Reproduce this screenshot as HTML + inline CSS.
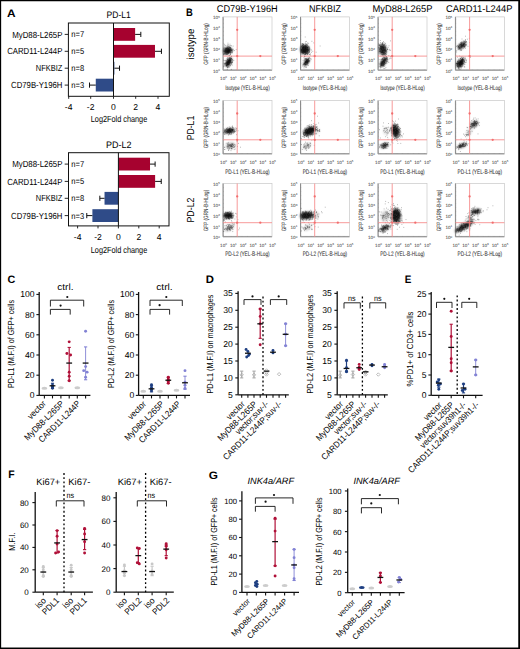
<!DOCTYPE html>
<html><head><meta charset="utf-8"><style>html,body{margin:0;padding:0;background:#fff;width:520px;height:649px;overflow:hidden}svg{display:block}text{font-family:"Liberation Sans", sans-serif;text-rendering:geometricPrecision}</style></head>
<body><svg width="520" height="649" viewBox="0 0 520 649">
<rect width="520" height="649" fill="#fff"/>
<text x="7" y="16.9" font-size="10.8" textLength="8.6" lengthAdjust="spacingAndGlyphs" font-weight="bold" fill="#000">A</text>
<text x="118.65" y="17.7" font-size="9.4" text-anchor="middle" textLength="24.3" lengthAdjust="spacingAndGlyphs">PD-L1</text>
<rect x="113.5" y="28" width="21.63" height="12.8" fill="#a6022f" />
<line x1="135.13" y1="34.4" x2="140.82" y2="34.4" stroke="#111" stroke-width="1" />
<line x1="140.82" y1="31.8" x2="140.82" y2="37" stroke="#111" stroke-width="1" />
<text x="62.4" y="37.5" font-size="8.9" text-anchor="end" textLength="50.2" lengthAdjust="spacingAndGlyphs">MyD88-L265P</text>
<line x1="64.7" y1="34.4" x2="68.4" y2="34.4" stroke="#111" stroke-width="0.9" />
<text x="71.3" y="37.4" font-size="8.5" textLength="12.8" lengthAdjust="spacingAndGlyphs">n=7</text>
<rect x="113.5" y="44.9" width="41.48" height="12.8" fill="#a6022f" />
<line x1="154.98" y1="51.3" x2="161.44" y2="51.3" stroke="#111" stroke-width="1" />
<line x1="161.44" y1="48.7" x2="161.44" y2="53.9" stroke="#111" stroke-width="1" />
<text x="62.4" y="54.4" font-size="8.9" text-anchor="end" textLength="55.2" lengthAdjust="spacingAndGlyphs">CARD11-L244P</text>
<line x1="64.7" y1="51.3" x2="68.4" y2="51.3" stroke="#111" stroke-width="0.9" />
<text x="71.3" y="54.3" font-size="8.5" textLength="12.8" lengthAdjust="spacingAndGlyphs">n=5</text>
<rect x="113.5" y="61.8" width="0.89" height="12.8" fill="#2f4b88" />
<line x1="114.39" y1="68.2" x2="119.52" y2="68.2" stroke="#111" stroke-width="1" />
<line x1="119.52" y1="65.6" x2="119.52" y2="70.8" stroke="#111" stroke-width="1" />
<text x="62.4" y="71.3" font-size="8.9" text-anchor="end" textLength="26.6" lengthAdjust="spacingAndGlyphs">NFKBIZ</text>
<line x1="64.7" y1="68.2" x2="68.4" y2="68.2" stroke="#111" stroke-width="0.9" />
<text x="71.3" y="71.2" font-size="8.5" textLength="12.8" lengthAdjust="spacingAndGlyphs">n=8</text>
<rect x="95.77" y="78.7" width="17.73" height="12.8" fill="#2f4b88" />
<line x1="95.77" y1="85.1" x2="89.53" y2="85.1" stroke="#111" stroke-width="1" />
<line x1="89.53" y1="82.5" x2="89.53" y2="87.7" stroke="#111" stroke-width="1" />
<text x="62.4" y="88.2" font-size="8.9" text-anchor="end" textLength="51.3" lengthAdjust="spacingAndGlyphs">CD79B-Y196H</text>
<line x1="64.7" y1="85.1" x2="68.4" y2="85.1" stroke="#111" stroke-width="0.9" />
<text x="71.3" y="88.1" font-size="8.5" textLength="12.8" lengthAdjust="spacingAndGlyphs">n=3</text>
<rect x="68.4" y="23" width="100.9" height="73.3" fill="none" stroke="#111" stroke-width="1"/>
<line x1="113.5" y1="23" x2="113.5" y2="96.3" stroke="#111" stroke-width="1" />
<line x1="68.7" y1="96.3" x2="68.7" y2="98.8" stroke="#111" stroke-width="0.9" />
<text x="68.7" y="109.9" font-size="8.6" text-anchor="middle">-4</text>
<line x1="90.7" y1="96.3" x2="90.7" y2="98.8" stroke="#111" stroke-width="0.9" />
<text x="90.7" y="109.9" font-size="8.6" text-anchor="middle">-2</text>
<line x1="113.5" y1="96.3" x2="113.5" y2="98.8" stroke="#111" stroke-width="0.9" />
<text x="113.5" y="109.9" font-size="8.6" text-anchor="middle">0</text>
<line x1="135.7" y1="96.3" x2="135.7" y2="98.8" stroke="#111" stroke-width="0.9" />
<text x="135.7" y="109.9" font-size="8.6" text-anchor="middle">2</text>
<line x1="158" y1="96.3" x2="158" y2="98.8" stroke="#111" stroke-width="0.9" />
<text x="158" y="109.9" font-size="8.6" text-anchor="middle">4</text>
<text x="119" y="121.8" font-size="8.9" text-anchor="middle" textLength="56.5" lengthAdjust="spacingAndGlyphs">Log2Fold change</text>
<text x="118.75" y="147.8" font-size="9.4" text-anchor="middle" textLength="25.5" lengthAdjust="spacingAndGlyphs">PD-L2</text>
<rect x="118.4" y="157.7" width="31.62" height="12.8" fill="#a6022f" />
<line x1="150.02" y1="164.1" x2="155.12" y2="164.1" stroke="#111" stroke-width="1" />
<line x1="155.12" y1="161.5" x2="155.12" y2="166.7" stroke="#111" stroke-width="1" />
<text x="62.4" y="167.2" font-size="8.9" text-anchor="end" textLength="50.2" lengthAdjust="spacingAndGlyphs">MyD88-L265P</text>
<line x1="64.7" y1="164.1" x2="68.5" y2="164.1" stroke="#111" stroke-width="0.9" />
<text x="71.3" y="167.1" font-size="8.5" textLength="12.8" lengthAdjust="spacingAndGlyphs">n=7</text>
<rect x="118.4" y="175" width="36.72" height="12.8" fill="#a6022f" />
<line x1="155.12" y1="181.4" x2="161.24" y2="181.4" stroke="#111" stroke-width="1" />
<line x1="161.24" y1="178.8" x2="161.24" y2="184" stroke="#111" stroke-width="1" />
<text x="62.4" y="184.5" font-size="8.9" text-anchor="end" textLength="55.2" lengthAdjust="spacingAndGlyphs">CARD11-L244P</text>
<line x1="64.7" y1="181.4" x2="68.5" y2="181.4" stroke="#111" stroke-width="0.9" />
<text x="71.3" y="184.4" font-size="8.5" textLength="12.8" lengthAdjust="spacingAndGlyphs">n=5</text>
<rect x="104.53" y="191.9" width="13.87" height="12.8" fill="#2f4b88" />
<line x1="104.53" y1="198.3" x2="99.84" y2="198.3" stroke="#111" stroke-width="1" />
<line x1="99.84" y1="195.7" x2="99.84" y2="200.9" stroke="#111" stroke-width="1" />
<text x="62.4" y="201.4" font-size="8.9" text-anchor="end" textLength="26.6" lengthAdjust="spacingAndGlyphs">NFKBIZ</text>
<line x1="64.7" y1="198.3" x2="68.5" y2="198.3" stroke="#111" stroke-width="0.9" />
<text x="71.3" y="201.3" font-size="8.5" textLength="12.8" lengthAdjust="spacingAndGlyphs">n=8</text>
<rect x="92.39" y="209.2" width="26.01" height="12.8" fill="#2f4b88" />
<line x1="92.39" y1="215.6" x2="86.78" y2="215.6" stroke="#111" stroke-width="1" />
<line x1="86.78" y1="213" x2="86.78" y2="218.2" stroke="#111" stroke-width="1" />
<text x="62.4" y="218.7" font-size="8.9" text-anchor="end" textLength="51.3" lengthAdjust="spacingAndGlyphs">CD79B-Y196H</text>
<line x1="64.7" y1="215.6" x2="68.5" y2="215.6" stroke="#111" stroke-width="0.9" />
<text x="71.3" y="218.6" font-size="8.5" textLength="12.8" lengthAdjust="spacingAndGlyphs">n=3</text>
<rect x="68.5" y="152.7" width="100.5" height="73.2" fill="none" stroke="#111" stroke-width="1"/>
<line x1="118.4" y1="152.7" x2="118.4" y2="225.9" stroke="#111" stroke-width="1" />
<line x1="77.6" y1="225.9" x2="77.6" y2="228.4" stroke="#111" stroke-width="0.9" />
<text x="77.6" y="240.2" font-size="8.6" text-anchor="middle">-4</text>
<line x1="98" y1="225.9" x2="98" y2="228.4" stroke="#111" stroke-width="0.9" />
<text x="98" y="240.2" font-size="8.6" text-anchor="middle">-2</text>
<line x1="118.4" y1="225.9" x2="118.4" y2="228.4" stroke="#111" stroke-width="0.9" />
<text x="118.4" y="240.2" font-size="8.6" text-anchor="middle">0</text>
<line x1="138.8" y1="225.9" x2="138.8" y2="228.4" stroke="#111" stroke-width="0.9" />
<text x="138.8" y="240.2" font-size="8.6" text-anchor="middle">2</text>
<line x1="159.2" y1="225.9" x2="159.2" y2="228.4" stroke="#111" stroke-width="0.9" />
<text x="159.2" y="240.2" font-size="8.6" text-anchor="middle">4</text>
<text x="119" y="252.7" font-size="8.9" text-anchor="middle" textLength="56.5" lengthAdjust="spacingAndGlyphs">Log2Fold change</text>
<text x="186" y="16.4" font-size="10.8" textLength="6.8" lengthAdjust="spacingAndGlyphs" font-weight="bold" fill="#000">B</text>
<text x="247.25" y="12.3" font-size="9.8" text-anchor="middle" textLength="60.9" lengthAdjust="spacingAndGlyphs">CD79B-Y196H</text>
<text x="325" y="12.3" font-size="9.8" text-anchor="middle" textLength="32" lengthAdjust="spacingAndGlyphs">NFKBIZ</text>
<text x="402.5" y="12.3" font-size="9.8" text-anchor="middle" textLength="60" lengthAdjust="spacingAndGlyphs">MyD88-L265P</text>
<text x="479.25" y="12.3" font-size="9.8" text-anchor="middle" textLength="66.5" lengthAdjust="spacingAndGlyphs">CARD11-L244P</text>
<text x="193.6" y="44" font-size="10.2" text-anchor="middle" textLength="31" lengthAdjust="spacingAndGlyphs" transform="rotate(-90 193.6 44)">isotype</text>
<text x="193.6" y="128" font-size="10.2" text-anchor="middle" textLength="24.5" lengthAdjust="spacingAndGlyphs" transform="rotate(-90 193.6 128)">PD-L1</text>
<text x="193.6" y="210" font-size="10.2" text-anchor="middle" textLength="25" lengthAdjust="spacingAndGlyphs" transform="rotate(-90 193.6 210)">PD-L2</text>
<defs><filter id="bl" x="-50%" y="-50%" width="200%" height="200%"><feGaussianBlur stdDeviation="0.8"/></filter></defs>
<text x="208.4" y="43.9" font-size="6.2" text-anchor="middle" textLength="41.5" lengthAdjust="spacingAndGlyphs" transform="rotate(-90 208.4 43.9)" fill="#333" stroke="#333" stroke-width="0.06">GFP (GRN-B-HLog)</text>
<text x="219.8" y="72.6" font-size="4.6" text-anchor="end" fill="#333">10<tspan dy="-1.7" font-size="3">0</tspan></text>
<text x="223.5" y="80" font-size="4.6" text-anchor="middle" fill="#333">10<tspan dy="-1.7" font-size="3">0</tspan></text>
<text x="219.8" y="61.94" font-size="4.6" text-anchor="end" fill="#333">10<tspan dy="-1.7" font-size="3">1</tspan></text>
<text x="233.3" y="80" font-size="4.6" text-anchor="middle" fill="#333">10<tspan dy="-1.7" font-size="3">1</tspan></text>
<text x="219.8" y="51.28" font-size="4.6" text-anchor="end" fill="#333">10<tspan dy="-1.7" font-size="3">2</tspan></text>
<text x="243.1" y="80" font-size="4.6" text-anchor="middle" fill="#333">10<tspan dy="-1.7" font-size="3">2</tspan></text>
<text x="219.8" y="40.62" font-size="4.6" text-anchor="end" fill="#333">10<tspan dy="-1.7" font-size="3">3</tspan></text>
<text x="252.9" y="80" font-size="4.6" text-anchor="middle" fill="#333">10<tspan dy="-1.7" font-size="3">3</tspan></text>
<text x="219.8" y="29.96" font-size="4.6" text-anchor="end" fill="#333">10<tspan dy="-1.7" font-size="3">4</tspan></text>
<text x="262.7" y="80" font-size="4.6" text-anchor="middle" fill="#333">10<tspan dy="-1.7" font-size="3">4</tspan></text>
<text x="219.8" y="19.3" font-size="4.6" text-anchor="end" fill="#333">10<tspan dy="-1.7" font-size="3">5</tspan></text>
<text x="272.5" y="80" font-size="4.6" text-anchor="middle" fill="#333">10<tspan dy="-1.7" font-size="3">5</tspan></text>
<text x="247.4" y="89.8" font-size="6.4" text-anchor="middle" textLength="44.5" lengthAdjust="spacingAndGlyphs" fill="#333" stroke="#333" stroke-width="0.06">Isotype (YEL-B-HLog)</text>
<rect x="223" y="16.9" width="49" height="53.3" fill="none" stroke="#c8c8c8" stroke-width="0.7"/>
<line x1="223" y1="16.9" x2="223" y2="70.2" stroke="#777" stroke-width="0.7" />
<line x1="223" y1="70.2" x2="272" y2="70.2" stroke="#777" stroke-width="0.7" />
<path d="M224.22 70.2v-.9M225.45 70.2v-.9M226.68 70.2v-.9M227.9 70.2v-.9M229.12 70.2v-.9M230.35 70.2v-.9M231.57 70.2v-.9M232.8 70.2v-.9M234.03 70.2v-.9M235.25 70.2v-.9M236.47 70.2v-.9M237.7 70.2v-.9M238.93 70.2v-.9M240.15 70.2v-.9M241.38 70.2v-.9M242.6 70.2v-.9M243.82 70.2v-.9M245.05 70.2v-.9M246.28 70.2v-.9M247.5 70.2v-.9M248.72 70.2v-.9M249.95 70.2v-.9M251.18 70.2v-.9M252.4 70.2v-.9M253.62 70.2v-.9M254.85 70.2v-.9M256.07 70.2v-.9M257.3 70.2v-.9M258.52 70.2v-.9M259.75 70.2v-.9M260.98 70.2v-.9M262.2 70.2v-.9M263.43 70.2v-.9M264.65 70.2v-.9M265.88 70.2v-.9M267.1 70.2v-.9M268.32 70.2v-.9M269.55 70.2v-.9M270.77 70.2v-.9M223 18.23h.9M223 19.56h.9M223 20.9h.9M223 22.23h.9M223 23.56h.9M223 24.89h.9M223 26.23h.9M223 27.56h.9M223 28.89h.9M223 30.22h.9M223 31.56h.9M223 32.89h.9M223 34.22h.9M223 35.55h.9M223 36.89h.9M223 38.22h.9M223 39.55h.9M223 40.88h.9M223 42.22h.9M223 43.55h.9M223 44.88h.9M223 46.21h.9M223 47.55h.9M223 48.88h.9M223 50.21h.9M223 51.54h.9M223 52.88h.9M223 54.21h.9M223 55.54h.9M223 56.88h.9M223 58.21h.9M223 59.54h.9M223 60.87h.9M223 62.2h.9M223 63.54h.9M223 64.87h.9M223 66.2h.9M223 67.53h.9M223 68.87h.9" stroke="#666" stroke-width="0.4"/>
<ellipse cx="227.6" cy="50.6" rx="4.2" ry="3.5" transform="rotate(-20 227.6 50.6)" fill="#000" opacity="0.81" filter="url(#bl)"/>
<ellipse cx="228.6" cy="62.2" rx="4.8" ry="2.4" transform="rotate(-58 228.6 62.2)" fill="#000" opacity="0.78" filter="url(#bl)"/>
<path d="M230.0 62.7h.01M225.5 51.2h.01M229.2 60.9h.01M228.3 62.7h.01M225.9 49.1h.01M229.1 45.7h.01M226.6 65.9h.01M230.7 57.4h.01M228.7 61.6h.01M228.9 62.3h.01M230.5 65.1h.01M227.9 52.7h.01M229.3 61.7h.01M228.2 52.6h.01M224.8 51.6h.01M228.7 50.1h.01M227.7 67.5h.01M226.0 60.7h.01M227.8 51.6h.01M227.7 50.9h.01M223.9 49.0h.01M229.2 61.9h.01M227.3 45.1h.01M227.5 64.5h.01M229.5 65.3h.01M229.3 62.1h.01M231.0 49.5h.01M229.0 60.9h.01M228.3 62.5h.01M229.6 67.1h.01M226.2 52.2h.01M229.8 51.8h.01M230.1 62.1h.01M228.3 48.9h.01M228.4 64.2h.01M231.3 56.1h.01M227.2 69.5h.01M230.1 62.5h.01M228.2 52.1h.01M226.8 48.4h.01M223.9 50.5h.01M225.7 48.6h.01M228.6 48.9h.01M227.0 62.1h.01M230.5 53.0h.01M228.6 66.2h.01M228.9 60.7h.01M227.9 62.4h.01M230.6 48.5h.01M226.2 53.1h.01M226.3 63.2h.01M229.2 60.9h.01M224.4 53.6h.01M226.0 62.7h.01M229.2 61.4h.01M226.3 60.8h.01M226.2 51.1h.01M229.5 51.9h.01M225.3 51.0h.01M228.6 62.2h.01M230.2 60.5h.01M223.8 54.3h.01M229.7 51.0h.01M229.7 61.4h.01M228.6 66.0h.01M234.5 50.6h.01M226.6 53.2h.01M228.7 62.5h.01M230.6 52.7h.01M227.9 59.3h.01M229.7 60.1h.01M226.9 62.8h.01M232.2 62.5h.01M231.9 62.4h.01M230.8 61.1h.01M230.4 60.3h.01M227.4 51.8h.01M227.5 61.7h.01M228.5 64.8h.01M225.8 64.0h.01M229.1 47.5h.01M230.6 59.9h.01M229.2 60.9h.01M228.7 59.9h.01M228.6 60.7h.01M224.5 64.6h.01M225.7 45.3h.01M230.0 60.7h.01M229.9 66.1h.01M230.3 49.2h.01M226.9 63.4h.01M227.7 62.5h.01M232.2 51.1h.01M229.4 50.7h.01M230.4 65.6h.01M228.4 64.2h.01M228.1 47.2h.01M231.2 58.8h.01M225.0 50.8h.01M224.1 54.9h.01M229.7 52.4h.01M230.0 61.4h.01M227.0 62.9h.01M231.3 69.4h.01M232.2 59.4h.01M227.7 65.9h.01M231.3 62.1h.01M230.1 47.5h.01M228.3 61.0h.01M224.3 63.6h.01M227.7 64.3h.01M228.6 51.1h.01M228.4 64.4h.01M227.7 63.7h.01M225.0 49.9h.01M225.8 63.9h.01M229.0 59.6h.01M226.1 65.6h.01M225.8 51.8h.01M229.6 57.4h.01M229.7 49.4h.01M232.4 49.5h.01M229.1 48.7h.01M228.6 53.1h.01M231.0 51.0h.01M225.7 63.7h.01M232.1 52.4h.01M229.4 63.3h.01M225.7 54.8h.01M231.6 63.3h.01M231.5 63.2h.01M227.8 51.7h.01M230.3 61.3h.01M227.9 48.9h.01M228.8 52.7h.01M227.0 50.7h.01M229.1 60.6h.01M226.5 65.5h.01M232.2 65.1h.01M230.5 54.2h.01M227.1 51.6h.01M228.0 63.4h.01M224.4 44.3h.01M228.5 50.6h.01M227.7 61.9h.01" stroke="#000" stroke-width="0.8" stroke-linecap="round" opacity="0.42"/>
<path d="M227.8 64.2h.01M228.2 60.4h.01M225.7 53.4h.01M224.4 52.3h.01M226.3 54.5h.01M227.9 62.6h.01M227.4 50.3h.01M228.9 50.1h.01M228.9 62.5h.01M228.3 62.0h.01M228.5 49.9h.01M228.5 53.6h.01M229.3 63.8h.01M236.2 49.6h.01M226.7 65.1h.01M229.3 52.3h.01M228.9 50.9h.01M230.4 61.4h.01M229.8 61.4h.01M228.3 51.6h.01M227.9 49.4h.01M227.5 62.4h.01M227.3 52.1h.01M227.1 49.0h.01M226.9 61.1h.01M230.5 51.3h.01M230.1 60.8h.01M231.8 50.0h.01M225.8 50.4h.01M230.8 45.6h.01M230.2 50.8h.01M225.0 50.4h.01M225.4 53.7h.01M229.5 60.0h.01M226.4 51.5h.01M226.9 63.7h.01M227.1 52.2h.01M230.4 61.2h.01M223.9 53.7h.01M226.7 52.8h.01M230.1 50.2h.01M224.0 60.5h.01M229.6 62.6h.01M231.7 49.2h.01M229.4 60.0h.01M228.3 61.9h.01M228.0 63.6h.01M226.8 64.2h.01M226.9 58.9h.01M226.0 52.7h.01M227.5 51.0h.01M228.7 52.7h.01M227.4 53.5h.01M227.6 65.1h.01M227.5 66.6h.01M229.1 58.7h.01M229.4 51.0h.01M228.2 67.1h.01M228.1 64.7h.01M227.4 52.4h.01M229.2 50.5h.01M231.0 62.7h.01M226.8 61.7h.01M227.1 62.8h.01M224.3 51.5h.01M229.6 62.6h.01M230.8 51.3h.01M229.9 51.4h.01M228.6 51.6h.01M229.1 59.6h.01M229.8 59.1h.01M227.2 48.2h.01M228.9 62.6h.01M228.2 52.2h.01M226.3 66.7h.01M225.2 50.4h.01M228.0 64.1h.01M229.2 50.5h.01M229.6 60.3h.01M227.9 49.5h.01M227.3 54.4h.01M223.6 66.2h.01M231.6 58.5h.01M224.2 48.7h.01M230.3 47.6h.01M230.1 58.8h.01M229.6 58.8h.01M231.5 50.7h.01M231.1 50.7h.01M225.8 51.0h.01M231.2 45.7h.01M227.3 53.4h.01M226.3 48.4h.01M227.9 50.7h.01M224.8 47.4h.01M230.4 54.8h.01M225.2 52.3h.01M227.6 59.8h.01M226.8 64.0h.01M226.2 52.5h.01M228.7 50.7h.01M229.0 62.6h.01M226.0 49.1h.01M229.5 55.5h.01M230.0 60.4h.01M229.2 47.7h.01M228.2 52.4h.01M230.3 63.7h.01M226.8 64.7h.01M229.5 52.1h.01M226.4 65.1h.01M228.3 48.3h.01M230.0 61.6h.01M229.0 63.8h.01M228.6 61.7h.01M227.6 63.8h.01M227.6 63.9h.01M228.6 50.5h.01M232.6 62.7h.01M224.8 66.0h.01M229.3 48.8h.01M228.9 50.5h.01M228.1 67.6h.01M228.7 53.1h.01M230.6 62.4h.01M233.8 60.5h.01M224.6 63.4h.01M228.3 63.8h.01M232.0 51.2h.01M227.0 48.0h.01M226.8 49.1h.01M228.8 51.0h.01M230.6 54.1h.01M228.2 58.0h.01M228.8 51.9h.01M233.1 46.1h.01M227.7 52.9h.01M228.8 49.9h.01M229.0 62.3h.01M231.1 50.1h.01M227.4 51.1h.01M232.1 51.1h.01M228.8 51.6h.01M228.5 62.4h.01M230.4 50.5h.01" stroke="#000" stroke-width="0.8" stroke-linecap="round" opacity="0.42"/>
<path d="M232.2 59.5h.01M227.1 50.7h.01M224.0 51.7h.01M230.6 52.4h.01M230.8 49.0h.01M226.6 50.0h.01M227.9 49.2h.01M225.1 60.6h.01M229.9 58.3h.01M230.3 59.5h.01M227.4 57.8h.01M231.2 58.3h.01M231.2 62.6h.01M229.3 61.1h.01M229.0 60.3h.01M231.0 61.0h.01M229.3 64.2h.01M225.9 62.9h.01M228.3 63.9h.01M226.6 54.3h.01M227.5 67.8h.01M226.1 64.9h.01M230.4 58.3h.01M228.3 50.3h.01M229.2 51.2h.01M230.7 48.9h.01M226.4 48.3h.01M225.2 52.0h.01M228.5 61.2h.01M230.0 49.8h.01M228.1 62.1h.01M223.9 54.2h.01M231.6 56.5h.01M229.6 61.9h.01M227.2 65.3h.01M229.5 62.7h.01M227.4 61.4h.01M227.9 58.8h.01M229.5 49.3h.01M230.8 60.4h.01M227.1 61.7h.01M232.2 52.7h.01M229.4 59.8h.01M231.1 58.3h.01M227.1 53.1h.01M228.0 51.8h.01M229.0 62.5h.01M232.3 50.6h.01M230.2 50.0h.01M228.7 62.2h.01M230.3 59.0h.01M231.2 52.5h.01M226.7 50.7h.01M225.5 63.6h.01M228.8 64.2h.01M229.7 50.1h.01M228.4 51.8h.01M225.7 49.7h.01M230.3 47.4h.01M227.1 63.0h.01M229.5 62.8h.01M225.8 48.3h.01M227.3 54.3h.01M228.4 50.7h.01M230.2 58.6h.01M228.7 63.0h.01M227.2 46.2h.01M229.5 60.3h.01M227.8 60.0h.01M228.6 50.6h.01M232.5 61.6h.01M230.1 60.7h.01M229.1 49.5h.01M230.1 58.3h.01M231.7 50.5h.01M228.9 55.6h.01M228.8 63.7h.01M225.1 49.7h.01M228.2 44.6h.01M228.0 43.2h.01M231.5 64.3h.01M227.6 63.7h.01M231.9 49.1h.01M228.5 51.2h.01M231.1 58.3h.01M229.7 64.5h.01M227.1 50.2h.01M224.8 53.4h.01M229.8 49.2h.01M231.8 48.8h.01M228.8 61.7h.01M229.6 51.8h.01M228.6 64.4h.01M228.1 60.2h.01M226.3 50.9h.01M229.4 60.5h.01M226.0 52.8h.01M229.5 50.2h.01M230.0 44.2h.01M231.3 50.5h.01M231.4 59.8h.01M224.9 54.4h.01M228.3 46.4h.01M227.5 47.4h.01M227.2 60.8h.01M227.6 61.8h.01M232.4 60.7h.01M230.1 62.8h.01M227.5 59.9h.01M230.4 59.7h.01M226.9 50.2h.01M227.2 64.5h.01M227.8 52.1h.01M227.5 59.9h.01M231.9 52.9h.01M227.9 49.0h.01M227.2 62.5h.01M227.4 51.3h.01M225.9 51.7h.01M229.0 63.5h.01M228.1 52.5h.01M227.7 61.8h.01M224.7 45.8h.01M227.8 65.1h.01M227.0 49.5h.01M228.3 61.7h.01M227.5 63.9h.01M229.2 60.3h.01M226.4 65.7h.01M233.2 50.8h.01M226.4 50.2h.01M230.7 59.5h.01M229.6 47.1h.01M229.2 58.1h.01M228.0 48.4h.01M230.6 59.0h.01M228.3 62.4h.01M230.0 49.5h.01M233.4 49.3h.01M229.1 51.1h.01M228.4 60.6h.01M229.3 63.0h.01M226.5 62.6h.01M229.1 46.9h.01" stroke="#000" stroke-width="0.8" stroke-linecap="round" opacity="0.42"/>
<line x1="237.2" y1="16.9" x2="237.2" y2="70.2" stroke="#f58888" stroke-width="0.85" />
<line x1="223" y1="56.1" x2="272" y2="56.1" stroke="#f58888" stroke-width="0.85" />
<circle cx="237.2" cy="29.8" r="1.15" fill="#f26d6d"/>
<circle cx="237.2" cy="56.1" r="1.15" fill="#f26d6d"/>
<circle cx="260.3" cy="56.1" r="1.15" fill="#f26d6d"/>
<text x="285.9" y="43.9" font-size="6.2" text-anchor="middle" textLength="41.5" lengthAdjust="spacingAndGlyphs" transform="rotate(-90 285.9 43.9)" fill="#333" stroke="#333" stroke-width="0.06">GFP (GRN-B-HLog)</text>
<text x="297.3" y="72.6" font-size="4.6" text-anchor="end" fill="#333">10<tspan dy="-1.7" font-size="3">0</tspan></text>
<text x="301" y="80" font-size="4.6" text-anchor="middle" fill="#333">10<tspan dy="-1.7" font-size="3">0</tspan></text>
<text x="297.3" y="61.94" font-size="4.6" text-anchor="end" fill="#333">10<tspan dy="-1.7" font-size="3">1</tspan></text>
<text x="310.8" y="80" font-size="4.6" text-anchor="middle" fill="#333">10<tspan dy="-1.7" font-size="3">1</tspan></text>
<text x="297.3" y="51.28" font-size="4.6" text-anchor="end" fill="#333">10<tspan dy="-1.7" font-size="3">2</tspan></text>
<text x="320.6" y="80" font-size="4.6" text-anchor="middle" fill="#333">10<tspan dy="-1.7" font-size="3">2</tspan></text>
<text x="297.3" y="40.62" font-size="4.6" text-anchor="end" fill="#333">10<tspan dy="-1.7" font-size="3">3</tspan></text>
<text x="330.4" y="80" font-size="4.6" text-anchor="middle" fill="#333">10<tspan dy="-1.7" font-size="3">3</tspan></text>
<text x="297.3" y="29.96" font-size="4.6" text-anchor="end" fill="#333">10<tspan dy="-1.7" font-size="3">4</tspan></text>
<text x="340.2" y="80" font-size="4.6" text-anchor="middle" fill="#333">10<tspan dy="-1.7" font-size="3">4</tspan></text>
<text x="297.3" y="19.3" font-size="4.6" text-anchor="end" fill="#333">10<tspan dy="-1.7" font-size="3">5</tspan></text>
<text x="350" y="80" font-size="4.6" text-anchor="middle" fill="#333">10<tspan dy="-1.7" font-size="3">5</tspan></text>
<text x="324.9" y="89.8" font-size="6.4" text-anchor="middle" textLength="44.5" lengthAdjust="spacingAndGlyphs" fill="#333" stroke="#333" stroke-width="0.06">Isotype (YEL-B-HLog)</text>
<rect x="300.5" y="16.9" width="49" height="53.3" fill="none" stroke="#c8c8c8" stroke-width="0.7"/>
<line x1="300.5" y1="16.9" x2="300.5" y2="70.2" stroke="#777" stroke-width="0.7" />
<line x1="300.5" y1="70.2" x2="349.5" y2="70.2" stroke="#777" stroke-width="0.7" />
<path d="M301.73 70.2v-.9M302.95 70.2v-.9M304.18 70.2v-.9M305.4 70.2v-.9M306.62 70.2v-.9M307.85 70.2v-.9M309.07 70.2v-.9M310.3 70.2v-.9M311.52 70.2v-.9M312.75 70.2v-.9M313.98 70.2v-.9M315.2 70.2v-.9M316.43 70.2v-.9M317.65 70.2v-.9M318.88 70.2v-.9M320.1 70.2v-.9M321.32 70.2v-.9M322.55 70.2v-.9M323.77 70.2v-.9M325 70.2v-.9M326.23 70.2v-.9M327.45 70.2v-.9M328.68 70.2v-.9M329.9 70.2v-.9M331.12 70.2v-.9M332.35 70.2v-.9M333.57 70.2v-.9M334.8 70.2v-.9M336.02 70.2v-.9M337.25 70.2v-.9M338.48 70.2v-.9M339.7 70.2v-.9M340.93 70.2v-.9M342.15 70.2v-.9M343.38 70.2v-.9M344.6 70.2v-.9M345.82 70.2v-.9M347.05 70.2v-.9M348.27 70.2v-.9M300.5 18.23h.9M300.5 19.56h.9M300.5 20.9h.9M300.5 22.23h.9M300.5 23.56h.9M300.5 24.89h.9M300.5 26.23h.9M300.5 27.56h.9M300.5 28.89h.9M300.5 30.22h.9M300.5 31.56h.9M300.5 32.89h.9M300.5 34.22h.9M300.5 35.55h.9M300.5 36.89h.9M300.5 38.22h.9M300.5 39.55h.9M300.5 40.88h.9M300.5 42.22h.9M300.5 43.55h.9M300.5 44.88h.9M300.5 46.21h.9M300.5 47.55h.9M300.5 48.88h.9M300.5 50.21h.9M300.5 51.54h.9M300.5 52.88h.9M300.5 54.21h.9M300.5 55.54h.9M300.5 56.88h.9M300.5 58.21h.9M300.5 59.54h.9M300.5 60.87h.9M300.5 62.2h.9M300.5 63.54h.9M300.5 64.87h.9M300.5 66.2h.9M300.5 67.53h.9M300.5 68.87h.9" stroke="#666" stroke-width="0.4"/>
<ellipse cx="304.8" cy="49.5" rx="4.6" ry="4.8" transform="rotate(0 304.8 49.5)" fill="#000" opacity="0.81" filter="url(#bl)"/>
<ellipse cx="306.5" cy="62" rx="4.2" ry="2.1" transform="rotate(-55 306.5 62)" fill="#000" opacity="0.77" filter="url(#bl)"/>
<path d="M303.0 48.1h.01M307.3 60.5h.01M302.0 54.2h.01M308.0 47.7h.01M307.4 63.0h.01M304.3 59.8h.01M306.6 60.7h.01M302.3 52.5h.01M302.0 44.4h.01M304.9 62.8h.01M303.3 46.8h.01M302.3 46.5h.01M306.0 67.6h.01M307.9 61.0h.01M306.7 60.5h.01M304.7 54.1h.01M305.4 51.6h.01M305.3 45.9h.01M306.1 60.8h.01M307.9 60.2h.01M303.5 51.3h.01M301.7 45.8h.01M307.0 60.6h.01M301.4 50.2h.01M307.2 47.3h.01M302.5 52.2h.01M304.0 51.1h.01M302.8 47.5h.01M306.1 49.8h.01M309.1 48.8h.01M306.4 58.7h.01M304.7 64.4h.01M307.1 52.4h.01M312.8 51.3h.01M306.1 53.2h.01M305.3 46.6h.01M302.2 45.4h.01M307.5 50.5h.01M302.8 48.6h.01M304.6 54.4h.01M305.5 52.4h.01M308.6 61.2h.01M302.6 50.0h.01M309.3 61.7h.01M307.9 47.4h.01M304.3 49.4h.01M307.2 46.1h.01M305.5 54.0h.01M307.6 62.7h.01M306.8 60.0h.01M304.6 63.2h.01M305.7 50.8h.01M306.7 61.6h.01M304.8 50.3h.01M316.1 52.2h.01M306.0 44.3h.01M304.4 52.3h.01M302.4 43.8h.01M302.0 50.5h.01M320.1 46.0h.01M306.9 59.0h.01M306.9 44.8h.01M306.9 50.2h.01M302.6 52.2h.01M303.3 50.3h.01M304.9 45.5h.01M304.1 64.2h.01M303.4 50.7h.01M309.1 47.9h.01M308.7 46.8h.01M305.7 48.7h.01M305.7 43.4h.01M303.3 49.8h.01M307.2 61.2h.01M309.2 60.5h.01M303.4 48.0h.01M303.9 52.3h.01M303.8 46.4h.01M305.2 62.7h.01M307.4 61.5h.01M309.9 58.8h.01M309.7 57.4h.01M302.4 44.9h.01M302.5 45.6h.01M301.9 53.8h.01M308.7 49.9h.01M305.1 64.7h.01M307.8 59.0h.01M307.2 61.9h.01M303.3 44.9h.01M306.2 60.3h.01M305.3 46.8h.01M307.6 49.7h.01M302.7 49.4h.01M308.0 53.6h.01M305.8 61.1h.01M305.6 48.6h.01M303.0 49.0h.01M305.1 52.6h.01M303.4 53.1h.01M304.4 51.5h.01M304.1 46.1h.01M302.0 46.9h.01M304.9 64.4h.01M304.0 47.8h.01M308.3 53.9h.01M307.7 53.4h.01M303.5 49.1h.01M309.2 51.0h.01M307.8 51.9h.01M308.9 52.1h.01M305.6 61.9h.01M302.9 48.5h.01M306.2 53.9h.01M304.9 61.7h.01M302.9 48.6h.01M304.5 58.7h.01M305.5 50.0h.01M305.5 64.5h.01M308.0 61.5h.01M303.6 52.2h.01M304.7 52.2h.01M307.7 53.9h.01M301.3 50.0h.01M308.4 50.2h.01M308.8 49.6h.01M303.8 63.7h.01M305.3 50.2h.01M307.2 65.2h.01M302.8 48.0h.01M304.6 63.9h.01M306.9 62.5h.01M305.5 61.7h.01M303.3 64.1h.01M308.7 60.3h.01" stroke="#000" stroke-width="0.8" stroke-linecap="round" opacity="0.42"/>
<path d="M307.3 60.3h.01M307.7 45.4h.01M306.6 49.5h.01M306.9 45.1h.01M305.8 47.4h.01M304.4 63.8h.01M307.0 62.0h.01M305.9 62.0h.01M301.3 52.7h.01M301.9 46.3h.01M302.4 53.1h.01M301.7 51.2h.01M308.7 62.1h.01M304.6 47.7h.01M305.8 49.2h.01M308.5 59.4h.01M309.8 54.5h.01M304.4 51.4h.01M307.3 61.1h.01M305.4 62.3h.01M302.2 44.9h.01M306.9 62.1h.01M307.7 52.0h.01M301.7 49.3h.01M303.7 51.6h.01M305.1 47.5h.01M306.1 61.9h.01M307.0 62.7h.01M305.6 62.5h.01M306.9 51.7h.01M304.9 51.0h.01M307.4 62.9h.01M307.3 48.0h.01M308.5 58.4h.01M307.5 54.3h.01M303.7 48.0h.01M307.5 62.5h.01M305.3 49.1h.01M302.5 52.7h.01M306.4 60.0h.01M305.5 59.1h.01M307.4 49.5h.01M303.6 44.2h.01M306.5 49.6h.01M306.9 47.1h.01M304.5 56.3h.01M304.1 45.7h.01M303.0 47.1h.01M307.1 51.2h.01M305.3 62.2h.01M302.8 48.8h.01M303.7 53.0h.01M303.4 51.5h.01M309.5 49.0h.01M304.2 50.2h.01M302.0 43.8h.01M301.4 50.2h.01M304.5 60.2h.01M307.6 54.6h.01M306.4 59.7h.01M305.9 65.2h.01M306.3 48.1h.01M307.7 43.0h.01M308.3 63.3h.01M308.3 52.4h.01M305.3 66.8h.01M305.2 48.5h.01M305.3 54.3h.01M305.6 59.1h.01M304.4 47.5h.01M301.1 56.4h.01M308.7 46.7h.01M304.2 50.5h.01M303.7 46.4h.01M304.5 46.5h.01M308.0 50.3h.01M307.3 61.0h.01M303.0 52.8h.01M305.0 65.4h.01M309.1 61.6h.01M303.9 49.5h.01M302.6 51.1h.01M308.5 60.0h.01M308.1 50.7h.01M304.3 50.0h.01M302.8 51.6h.01M307.9 49.6h.01M302.6 47.9h.01M302.8 66.0h.01M306.0 64.6h.01M306.4 63.1h.01M303.1 64.6h.01M314.3 56.4h.01M308.8 60.7h.01M303.1 47.6h.01M309.7 50.9h.01M306.7 61.3h.01M305.8 59.2h.01M305.6 62.8h.01M307.8 59.5h.01M301.7 46.9h.01M303.9 50.8h.01M304.0 67.9h.01M307.0 61.6h.01M305.7 45.2h.01M304.9 64.0h.01M306.1 46.1h.01M301.2 52.1h.01M305.3 61.5h.01M305.9 58.4h.01M303.4 47.3h.01M306.6 62.0h.01M305.0 52.4h.01M303.8 43.9h.01M303.2 49.3h.01M304.6 56.7h.01M307.4 47.6h.01M305.6 47.4h.01M305.2 62.6h.01M307.7 59.5h.01M307.1 61.8h.01M308.1 61.8h.01M308.9 51.9h.01M306.0 50.4h.01M305.3 64.5h.01M302.8 47.2h.01M311.5 52.3h.01M301.2 51.6h.01M303.8 52.5h.01M303.4 44.5h.01M305.5 48.0h.01M309.8 48.8h.01M309.8 60.6h.01M303.6 46.0h.01" stroke="#000" stroke-width="0.8" stroke-linecap="round" opacity="0.42"/>
<path d="M304.3 66.4h.01M302.3 43.6h.01M305.4 49.1h.01M304.9 48.2h.01M306.0 60.1h.01M304.4 48.7h.01M307.2 59.9h.01M301.8 51.2h.01M305.9 62.7h.01M306.2 52.1h.01M306.2 64.5h.01M306.1 47.0h.01M308.0 62.4h.01M306.2 50.7h.01M305.9 61.6h.01M304.4 56.2h.01M306.3 46.5h.01M306.8 44.3h.01M306.3 60.1h.01M301.4 51.2h.01M302.1 45.4h.01M310.3 53.8h.01M305.8 56.6h.01M306.2 45.8h.01M307.7 61.2h.01M307.0 44.2h.01M305.6 48.1h.01M306.8 63.0h.01M304.7 48.3h.01M305.6 46.5h.01M302.2 51.4h.01M303.0 49.9h.01M305.8 58.6h.01M305.6 63.0h.01M309.4 52.5h.01M301.9 52.5h.01M302.9 47.4h.01M305.1 49.9h.01M306.4 67.0h.01M308.3 58.5h.01M301.2 46.4h.01M307.8 48.3h.01M307.2 63.9h.01M305.2 47.9h.01M307.6 51.7h.01M302.2 50.9h.01M306.1 64.1h.01M306.1 60.7h.01M303.3 51.0h.01M309.7 54.3h.01M307.3 47.2h.01M301.3 52.5h.01M304.8 52.0h.01M306.6 61.5h.01M302.9 45.5h.01M306.1 47.2h.01M307.2 47.9h.01M308.9 50.6h.01M306.5 61.7h.01M303.7 47.7h.01M307.1 62.5h.01M309.1 49.6h.01M305.5 63.7h.01M309.5 47.1h.01M307.2 59.7h.01M305.6 49.0h.01M311.4 50.0h.01M305.3 51.2h.01M305.1 49.9h.01M308.3 61.6h.01M307.3 53.6h.01M307.8 48.2h.01M304.5 63.3h.01M307.0 62.9h.01M313.8 42.9h.01M306.4 53.2h.01M306.1 53.5h.01M305.1 51.0h.01M305.8 59.1h.01M309.5 51.3h.01M303.1 50.5h.01M303.9 57.8h.01M305.5 51.2h.01M305.8 53.6h.01M310.3 55.1h.01M310.0 58.5h.01M303.3 44.4h.01M305.2 37.0h.01M305.4 45.2h.01M308.2 59.6h.01M308.5 65.3h.01M304.5 49.1h.01M306.4 60.5h.01M307.0 64.3h.01M306.0 52.5h.01M307.5 64.1h.01M302.9 48.7h.01M306.6 48.7h.01M303.2 64.9h.01M305.6 51.7h.01M303.1 60.3h.01M311.9 41.3h.01M308.0 53.0h.01M305.6 62.0h.01M306.0 47.7h.01M306.9 51.1h.01M303.9 49.6h.01M307.8 61.6h.01M306.2 62.4h.01M306.6 41.4h.01M305.7 54.4h.01M306.2 63.1h.01M309.2 47.8h.01M301.7 49.7h.01M307.1 63.2h.01M309.0 57.1h.01M303.2 53.7h.01M306.5 53.4h.01M308.7 43.3h.01M311.2 59.1h.01M308.2 60.4h.01M302.8 51.9h.01M305.4 41.8h.01M303.7 50.2h.01M307.8 49.1h.01M309.9 49.7h.01M307.2 61.4h.01M303.4 47.3h.01M305.1 50.2h.01M301.7 49.9h.01M307.4 49.7h.01M306.3 62.4h.01M306.9 49.5h.01M304.7 49.1h.01" stroke="#000" stroke-width="0.8" stroke-linecap="round" opacity="0.42"/>
<line x1="314.7" y1="16.9" x2="314.7" y2="70.2" stroke="#f58888" stroke-width="0.85" />
<line x1="300.5" y1="56.1" x2="349.5" y2="56.1" stroke="#f58888" stroke-width="0.85" />
<circle cx="314.7" cy="29.8" r="1.15" fill="#f26d6d"/>
<circle cx="314.7" cy="56.1" r="1.15" fill="#f26d6d"/>
<circle cx="337.8" cy="56.1" r="1.15" fill="#f26d6d"/>
<text x="363.4" y="43.9" font-size="6.2" text-anchor="middle" textLength="41.5" lengthAdjust="spacingAndGlyphs" transform="rotate(-90 363.4 43.9)" fill="#333" stroke="#333" stroke-width="0.06">GFP (GRN-B-HLog)</text>
<text x="374.8" y="72.6" font-size="4.6" text-anchor="end" fill="#333">10<tspan dy="-1.7" font-size="3">0</tspan></text>
<text x="378.5" y="80" font-size="4.6" text-anchor="middle" fill="#333">10<tspan dy="-1.7" font-size="3">0</tspan></text>
<text x="374.8" y="61.94" font-size="4.6" text-anchor="end" fill="#333">10<tspan dy="-1.7" font-size="3">1</tspan></text>
<text x="388.3" y="80" font-size="4.6" text-anchor="middle" fill="#333">10<tspan dy="-1.7" font-size="3">1</tspan></text>
<text x="374.8" y="51.28" font-size="4.6" text-anchor="end" fill="#333">10<tspan dy="-1.7" font-size="3">2</tspan></text>
<text x="398.1" y="80" font-size="4.6" text-anchor="middle" fill="#333">10<tspan dy="-1.7" font-size="3">2</tspan></text>
<text x="374.8" y="40.62" font-size="4.6" text-anchor="end" fill="#333">10<tspan dy="-1.7" font-size="3">3</tspan></text>
<text x="407.9" y="80" font-size="4.6" text-anchor="middle" fill="#333">10<tspan dy="-1.7" font-size="3">3</tspan></text>
<text x="374.8" y="29.96" font-size="4.6" text-anchor="end" fill="#333">10<tspan dy="-1.7" font-size="3">4</tspan></text>
<text x="417.7" y="80" font-size="4.6" text-anchor="middle" fill="#333">10<tspan dy="-1.7" font-size="3">4</tspan></text>
<text x="374.8" y="19.3" font-size="4.6" text-anchor="end" fill="#333">10<tspan dy="-1.7" font-size="3">5</tspan></text>
<text x="427.5" y="80" font-size="4.6" text-anchor="middle" fill="#333">10<tspan dy="-1.7" font-size="3">5</tspan></text>
<text x="402.4" y="89.8" font-size="6.4" text-anchor="middle" textLength="44.5" lengthAdjust="spacingAndGlyphs" fill="#333" stroke="#333" stroke-width="0.06">Isotype (YEL-B-HLog)</text>
<rect x="378" y="16.9" width="49" height="53.3" fill="none" stroke="#c8c8c8" stroke-width="0.7"/>
<line x1="378" y1="16.9" x2="378" y2="70.2" stroke="#777" stroke-width="0.7" />
<line x1="378" y1="70.2" x2="427" y2="70.2" stroke="#777" stroke-width="0.7" />
<path d="M379.23 70.2v-.9M380.45 70.2v-.9M381.68 70.2v-.9M382.9 70.2v-.9M384.12 70.2v-.9M385.35 70.2v-.9M386.57 70.2v-.9M387.8 70.2v-.9M389.02 70.2v-.9M390.25 70.2v-.9M391.48 70.2v-.9M392.7 70.2v-.9M393.93 70.2v-.9M395.15 70.2v-.9M396.38 70.2v-.9M397.6 70.2v-.9M398.82 70.2v-.9M400.05 70.2v-.9M401.27 70.2v-.9M402.5 70.2v-.9M403.73 70.2v-.9M404.95 70.2v-.9M406.18 70.2v-.9M407.4 70.2v-.9M408.62 70.2v-.9M409.85 70.2v-.9M411.07 70.2v-.9M412.3 70.2v-.9M413.52 70.2v-.9M414.75 70.2v-.9M415.98 70.2v-.9M417.2 70.2v-.9M418.43 70.2v-.9M419.65 70.2v-.9M420.88 70.2v-.9M422.1 70.2v-.9M423.32 70.2v-.9M424.55 70.2v-.9M425.77 70.2v-.9M378 18.23h.9M378 19.56h.9M378 20.9h.9M378 22.23h.9M378 23.56h.9M378 24.89h.9M378 26.23h.9M378 27.56h.9M378 28.89h.9M378 30.22h.9M378 31.56h.9M378 32.89h.9M378 34.22h.9M378 35.55h.9M378 36.89h.9M378 38.22h.9M378 39.55h.9M378 40.88h.9M378 42.22h.9M378 43.55h.9M378 44.88h.9M378 46.21h.9M378 47.55h.9M378 48.88h.9M378 50.21h.9M378 51.54h.9M378 52.88h.9M378 54.21h.9M378 55.54h.9M378 56.88h.9M378 58.21h.9M378 59.54h.9M378 60.87h.9M378 62.2h.9M378 63.54h.9M378 64.87h.9M378 66.2h.9M378 67.53h.9M378 68.87h.9" stroke="#666" stroke-width="0.4"/>
<ellipse cx="382.8" cy="49.5" rx="3.8" ry="5.8" transform="rotate(-8 382.8 49.5)" fill="#000" opacity="0.68" filter="url(#bl)"/>
<ellipse cx="383.5" cy="62" rx="5.2" ry="2.4" transform="rotate(-60 383.5 62)" fill="#000" opacity="0.68" filter="url(#bl)"/>
<path d="M383.2 64.9h.01M384.2 49.9h.01M383.7 61.6h.01M385.0 62.4h.01M379.2 53.2h.01M384.1 60.0h.01M383.0 47.0h.01M381.7 54.5h.01M385.6 53.1h.01M383.1 51.7h.01M380.0 59.5h.01M384.0 51.0h.01M380.5 50.1h.01M380.9 53.7h.01M381.3 64.6h.01M381.6 65.5h.01M383.2 50.6h.01M386.3 60.5h.01M386.0 56.9h.01M384.3 62.3h.01M382.0 62.5h.01M387.9 61.2h.01M390.2 58.1h.01M388.8 62.5h.01M381.6 63.4h.01M381.1 47.3h.01M380.5 52.7h.01M386.7 51.9h.01M381.1 47.6h.01M384.6 59.9h.01M382.3 50.1h.01M384.6 57.8h.01M380.4 65.8h.01M384.7 54.0h.01M383.3 62.3h.01M380.2 67.9h.01M383.1 48.9h.01M385.0 47.8h.01M382.1 44.7h.01M385.3 53.2h.01M382.2 63.7h.01M386.9 63.0h.01M385.0 50.9h.01M384.5 44.5h.01M389.8 58.8h.01M381.6 52.6h.01M383.6 41.6h.01M383.1 65.7h.01M382.9 60.8h.01M383.1 52.0h.01M391.2 58.2h.01M383.8 52.2h.01M383.7 50.2h.01M383.1 47.9h.01M382.5 50.5h.01M383.0 50.7h.01M383.5 54.4h.01M385.8 58.0h.01M381.4 65.4h.01M383.7 52.7h.01M379.2 52.1h.01M382.4 42.7h.01M385.3 60.6h.01M387.4 60.9h.01M381.1 60.8h.01M382.7 52.6h.01M385.2 59.7h.01M382.3 44.0h.01M386.4 62.1h.01M384.1 49.6h.01M384.2 62.0h.01M384.6 61.2h.01M384.2 59.1h.01M383.0 57.2h.01M383.9 64.2h.01M383.3 66.1h.01M383.4 52.5h.01M385.2 61.1h.01M387.1 58.4h.01M382.2 59.0h.01M379.4 45.0h.01M386.6 52.3h.01M380.6 64.3h.01M383.5 47.7h.01M384.8 49.0h.01M380.4 51.4h.01M380.1 63.8h.01M383.2 64.5h.01M382.4 61.7h.01M387.7 59.7h.01M386.2 58.5h.01M384.1 62.1h.01M382.9 62.7h.01M384.6 66.2h.01M386.1 50.9h.01M382.0 63.9h.01M381.6 53.1h.01M382.9 62.7h.01M382.2 61.5h.01M385.4 59.5h.01M385.4 47.2h.01M383.3 64.6h.01M382.3 46.5h.01M387.0 49.0h.01M380.2 65.9h.01M385.2 59.9h.01M383.2 61.8h.01M385.4 51.6h.01M386.9 61.1h.01M380.6 46.6h.01M386.2 61.0h.01M381.3 51.2h.01M380.7 51.8h.01M385.5 48.1h.01M383.1 48.0h.01M387.1 57.5h.01M382.0 51.5h.01M386.1 56.4h.01M382.6 52.5h.01M381.5 49.7h.01M381.1 47.9h.01M383.4 64.7h.01M385.2 55.0h.01M384.3 53.7h.01M382.5 58.6h.01M382.9 52.1h.01M384.1 42.8h.01M382.3 43.7h.01M385.6 59.2h.01M382.6 47.5h.01M383.0 65.0h.01M380.7 65.5h.01M390.5 40.9h.01M387.7 49.2h.01M381.2 48.9h.01M383.0 49.8h.01M379.5 44.8h.01M383.6 47.4h.01M384.3 63.0h.01M384.6 53.3h.01M384.1 64.5h.01M385.7 50.0h.01M383.8 63.4h.01M383.6 57.5h.01" stroke="#000" stroke-width="0.8" stroke-linecap="round" opacity="0.42"/>
<path d="M382.1 62.6h.01M384.0 63.8h.01M384.5 60.2h.01M380.1 47.6h.01M380.0 64.1h.01M382.0 51.9h.01M385.1 50.8h.01M385.2 60.3h.01M382.6 51.5h.01M383.3 65.6h.01M384.7 59.8h.01M384.6 59.2h.01M383.9 49.6h.01M383.9 68.6h.01M380.4 46.1h.01M382.1 52.2h.01M380.8 62.7h.01M382.6 43.1h.01M384.1 51.8h.01M382.6 63.9h.01M386.0 45.4h.01M381.6 59.3h.01M384.7 48.0h.01M382.8 51.7h.01M384.9 44.8h.01M382.3 47.2h.01M381.7 64.7h.01M379.0 47.8h.01M381.9 62.6h.01M381.8 65.2h.01M385.3 49.6h.01M382.3 65.1h.01M379.4 48.7h.01M383.7 60.4h.01M383.3 61.2h.01M387.8 59.5h.01M382.9 47.9h.01M382.2 65.8h.01M385.9 67.4h.01M384.6 60.3h.01M381.2 63.2h.01M381.7 59.7h.01M381.6 52.4h.01M384.5 51.2h.01M383.0 61.5h.01M382.7 51.6h.01M382.0 50.1h.01M382.7 63.4h.01M383.7 56.3h.01M381.7 61.7h.01M384.7 47.4h.01M382.5 53.8h.01M379.9 54.2h.01M384.8 60.2h.01M382.2 54.7h.01M385.6 43.4h.01M383.3 53.4h.01M382.4 51.6h.01M382.0 61.4h.01M382.6 50.0h.01M383.4 50.6h.01M386.3 56.6h.01M384.4 57.0h.01M385.8 53.6h.01M384.2 47.6h.01M385.9 53.5h.01M379.9 50.1h.01M383.9 61.7h.01M383.4 46.4h.01M387.2 59.1h.01M382.0 61.9h.01M381.1 49.7h.01M381.4 64.0h.01M383.7 52.3h.01M383.7 60.5h.01M389.7 49.3h.01M385.9 54.6h.01M382.9 59.3h.01M387.8 49.5h.01M388.8 55.5h.01M380.1 48.1h.01M380.4 66.5h.01M383.9 51.0h.01M381.8 64.1h.01M385.8 63.5h.01M383.0 63.7h.01M382.7 46.0h.01M386.7 58.9h.01M381.7 49.0h.01M380.3 67.7h.01M383.7 45.2h.01M382.4 44.4h.01M382.1 63.9h.01M382.1 50.6h.01M384.6 60.1h.01M380.6 46.0h.01M386.3 50.4h.01M382.0 63.2h.01M385.3 51.5h.01M385.7 50.2h.01M383.6 64.1h.01M383.0 47.4h.01M385.8 59.2h.01M384.3 63.4h.01M384.8 59.7h.01M383.5 48.2h.01M381.7 49.2h.01M382.4 54.6h.01M380.9 50.4h.01M383.9 59.4h.01M383.6 63.5h.01M384.4 50.2h.01M380.9 48.3h.01M384.8 52.5h.01M386.7 58.5h.01M381.0 48.8h.01M384.8 54.3h.01M387.7 58.1h.01M385.2 50.1h.01M384.5 59.1h.01M382.6 44.8h.01M382.1 49.9h.01M381.8 62.3h.01M380.6 48.1h.01M378.8 44.1h.01M386.3 58.5h.01M381.2 67.2h.01M383.3 47.2h.01M379.4 51.4h.01M386.3 59.4h.01M381.3 46.9h.01M384.3 62.5h.01M384.8 59.3h.01M389.0 45.8h.01M384.7 54.5h.01M381.6 46.6h.01M383.2 48.5h.01M381.6 46.1h.01M379.8 50.5h.01M380.8 44.6h.01M381.9 64.0h.01M384.1 64.6h.01M380.7 61.9h.01M384.7 50.8h.01" stroke="#000" stroke-width="0.8" stroke-linecap="round" opacity="0.42"/>
<path d="M384.4 58.1h.01M388.1 47.4h.01M383.8 59.7h.01M382.1 46.6h.01M384.7 46.4h.01M381.7 47.0h.01M385.4 60.1h.01M380.8 65.9h.01M381.3 65.9h.01M381.9 62.9h.01M380.5 42.7h.01M381.4 48.4h.01M385.3 48.9h.01M381.6 46.3h.01M383.1 58.9h.01M380.3 46.6h.01M380.3 64.1h.01M383.5 65.9h.01M381.9 64.6h.01M384.8 49.5h.01M381.4 64.0h.01M383.6 60.8h.01M385.6 58.5h.01M387.1 61.7h.01M385.9 47.3h.01M383.1 54.7h.01M382.5 62.2h.01M382.7 49.8h.01M383.0 60.0h.01M384.1 61.7h.01M381.4 51.0h.01M382.7 65.3h.01M383.2 53.2h.01M379.9 49.1h.01M384.0 50.4h.01M385.9 63.1h.01M381.8 52.4h.01M381.4 65.0h.01M382.9 55.4h.01M383.9 47.2h.01M382.2 51.4h.01M386.3 61.2h.01M390.1 50.2h.01M382.9 58.5h.01M383.5 44.7h.01M382.3 59.6h.01M386.3 54.5h.01M384.4 62.8h.01M381.7 48.9h.01M379.4 51.4h.01M384.2 46.1h.01M382.6 48.1h.01M384.9 61.6h.01M382.9 61.8h.01M379.3 45.7h.01M386.9 58.9h.01M381.0 63.5h.01M385.9 58.1h.01M384.4 45.6h.01M384.1 62.3h.01M385.9 53.2h.01M383.6 61.2h.01M378.9 45.3h.01M382.9 62.7h.01M383.7 49.1h.01M381.2 44.1h.01M383.2 60.6h.01M390.1 50.5h.01M381.7 47.5h.01M383.5 49.3h.01M380.7 48.2h.01M383.6 61.9h.01M387.6 49.2h.01M380.9 46.3h.01M380.3 51.7h.01M379.7 49.7h.01M385.2 63.6h.01M382.1 66.7h.01M382.3 50.2h.01M386.7 57.5h.01M381.0 56.2h.01M385.1 48.6h.01M383.5 53.5h.01M379.2 66.5h.01M380.1 51.8h.01M384.3 60.8h.01M382.3 52.5h.01M382.6 62.1h.01M386.0 59.2h.01M380.8 45.8h.01M384.4 53.2h.01M386.2 59.4h.01M384.9 68.5h.01M382.3 59.9h.01M382.3 46.6h.01M383.4 54.8h.01M379.9 49.5h.01M381.9 48.9h.01M383.5 47.9h.01M384.7 50.4h.01M380.3 40.5h.01M385.4 46.8h.01M383.9 48.4h.01M382.9 52.2h.01M384.1 64.1h.01M381.2 52.1h.01M382.8 43.2h.01M384.4 62.4h.01M382.7 64.9h.01M383.7 63.9h.01M383.3 62.9h.01M382.0 61.8h.01M386.5 56.6h.01M384.3 55.3h.01M381.6 63.5h.01M382.4 63.2h.01M384.1 61.4h.01M383.9 60.5h.01M381.8 48.8h.01M384.2 49.8h.01M381.2 62.6h.01M384.1 46.6h.01M385.6 55.6h.01M383.5 60.5h.01M383.2 50.1h.01M382.2 55.0h.01M384.8 62.5h.01M391.8 56.0h.01M383.4 45.5h.01M385.8 50.7h.01M384.5 52.4h.01M380.7 48.8h.01M383.0 62.9h.01M386.1 51.5h.01M384.8 65.1h.01M382.1 65.6h.01M380.3 51.3h.01M390.4 56.6h.01M382.4 48.0h.01M379.4 45.4h.01M380.8 48.6h.01M385.8 50.3h.01M382.0 48.7h.01" stroke="#000" stroke-width="0.8" stroke-linecap="round" opacity="0.42"/>
<line x1="392.2" y1="16.9" x2="392.2" y2="70.2" stroke="#f58888" stroke-width="0.85" />
<line x1="378" y1="56.1" x2="427" y2="56.1" stroke="#f58888" stroke-width="0.85" />
<circle cx="392.2" cy="29.8" r="1.15" fill="#f26d6d"/>
<circle cx="392.2" cy="56.1" r="1.15" fill="#f26d6d"/>
<circle cx="415.3" cy="56.1" r="1.15" fill="#f26d6d"/>
<text x="440.8" y="43.9" font-size="6.2" text-anchor="middle" textLength="41.5" lengthAdjust="spacingAndGlyphs" transform="rotate(-90 440.8 43.9)" fill="#333" stroke="#333" stroke-width="0.06">GFP (GRN-B-HLog)</text>
<text x="452.2" y="72.6" font-size="4.6" text-anchor="end" fill="#333">10<tspan dy="-1.7" font-size="3">0</tspan></text>
<text x="455.9" y="80" font-size="4.6" text-anchor="middle" fill="#333">10<tspan dy="-1.7" font-size="3">0</tspan></text>
<text x="452.2" y="61.94" font-size="4.6" text-anchor="end" fill="#333">10<tspan dy="-1.7" font-size="3">1</tspan></text>
<text x="465.7" y="80" font-size="4.6" text-anchor="middle" fill="#333">10<tspan dy="-1.7" font-size="3">1</tspan></text>
<text x="452.2" y="51.28" font-size="4.6" text-anchor="end" fill="#333">10<tspan dy="-1.7" font-size="3">2</tspan></text>
<text x="475.5" y="80" font-size="4.6" text-anchor="middle" fill="#333">10<tspan dy="-1.7" font-size="3">2</tspan></text>
<text x="452.2" y="40.62" font-size="4.6" text-anchor="end" fill="#333">10<tspan dy="-1.7" font-size="3">3</tspan></text>
<text x="485.3" y="80" font-size="4.6" text-anchor="middle" fill="#333">10<tspan dy="-1.7" font-size="3">3</tspan></text>
<text x="452.2" y="29.96" font-size="4.6" text-anchor="end" fill="#333">10<tspan dy="-1.7" font-size="3">4</tspan></text>
<text x="495.1" y="80" font-size="4.6" text-anchor="middle" fill="#333">10<tspan dy="-1.7" font-size="3">4</tspan></text>
<text x="452.2" y="19.3" font-size="4.6" text-anchor="end" fill="#333">10<tspan dy="-1.7" font-size="3">5</tspan></text>
<text x="504.9" y="80" font-size="4.6" text-anchor="middle" fill="#333">10<tspan dy="-1.7" font-size="3">5</tspan></text>
<text x="479.8" y="89.8" font-size="6.4" text-anchor="middle" textLength="44.5" lengthAdjust="spacingAndGlyphs" fill="#333" stroke="#333" stroke-width="0.06">Isotype (YEL-B-HLog)</text>
<rect x="455.4" y="16.9" width="49" height="53.3" fill="none" stroke="#c8c8c8" stroke-width="0.7"/>
<line x1="455.4" y1="16.9" x2="455.4" y2="70.2" stroke="#777" stroke-width="0.7" />
<line x1="455.4" y1="70.2" x2="504.4" y2="70.2" stroke="#777" stroke-width="0.7" />
<path d="M456.62 70.2v-.9M457.85 70.2v-.9M459.07 70.2v-.9M460.3 70.2v-.9M461.52 70.2v-.9M462.75 70.2v-.9M463.97 70.2v-.9M465.2 70.2v-.9M466.42 70.2v-.9M467.65 70.2v-.9M468.88 70.2v-.9M470.1 70.2v-.9M471.32 70.2v-.9M472.55 70.2v-.9M473.77 70.2v-.9M475 70.2v-.9M476.22 70.2v-.9M477.45 70.2v-.9M478.67 70.2v-.9M479.9 70.2v-.9M481.12 70.2v-.9M482.35 70.2v-.9M483.57 70.2v-.9M484.8 70.2v-.9M486.02 70.2v-.9M487.25 70.2v-.9M488.47 70.2v-.9M489.7 70.2v-.9M490.92 70.2v-.9M492.15 70.2v-.9M493.38 70.2v-.9M494.6 70.2v-.9M495.82 70.2v-.9M497.05 70.2v-.9M498.27 70.2v-.9M499.5 70.2v-.9M500.72 70.2v-.9M501.95 70.2v-.9M503.17 70.2v-.9M455.4 18.23h.9M455.4 19.56h.9M455.4 20.9h.9M455.4 22.23h.9M455.4 23.56h.9M455.4 24.89h.9M455.4 26.23h.9M455.4 27.56h.9M455.4 28.89h.9M455.4 30.22h.9M455.4 31.56h.9M455.4 32.89h.9M455.4 34.22h.9M455.4 35.55h.9M455.4 36.89h.9M455.4 38.22h.9M455.4 39.55h.9M455.4 40.88h.9M455.4 42.22h.9M455.4 43.55h.9M455.4 44.88h.9M455.4 46.21h.9M455.4 47.55h.9M455.4 48.88h.9M455.4 50.21h.9M455.4 51.54h.9M455.4 52.88h.9M455.4 54.21h.9M455.4 55.54h.9M455.4 56.88h.9M455.4 58.21h.9M455.4 59.54h.9M455.4 60.87h.9M455.4 62.2h.9M455.4 63.54h.9M455.4 64.87h.9M455.4 66.2h.9M455.4 67.53h.9M455.4 68.87h.9" stroke="#666" stroke-width="0.4"/>
<ellipse cx="462" cy="45.5" rx="4.8" ry="2.6" transform="rotate(-45 462 45.5)" fill="#000" opacity="0.64" filter="url(#bl)"/>
<ellipse cx="460.5" cy="63" rx="5.4" ry="3" transform="rotate(-55 460.5 63)" fill="#000" opacity="0.81" filter="url(#bl)"/>
<path d="M460.9 42.7h.01M461.0 63.1h.01M462.5 65.3h.01M463.5 48.1h.01M462.2 62.3h.01M462.3 45.4h.01M460.5 64.2h.01M465.3 44.6h.01M459.8 64.4h.01M457.8 46.1h.01M463.8 63.0h.01M465.3 58.3h.01M457.9 66.2h.01M460.0 69.4h.01M462.0 59.6h.01M463.8 63.2h.01M463.4 44.7h.01M458.3 67.3h.01M458.3 63.0h.01M463.6 44.9h.01M462.6 46.4h.01M456.6 46.5h.01M460.8 61.9h.01M461.9 46.8h.01M462.8 46.7h.01M462.1 46.5h.01M460.3 58.3h.01M464.6 46.1h.01M457.0 66.1h.01M462.9 58.2h.01M464.3 58.2h.01M456.8 63.8h.01M462.3 46.0h.01M462.3 63.7h.01M460.9 61.1h.01M467.3 39.2h.01M458.8 63.3h.01M459.0 63.5h.01M463.0 44.8h.01M462.1 43.8h.01M466.3 60.4h.01M460.4 62.8h.01M461.7 62.6h.01M459.9 48.4h.01M466.6 62.1h.01M462.3 58.3h.01M466.3 60.0h.01M462.9 56.3h.01M464.7 47.0h.01M457.6 61.9h.01M456.8 50.6h.01M457.6 61.7h.01M459.3 47.2h.01M462.2 61.4h.01M464.0 41.5h.01M465.7 42.5h.01M461.2 50.3h.01M460.9 44.2h.01M464.5 43.4h.01M461.5 46.1h.01M460.6 62.1h.01M463.5 57.5h.01M462.0 64.2h.01M460.5 64.3h.01M459.3 48.0h.01M461.2 68.0h.01M462.1 61.9h.01M466.1 42.4h.01M461.5 45.3h.01M462.8 58.9h.01M461.6 43.4h.01M459.4 60.9h.01M459.4 47.6h.01M459.8 64.7h.01M456.7 52.0h.01M464.0 44.3h.01M458.3 44.2h.01M461.5 60.0h.01M462.5 59.6h.01M462.5 46.4h.01M462.0 64.0h.01M464.8 64.5h.01M462.1 62.2h.01M460.5 43.8h.01M458.1 60.1h.01M457.2 65.4h.01M460.8 66.3h.01M460.0 64.3h.01M465.0 45.1h.01M461.0 46.6h.01M461.5 64.5h.01M458.8 59.2h.01M458.9 69.0h.01M457.8 63.0h.01M463.5 60.6h.01M460.4 65.7h.01M459.9 43.7h.01M462.2 63.8h.01M464.8 60.4h.01M458.6 46.4h.01M461.5 66.9h.01M461.6 43.7h.01M460.8 63.0h.01M462.0 39.0h.01M457.6 63.7h.01M457.3 64.2h.01M460.4 65.1h.01M463.4 45.1h.01M462.7 44.7h.01M464.0 46.3h.01M465.3 59.1h.01M463.0 42.8h.01M463.0 43.3h.01M463.9 44.8h.01M460.9 61.3h.01M462.3 61.6h.01M459.6 62.1h.01M457.5 46.8h.01M460.2 46.9h.01M463.0 59.5h.01M464.8 42.8h.01M456.4 63.9h.01M463.2 45.9h.01M460.8 44.2h.01" stroke="#000" stroke-width="0.8" stroke-linecap="round" opacity="0.42"/>
<path d="M458.4 66.2h.01M464.7 45.4h.01M459.5 67.0h.01M461.1 62.0h.01M465.4 40.5h.01M470.6 57.3h.01M461.6 63.8h.01M461.1 44.5h.01M460.3 61.6h.01M463.2 45.9h.01M462.8 59.1h.01M464.9 46.5h.01M461.8 47.5h.01M462.9 60.0h.01M462.6 59.1h.01M461.7 61.4h.01M462.1 60.1h.01M460.9 62.6h.01M458.0 48.2h.01M464.8 67.0h.01M460.9 50.2h.01M461.1 63.2h.01M461.2 44.6h.01M459.6 48.8h.01M458.2 60.6h.01M460.5 60.7h.01M461.0 56.6h.01M463.3 45.8h.01M462.2 62.1h.01M457.9 47.2h.01M457.0 65.3h.01M460.9 63.2h.01M460.6 61.3h.01M460.3 58.8h.01M462.6 66.4h.01M460.1 62.9h.01M463.7 46.9h.01M457.9 64.3h.01M461.9 59.5h.01M464.2 60.0h.01M459.6 56.0h.01M465.5 48.2h.01M458.6 61.8h.01M460.5 66.7h.01M461.2 66.6h.01M462.0 61.1h.01M457.9 63.8h.01M459.4 66.4h.01M464.9 42.0h.01M462.1 61.7h.01M461.9 45.8h.01M461.4 61.2h.01M462.0 63.7h.01M463.0 45.2h.01M459.1 64.2h.01M460.0 44.5h.01M460.5 64.0h.01M461.2 49.9h.01M458.4 46.3h.01M456.5 63.3h.01M463.4 44.5h.01M466.1 41.8h.01M461.4 63.5h.01M465.5 41.9h.01M459.9 62.7h.01M461.7 60.2h.01M458.1 62.4h.01M460.5 61.8h.01M462.7 62.7h.01M459.0 64.1h.01M461.3 64.3h.01M457.5 66.4h.01M459.3 63.2h.01M459.7 46.7h.01M463.6 43.8h.01M463.2 61.5h.01M464.5 61.6h.01M461.9 63.3h.01M463.8 42.2h.01M457.3 63.4h.01M458.1 49.3h.01M458.7 67.3h.01M464.7 46.0h.01M461.4 61.4h.01M457.9 45.5h.01M459.8 47.5h.01M463.0 61.3h.01M458.8 46.3h.01M463.5 43.6h.01M469.4 42.5h.01M460.1 46.0h.01M460.3 66.9h.01M460.4 62.5h.01M461.8 64.0h.01M458.5 46.4h.01M462.1 60.4h.01M462.0 48.0h.01M462.5 58.5h.01M458.6 62.0h.01M459.5 66.7h.01M460.1 65.5h.01M462.9 60.7h.01M462.0 57.8h.01M461.4 45.3h.01M459.5 45.6h.01M461.6 62.1h.01M460.6 65.0h.01M460.9 42.6h.01M464.7 47.7h.01M458.7 49.4h.01M463.1 64.7h.01M461.8 46.0h.01M464.8 43.8h.01M460.7 48.4h.01M462.4 63.9h.01M462.7 45.0h.01M459.1 63.5h.01M458.0 64.9h.01M460.3 44.9h.01M459.9 64.4h.01M457.5 66.6h.01M459.5 64.2h.01M458.5 47.7h.01M463.7 45.1h.01" stroke="#000" stroke-width="0.8" stroke-linecap="round" opacity="0.42"/>
<path d="M462.0 42.2h.01M458.3 65.7h.01M462.4 60.7h.01M457.2 65.1h.01M461.1 64.3h.01M465.5 45.1h.01M466.5 44.6h.01M462.6 45.8h.01M461.5 42.2h.01M457.6 63.9h.01M465.5 36.2h.01M461.7 43.9h.01M465.0 44.3h.01M464.1 46.5h.01M461.5 45.1h.01M469.3 38.3h.01M465.4 62.5h.01M465.6 45.9h.01M457.9 63.8h.01M461.9 63.2h.01M463.3 46.3h.01M458.0 62.1h.01M458.9 63.8h.01M460.9 61.4h.01M461.6 61.8h.01M461.3 64.8h.01M460.2 61.5h.01M459.8 65.8h.01M460.9 62.7h.01M461.5 46.3h.01M459.8 62.7h.01M462.7 45.4h.01M459.8 60.3h.01M464.2 66.7h.01M456.7 63.6h.01M461.6 60.8h.01M459.0 68.6h.01M456.8 62.9h.01M459.1 63.3h.01M465.1 57.0h.01M468.0 46.3h.01M461.9 61.3h.01M461.9 63.0h.01M463.3 63.4h.01M461.7 63.9h.01M462.3 63.8h.01M459.3 48.4h.01M462.5 60.2h.01M461.4 65.7h.01M457.6 63.7h.01M458.7 47.7h.01M461.2 47.3h.01M463.1 45.1h.01M460.9 62.7h.01M463.5 44.5h.01M462.0 43.1h.01M459.9 64.5h.01M458.6 48.0h.01M460.0 49.6h.01M457.6 57.2h.01M464.5 61.4h.01M460.4 61.9h.01M460.2 47.7h.01M460.4 45.9h.01M465.2 41.7h.01M464.4 43.9h.01M460.3 66.1h.01M464.0 43.3h.01M461.0 65.1h.01M458.2 66.9h.01M459.0 62.3h.01M462.7 60.3h.01M466.4 45.2h.01M462.6 60.2h.01M461.5 57.2h.01M457.4 63.1h.01M461.5 63.4h.01M461.5 60.5h.01M461.4 62.9h.01M461.2 44.1h.01M465.6 39.5h.01M458.0 61.4h.01M461.8 45.1h.01M461.4 62.5h.01M459.4 62.2h.01M457.0 45.3h.01M464.5 62.1h.01M460.6 62.2h.01M464.4 41.8h.01M461.6 43.9h.01M464.3 44.1h.01M462.8 63.8h.01M459.5 64.7h.01M462.0 59.4h.01M464.0 40.8h.01M463.6 59.4h.01M459.8 44.9h.01M461.6 62.2h.01M459.4 65.4h.01M460.7 44.7h.01M461.2 45.9h.01M459.1 45.5h.01M463.9 45.0h.01M459.0 63.0h.01M457.3 61.7h.01M460.8 63.7h.01M458.0 64.0h.01M459.8 44.4h.01M459.8 62.3h.01M463.0 59.5h.01M461.4 61.1h.01M462.4 60.0h.01M458.7 46.3h.01M458.4 68.6h.01M460.5 58.7h.01M460.1 45.2h.01M464.6 46.7h.01M466.6 41.5h.01M461.5 62.6h.01M460.2 63.5h.01M461.5 46.3h.01M462.3 62.6h.01M456.2 64.0h.01" stroke="#000" stroke-width="0.8" stroke-linecap="round" opacity="0.42"/>
<line x1="469.6" y1="16.9" x2="469.6" y2="70.2" stroke="#f58888" stroke-width="0.85" />
<line x1="455.4" y1="56.1" x2="504.4" y2="56.1" stroke="#f58888" stroke-width="0.85" />
<circle cx="469.6" cy="29.8" r="1.15" fill="#f26d6d"/>
<circle cx="469.6" cy="56.1" r="1.15" fill="#f26d6d"/>
<circle cx="492.7" cy="56.1" r="1.15" fill="#f26d6d"/>
<text x="208.4" y="127.6" font-size="6.2" text-anchor="middle" textLength="41.5" lengthAdjust="spacingAndGlyphs" transform="rotate(-90 208.4 127.6)" fill="#333" stroke="#333" stroke-width="0.06">GFP (GRN-B-HLog)</text>
<text x="219.8" y="156.3" font-size="4.6" text-anchor="end" fill="#333">10<tspan dy="-1.7" font-size="3">0</tspan></text>
<text x="223.5" y="163.7" font-size="4.6" text-anchor="middle" fill="#333">10<tspan dy="-1.7" font-size="3">0</tspan></text>
<text x="219.8" y="145.64" font-size="4.6" text-anchor="end" fill="#333">10<tspan dy="-1.7" font-size="3">1</tspan></text>
<text x="233.3" y="163.7" font-size="4.6" text-anchor="middle" fill="#333">10<tspan dy="-1.7" font-size="3">1</tspan></text>
<text x="219.8" y="134.98" font-size="4.6" text-anchor="end" fill="#333">10<tspan dy="-1.7" font-size="3">2</tspan></text>
<text x="243.1" y="163.7" font-size="4.6" text-anchor="middle" fill="#333">10<tspan dy="-1.7" font-size="3">2</tspan></text>
<text x="219.8" y="124.32" font-size="4.6" text-anchor="end" fill="#333">10<tspan dy="-1.7" font-size="3">3</tspan></text>
<text x="252.9" y="163.7" font-size="4.6" text-anchor="middle" fill="#333">10<tspan dy="-1.7" font-size="3">3</tspan></text>
<text x="219.8" y="113.66" font-size="4.6" text-anchor="end" fill="#333">10<tspan dy="-1.7" font-size="3">4</tspan></text>
<text x="262.7" y="163.7" font-size="4.6" text-anchor="middle" fill="#333">10<tspan dy="-1.7" font-size="3">4</tspan></text>
<text x="219.8" y="103" font-size="4.6" text-anchor="end" fill="#333">10<tspan dy="-1.7" font-size="3">5</tspan></text>
<text x="272.5" y="163.7" font-size="4.6" text-anchor="middle" fill="#333">10<tspan dy="-1.7" font-size="3">5</tspan></text>
<text x="247.4" y="173.5" font-size="6.4" text-anchor="middle" textLength="44.5" lengthAdjust="spacingAndGlyphs" fill="#333" stroke="#333" stroke-width="0.06">PD-L1 (YEL-B-HLog)</text>
<rect x="223" y="100.6" width="49" height="53.3" fill="none" stroke="#c8c8c8" stroke-width="0.7"/>
<line x1="223" y1="100.6" x2="223" y2="153.9" stroke="#777" stroke-width="0.7" />
<line x1="223" y1="153.9" x2="272" y2="153.9" stroke="#777" stroke-width="0.7" />
<path d="M224.22 153.9v-.9M225.45 153.9v-.9M226.68 153.9v-.9M227.9 153.9v-.9M229.12 153.9v-.9M230.35 153.9v-.9M231.57 153.9v-.9M232.8 153.9v-.9M234.03 153.9v-.9M235.25 153.9v-.9M236.47 153.9v-.9M237.7 153.9v-.9M238.93 153.9v-.9M240.15 153.9v-.9M241.38 153.9v-.9M242.6 153.9v-.9M243.82 153.9v-.9M245.05 153.9v-.9M246.28 153.9v-.9M247.5 153.9v-.9M248.72 153.9v-.9M249.95 153.9v-.9M251.18 153.9v-.9M252.4 153.9v-.9M253.62 153.9v-.9M254.85 153.9v-.9M256.07 153.9v-.9M257.3 153.9v-.9M258.52 153.9v-.9M259.75 153.9v-.9M260.98 153.9v-.9M262.2 153.9v-.9M263.43 153.9v-.9M264.65 153.9v-.9M265.88 153.9v-.9M267.1 153.9v-.9M268.32 153.9v-.9M269.55 153.9v-.9M270.77 153.9v-.9M223 101.93h.9M223 103.27h.9M223 104.6h.9M223 105.93h.9M223 107.26h.9M223 108.59h.9M223 109.93h.9M223 111.26h.9M223 112.59h.9M223 113.92h.9M223 115.26h.9M223 116.59h.9M223 117.92h.9M223 119.25h.9M223 120.59h.9M223 121.92h.9M223 123.25h.9M223 124.58h.9M223 125.92h.9M223 127.25h.9M223 128.58h.9M223 129.91h.9M223 131.25h.9M223 132.58h.9M223 133.91h.9M223 135.25h.9M223 136.58h.9M223 137.91h.9M223 139.24h.9M223 140.57h.9M223 141.91h.9M223 143.24h.9M223 144.57h.9M223 145.9h.9M223 147.24h.9M223 148.57h.9M223 149.9h.9M223 151.23h.9M223 152.57h.9" stroke="#666" stroke-width="0.4"/>
<ellipse cx="229.4" cy="130.8" rx="5.2" ry="2.6" transform="rotate(-10 229.4 130.8)" fill="#000" opacity="0.72" filter="url(#bl)"/>
<ellipse cx="230.5" cy="145.8" rx="4.6" ry="3" transform="rotate(-15 230.5 145.8)" fill="#000" opacity="0.3" filter="url(#bl)"/>
<path d="M228.2 131.1h.01M231.4 130.3h.01M227.9 131.9h.01M229.3 129.9h.01M236.4 130.8h.01M228.3 131.2h.01M230.0 145.8h.01M232.2 126.8h.01M232.3 146.7h.01M227.8 131.8h.01M233.8 128.6h.01M236.6 129.8h.01M229.3 130.7h.01M228.9 148.9h.01M227.4 130.4h.01M227.4 144.8h.01M231.0 150.7h.01M230.3 128.0h.01M228.0 131.6h.01M229.6 133.2h.01M225.1 129.9h.01M231.0 131.9h.01M232.5 129.7h.01M229.4 129.7h.01M224.4 129.2h.01M224.4 149.5h.01M234.2 149.6h.01M227.1 146.7h.01M230.1 132.4h.01M224.9 149.4h.01M230.7 132.7h.01M228.5 130.4h.01M230.9 130.8h.01M229.3 127.0h.01M229.6 132.6h.01M229.2 132.4h.01M225.4 130.0h.01M227.1 130.4h.01M230.6 128.0h.01M227.5 131.1h.01M224.3 130.5h.01M230.1 128.7h.01M227.6 129.3h.01M231.4 129.6h.01M229.8 129.9h.01M231.1 130.1h.01M224.6 131.0h.01M234.0 144.9h.01M231.8 146.5h.01M229.1 128.8h.01M229.3 144.3h.01M227.2 133.2h.01M229.1 132.3h.01M229.4 145.3h.01M231.8 133.7h.01M234.0 129.9h.01M229.3 129.1h.01M232.5 132.1h.01M228.0 130.5h.01M225.7 130.0h.01M230.1 131.5h.01M232.2 144.8h.01M229.0 131.5h.01M233.0 143.8h.01M229.6 131.3h.01M228.0 131.6h.01M231.6 148.5h.01M232.3 130.0h.01M231.5 143.8h.01M230.5 130.3h.01M223.7 132.8h.01M229.2 130.3h.01M230.9 131.2h.01M229.2 132.2h.01M232.7 129.9h.01M229.9 148.0h.01M229.0 128.5h.01M228.0 129.8h.01M236.8 128.2h.01M228.2 129.8h.01M228.2 131.6h.01M232.1 144.8h.01M235.2 149.0h.01M231.3 129.1h.01M224.7 131.7h.01" stroke="#000" stroke-width="0.8" stroke-linecap="round" opacity="0.42"/>
<path d="M230.5 132.0h.01M234.3 146.6h.01M237.5 146.6h.01M229.8 131.2h.01M230.2 130.6h.01M232.8 129.5h.01M227.4 132.1h.01M224.8 132.1h.01M225.4 132.1h.01M234.7 147.1h.01M235.6 131.5h.01M232.8 129.6h.01M232.1 146.7h.01M229.8 131.4h.01M232.4 130.1h.01M229.6 130.4h.01M228.8 149.8h.01M227.2 129.4h.01M230.9 129.9h.01M226.3 131.6h.01M234.3 132.0h.01M228.6 132.8h.01M227.0 133.1h.01M230.4 131.5h.01M229.0 145.5h.01M227.0 128.9h.01M232.2 148.8h.01M233.0 147.1h.01M232.9 129.3h.01M228.0 146.7h.01M229.1 130.8h.01M231.0 134.6h.01M226.9 128.7h.01M224.3 132.1h.01M228.8 129.5h.01M231.2 131.6h.01M229.6 128.6h.01M229.3 128.8h.01M233.2 145.2h.01M232.5 130.0h.01M238.0 130.8h.01M229.5 132.3h.01M232.6 130.6h.01M231.8 148.1h.01M231.5 132.3h.01M227.7 143.2h.01M230.9 130.1h.01M230.9 145.0h.01M231.0 132.5h.01M231.3 145.6h.01M227.6 148.1h.01M228.2 131.3h.01M232.1 129.6h.01M226.4 128.9h.01M224.1 134.0h.01M228.3 142.4h.01M228.3 130.4h.01M224.8 147.3h.01M234.9 144.5h.01M233.4 133.1h.01M224.9 131.2h.01M230.1 146.6h.01M230.1 144.5h.01M232.5 129.7h.01M229.8 145.6h.01M232.4 129.3h.01M232.5 131.8h.01M230.2 129.1h.01M229.3 129.6h.01M234.7 147.0h.01M231.0 146.1h.01M227.6 127.8h.01M228.2 132.3h.01M232.1 130.0h.01M232.1 130.3h.01M228.0 144.1h.01M237.1 141.5h.01M233.5 129.7h.01M236.4 134.7h.01M225.1 132.4h.01M233.7 131.1h.01M231.7 146.3h.01M234.4 131.1h.01M231.9 144.6h.01" stroke="#000" stroke-width="0.8" stroke-linecap="round" opacity="0.42"/>
<path d="M233.3 131.8h.01M230.1 128.7h.01M232.5 129.1h.01M230.5 131.4h.01M231.7 145.4h.01M230.9 130.3h.01M229.8 148.2h.01M228.1 145.9h.01M231.7 128.9h.01M226.1 132.5h.01M231.2 129.3h.01M229.2 134.1h.01M231.5 132.8h.01M233.2 145.8h.01M235.2 129.9h.01M224.6 147.3h.01M231.2 146.7h.01M224.5 134.1h.01M228.6 129.8h.01M226.0 131.2h.01M235.3 128.0h.01M230.6 131.3h.01M238.6 143.4h.01M231.0 129.3h.01M229.6 130.4h.01M226.6 131.3h.01M230.0 134.1h.01M230.5 131.9h.01M230.0 129.9h.01M228.6 150.5h.01M231.1 133.8h.01M229.4 133.3h.01M229.7 130.8h.01M227.9 145.8h.01M227.7 132.4h.01M234.0 131.4h.01M227.1 131.3h.01M227.0 129.9h.01M236.4 128.6h.01M230.7 144.7h.01M231.6 148.9h.01M230.6 145.5h.01M228.9 134.3h.01M225.0 134.3h.01M230.1 129.2h.01M233.1 127.5h.01M229.1 130.6h.01M232.4 143.8h.01M232.3 144.6h.01M228.2 147.8h.01M228.5 132.3h.01M228.4 135.0h.01M235.3 145.9h.01M232.5 130.2h.01M228.2 146.4h.01M228.2 132.6h.01M234.5 132.1h.01M231.8 131.7h.01M232.7 127.6h.01M234.1 130.3h.01M225.1 130.3h.01M230.8 146.5h.01M227.8 130.8h.01M228.5 144.8h.01M228.8 129.5h.01M232.6 126.0h.01M229.0 131.7h.01M225.9 133.6h.01M227.0 132.2h.01M228.7 129.4h.01M226.5 129.2h.01M228.1 143.9h.01M232.5 127.3h.01M231.5 145.8h.01M233.3 147.5h.01M226.2 143.2h.01M233.3 132.2h.01M229.2 129.7h.01M240.4 147.2h.01M228.5 130.2h.01M231.4 131.2h.01M226.7 131.3h.01M234.7 131.6h.01M232.7 130.6h.01" stroke="#000" stroke-width="0.8" stroke-linecap="round" opacity="0.42"/>
<line x1="237.2" y1="100.6" x2="237.2" y2="153.9" stroke="#f58888" stroke-width="0.85" />
<line x1="223" y1="139.8" x2="272" y2="139.8" stroke="#f58888" stroke-width="0.85" />
<circle cx="237.2" cy="113.5" r="1.15" fill="#f26d6d"/>
<circle cx="237.2" cy="139.8" r="1.15" fill="#f26d6d"/>
<circle cx="260.3" cy="139.8" r="1.15" fill="#f26d6d"/>
<text x="285.9" y="127.6" font-size="6.2" text-anchor="middle" textLength="41.5" lengthAdjust="spacingAndGlyphs" transform="rotate(-90 285.9 127.6)" fill="#333" stroke="#333" stroke-width="0.06">GFP (GRN-B-HLog)</text>
<text x="297.3" y="156.3" font-size="4.6" text-anchor="end" fill="#333">10<tspan dy="-1.7" font-size="3">0</tspan></text>
<text x="301" y="163.7" font-size="4.6" text-anchor="middle" fill="#333">10<tspan dy="-1.7" font-size="3">0</tspan></text>
<text x="297.3" y="145.64" font-size="4.6" text-anchor="end" fill="#333">10<tspan dy="-1.7" font-size="3">1</tspan></text>
<text x="310.8" y="163.7" font-size="4.6" text-anchor="middle" fill="#333">10<tspan dy="-1.7" font-size="3">1</tspan></text>
<text x="297.3" y="134.98" font-size="4.6" text-anchor="end" fill="#333">10<tspan dy="-1.7" font-size="3">2</tspan></text>
<text x="320.6" y="163.7" font-size="4.6" text-anchor="middle" fill="#333">10<tspan dy="-1.7" font-size="3">2</tspan></text>
<text x="297.3" y="124.32" font-size="4.6" text-anchor="end" fill="#333">10<tspan dy="-1.7" font-size="3">3</tspan></text>
<text x="330.4" y="163.7" font-size="4.6" text-anchor="middle" fill="#333">10<tspan dy="-1.7" font-size="3">3</tspan></text>
<text x="297.3" y="113.66" font-size="4.6" text-anchor="end" fill="#333">10<tspan dy="-1.7" font-size="3">4</tspan></text>
<text x="340.2" y="163.7" font-size="4.6" text-anchor="middle" fill="#333">10<tspan dy="-1.7" font-size="3">4</tspan></text>
<text x="297.3" y="103" font-size="4.6" text-anchor="end" fill="#333">10<tspan dy="-1.7" font-size="3">5</tspan></text>
<text x="350" y="163.7" font-size="4.6" text-anchor="middle" fill="#333">10<tspan dy="-1.7" font-size="3">5</tspan></text>
<text x="324.9" y="173.5" font-size="6.4" text-anchor="middle" textLength="44.5" lengthAdjust="spacingAndGlyphs" fill="#333" stroke="#333" stroke-width="0.06">PD-L1 (YEL-B-HLog)</text>
<rect x="300.5" y="100.6" width="49" height="53.3" fill="none" stroke="#c8c8c8" stroke-width="0.7"/>
<line x1="300.5" y1="100.6" x2="300.5" y2="153.9" stroke="#777" stroke-width="0.7" />
<line x1="300.5" y1="153.9" x2="349.5" y2="153.9" stroke="#777" stroke-width="0.7" />
<path d="M301.73 153.9v-.9M302.95 153.9v-.9M304.18 153.9v-.9M305.4 153.9v-.9M306.62 153.9v-.9M307.85 153.9v-.9M309.07 153.9v-.9M310.3 153.9v-.9M311.52 153.9v-.9M312.75 153.9v-.9M313.98 153.9v-.9M315.2 153.9v-.9M316.43 153.9v-.9M317.65 153.9v-.9M318.88 153.9v-.9M320.1 153.9v-.9M321.32 153.9v-.9M322.55 153.9v-.9M323.77 153.9v-.9M325 153.9v-.9M326.23 153.9v-.9M327.45 153.9v-.9M328.68 153.9v-.9M329.9 153.9v-.9M331.12 153.9v-.9M332.35 153.9v-.9M333.57 153.9v-.9M334.8 153.9v-.9M336.02 153.9v-.9M337.25 153.9v-.9M338.48 153.9v-.9M339.7 153.9v-.9M340.93 153.9v-.9M342.15 153.9v-.9M343.38 153.9v-.9M344.6 153.9v-.9M345.82 153.9v-.9M347.05 153.9v-.9M348.27 153.9v-.9M300.5 101.93h.9M300.5 103.27h.9M300.5 104.6h.9M300.5 105.93h.9M300.5 107.26h.9M300.5 108.59h.9M300.5 109.93h.9M300.5 111.26h.9M300.5 112.59h.9M300.5 113.92h.9M300.5 115.26h.9M300.5 116.59h.9M300.5 117.92h.9M300.5 119.25h.9M300.5 120.59h.9M300.5 121.92h.9M300.5 123.25h.9M300.5 124.58h.9M300.5 125.92h.9M300.5 127.25h.9M300.5 128.58h.9M300.5 129.91h.9M300.5 131.25h.9M300.5 132.58h.9M300.5 133.91h.9M300.5 135.25h.9M300.5 136.58h.9M300.5 137.91h.9M300.5 139.24h.9M300.5 140.57h.9M300.5 141.91h.9M300.5 143.24h.9M300.5 144.57h.9M300.5 145.9h.9M300.5 147.24h.9M300.5 148.57h.9M300.5 149.9h.9M300.5 151.23h.9M300.5 152.57h.9" stroke="#666" stroke-width="0.4"/>
<ellipse cx="309.5" cy="131" rx="6.4" ry="3.8" transform="rotate(-30 309.5 131)" fill="#000" opacity="0.81" filter="url(#bl)"/>
<ellipse cx="307" cy="146" rx="4.4" ry="2.2" transform="rotate(-35 307 146)" fill="#000" opacity="0.21" filter="url(#bl)"/>
<ellipse cx="316" cy="131" rx="4" ry="3" transform="rotate(-30 316 131)" fill="#000" opacity="0.1" filter="url(#bl)"/>
<path d="M317.7 130.9h.01M307.4 130.4h.01M304.6 132.2h.01M308.7 132.8h.01M305.0 134.6h.01M310.3 134.1h.01M305.5 131.2h.01M302.7 136.5h.01M307.5 134.5h.01M307.1 132.5h.01M309.3 133.4h.01M311.7 133.8h.01M306.5 132.3h.01M319.4 129.9h.01M315.7 130.3h.01M308.4 135.9h.01M308.3 125.4h.01M317.1 127.2h.01M310.7 128.9h.01M309.3 126.7h.01M303.4 134.8h.01M317.6 130.8h.01M305.2 136.0h.01M308.2 129.8h.01M316.5 133.7h.01M313.9 123.5h.01M309.5 131.1h.01M307.1 131.6h.01M313.2 130.4h.01M309.9 128.4h.01M307.1 143.9h.01M305.5 148.3h.01M314.7 128.5h.01M307.7 131.9h.01M306.7 136.5h.01M314.6 130.8h.01M306.7 130.0h.01M307.0 127.2h.01M307.4 143.1h.01M310.3 134.7h.01M306.8 133.4h.01M313.6 128.6h.01M309.7 127.9h.01M308.8 130.5h.01M306.6 132.7h.01M305.3 130.4h.01M307.7 131.6h.01M313.3 133.8h.01M307.6 135.8h.01M306.7 130.5h.01M313.9 126.8h.01M311.3 124.5h.01M309.3 133.6h.01M308.3 144.7h.01M308.5 128.3h.01M303.9 144.6h.01M309.8 132.3h.01M312.3 132.9h.01M309.6 133.7h.01M309.0 146.3h.01M306.8 130.4h.01M308.9 131.7h.01M310.6 132.1h.01M304.1 131.2h.01M312.4 128.8h.01M309.1 129.1h.01M306.4 135.4h.01M308.6 132.7h.01M301.4 144.6h.01M315.0 133.6h.01M309.7 131.2h.01M312.0 131.1h.01M312.5 129.6h.01M309.4 129.1h.01M309.2 132.2h.01M309.7 130.2h.01M312.9 131.7h.01M309.7 131.4h.01M304.2 130.3h.01M308.9 130.2h.01M312.5 132.3h.01M308.2 130.8h.01M306.6 148.1h.01M309.0 129.8h.01M307.0 145.7h.01M305.4 130.9h.01M311.3 129.5h.01M307.9 131.0h.01M311.3 128.3h.01M315.8 133.9h.01M312.2 128.8h.01M315.4 131.1h.01M313.7 126.4h.01M309.1 129.2h.01M307.3 134.1h.01M309.7 131.9h.01M306.5 133.7h.01M303.1 130.1h.01M310.6 129.8h.01M311.0 130.1h.01M303.3 134.4h.01M304.6 128.9h.01M308.7 144.9h.01M311.5 129.4h.01M312.8 130.6h.01M310.5 129.2h.01M318.7 123.0h.01M306.1 130.8h.01M305.7 134.7h.01M312.8 132.9h.01M308.5 126.8h.01M315.0 125.8h.01M307.0 135.7h.01M312.8 129.9h.01M307.9 134.0h.01M309.7 133.5h.01M304.1 137.4h.01M314.1 128.3h.01M316.5 127.5h.01M311.0 133.4h.01M312.9 131.1h.01M305.0 127.9h.01M311.2 133.3h.01M314.7 129.1h.01M304.3 133.9h.01M308.0 137.1h.01M308.5 132.5h.01M308.2 130.4h.01M315.5 129.9h.01M308.7 133.7h.01M307.8 130.1h.01M306.1 130.2h.01" stroke="#000" stroke-width="0.8" stroke-linecap="round" opacity="0.42"/>
<path d="M312.0 131.2h.01M311.0 134.4h.01M311.4 134.7h.01M311.4 130.1h.01M311.4 131.7h.01M308.0 133.8h.01M309.1 128.3h.01M307.1 129.5h.01M310.4 143.4h.01M305.5 131.8h.01M308.5 131.2h.01M311.3 128.6h.01M314.3 130.3h.01M305.2 135.2h.01M309.7 147.7h.01M306.7 131.5h.01M309.1 128.4h.01M310.6 145.4h.01M316.2 124.4h.01M317.7 129.0h.01M304.3 143.8h.01M304.9 132.6h.01M306.0 129.1h.01M304.6 146.2h.01M306.7 129.7h.01M315.4 129.6h.01M306.1 132.2h.01M306.7 136.3h.01M316.0 126.6h.01M301.3 138.6h.01M310.9 130.8h.01M305.8 146.8h.01M307.9 133.3h.01M312.9 132.7h.01M312.1 130.6h.01M313.8 127.6h.01M311.8 128.6h.01M309.1 128.5h.01M306.6 150.4h.01M318.0 131.0h.01M304.9 147.3h.01M309.6 129.1h.01M310.0 130.1h.01M308.7 130.2h.01M314.1 130.8h.01M313.1 132.2h.01M307.5 128.1h.01M309.1 131.7h.01M319.6 131.4h.01M303.3 133.4h.01M315.3 129.1h.01M310.6 136.0h.01M314.4 126.4h.01M312.0 132.2h.01M304.8 135.2h.01M309.5 132.9h.01M311.0 128.9h.01M307.3 131.0h.01M306.0 132.8h.01M311.7 130.6h.01M308.4 132.3h.01M313.3 129.1h.01M310.5 128.1h.01M312.9 128.9h.01M315.2 128.7h.01M313.2 130.2h.01M311.1 131.0h.01M311.5 120.7h.01M312.4 130.7h.01M312.1 128.1h.01M308.5 133.4h.01M319.2 135.8h.01M303.3 133.2h.01M306.7 132.5h.01M305.2 130.3h.01M313.1 129.3h.01M307.0 133.4h.01M310.5 132.5h.01M307.6 132.0h.01M308.4 137.6h.01M314.6 130.4h.01M312.6 134.1h.01M313.2 129.6h.01M305.1 135.1h.01M307.2 129.6h.01M305.7 133.0h.01M307.2 132.4h.01M308.3 132.6h.01M313.9 126.4h.01M315.3 127.7h.01M311.4 129.7h.01M312.2 128.5h.01M308.7 129.2h.01M311.9 130.0h.01M312.2 128.8h.01M311.4 132.6h.01M307.2 131.6h.01M309.3 126.4h.01M308.4 129.8h.01M310.3 133.1h.01M310.0 129.1h.01M306.7 132.3h.01M311.3 129.7h.01M308.7 145.8h.01M304.6 135.5h.01M308.7 148.5h.01M306.0 132.7h.01M305.3 142.1h.01M311.7 127.0h.01M306.8 146.9h.01M319.2 130.8h.01M311.0 131.5h.01M309.5 129.9h.01M309.2 132.2h.01M307.4 129.8h.01M307.1 134.9h.01M310.3 146.3h.01M305.6 130.2h.01M316.0 127.6h.01M308.5 129.8h.01M307.5 132.4h.01M310.1 129.4h.01M314.9 128.5h.01M312.1 134.5h.01M309.2 131.4h.01M305.2 145.3h.01M306.5 129.8h.01M310.8 127.1h.01M307.4 131.1h.01M316.2 129.6h.01M309.4 124.9h.01M310.1 129.1h.01" stroke="#000" stroke-width="0.8" stroke-linecap="round" opacity="0.42"/>
<path d="M305.8 134.0h.01M309.3 129.0h.01M314.8 124.7h.01M310.1 143.0h.01M319.7 130.4h.01M306.6 128.7h.01M308.6 147.3h.01M309.3 131.8h.01M311.1 133.4h.01M311.7 129.7h.01M312.8 134.1h.01M312.3 128.7h.01M312.2 128.8h.01M309.1 132.4h.01M303.7 146.1h.01M307.7 130.9h.01M305.4 132.1h.01M307.7 132.8h.01M308.3 129.7h.01M304.2 135.3h.01M305.1 129.3h.01M317.5 130.7h.01M305.9 128.9h.01M307.3 144.6h.01M313.2 130.7h.01M308.1 133.9h.01M304.7 146.4h.01M311.7 130.2h.01M306.5 131.8h.01M315.4 124.9h.01M307.1 131.9h.01M309.5 134.8h.01M303.3 133.2h.01M312.3 128.9h.01M303.5 134.7h.01M304.0 132.9h.01M306.8 136.7h.01M313.5 134.7h.01M317.4 128.9h.01M303.6 147.4h.01M311.6 130.7h.01M310.2 129.5h.01M310.2 127.9h.01M309.9 131.8h.01M311.7 131.5h.01M312.1 134.0h.01M313.6 125.7h.01M305.9 149.1h.01M305.2 133.8h.01M307.4 133.0h.01M316.0 129.9h.01M304.6 135.6h.01M316.5 129.9h.01M311.7 133.3h.01M311.9 131.9h.01M311.7 126.3h.01M316.7 129.6h.01M303.8 134.1h.01M310.7 134.7h.01M316.0 126.9h.01M305.6 133.0h.01M308.0 133.7h.01M307.6 145.4h.01M303.8 132.5h.01M317.4 116.2h.01M313.0 128.8h.01M303.6 132.4h.01M318.7 130.7h.01M311.9 140.3h.01M314.7 134.0h.01M317.0 126.3h.01M310.0 131.8h.01M315.1 128.5h.01M309.6 131.1h.01M307.9 146.9h.01M312.1 129.1h.01M310.3 132.4h.01M319.7 129.5h.01M308.8 139.0h.01M308.0 130.8h.01M310.3 129.2h.01M308.0 135.3h.01M310.0 130.7h.01M313.2 130.8h.01M310.1 131.3h.01M315.0 140.4h.01M302.2 149.5h.01M309.7 132.1h.01M319.8 131.5h.01M304.0 147.7h.01M307.1 135.3h.01M311.3 134.7h.01M305.9 132.5h.01M310.2 128.1h.01M304.8 132.6h.01M314.2 145.3h.01M306.8 132.5h.01M305.2 130.9h.01M308.9 134.4h.01M308.4 136.0h.01M307.4 132.2h.01M307.3 145.4h.01M315.0 126.9h.01M305.6 130.0h.01M312.7 129.4h.01M307.4 131.1h.01M306.6 129.5h.01M310.0 129.9h.01M307.6 131.1h.01M306.0 143.1h.01M307.9 131.0h.01M309.7 127.2h.01M310.7 130.9h.01M307.2 125.7h.01M310.8 130.6h.01M314.5 127.1h.01M307.2 133.4h.01M304.5 137.0h.01M303.0 131.8h.01M308.9 144.8h.01M312.4 135.7h.01M313.8 129.4h.01M309.5 134.2h.01M307.6 131.9h.01M317.0 129.8h.01M313.8 131.8h.01M310.2 131.6h.01M314.4 129.6h.01M313.9 130.7h.01M308.7 131.0h.01M303.6 136.3h.01M307.0 135.2h.01" stroke="#000" stroke-width="0.8" stroke-linecap="round" opacity="0.42"/>
<line x1="314.7" y1="100.6" x2="314.7" y2="153.9" stroke="#f58888" stroke-width="0.85" />
<line x1="300.5" y1="139.8" x2="349.5" y2="139.8" stroke="#f58888" stroke-width="0.85" />
<circle cx="314.7" cy="113.5" r="1.15" fill="#f26d6d"/>
<circle cx="314.7" cy="139.8" r="1.15" fill="#f26d6d"/>
<circle cx="337.8" cy="139.8" r="1.15" fill="#f26d6d"/>
<text x="363.4" y="127.6" font-size="6.2" text-anchor="middle" textLength="41.5" lengthAdjust="spacingAndGlyphs" transform="rotate(-90 363.4 127.6)" fill="#333" stroke="#333" stroke-width="0.06">GFP (GRN-B-HLog)</text>
<text x="374.8" y="156.3" font-size="4.6" text-anchor="end" fill="#333">10<tspan dy="-1.7" font-size="3">0</tspan></text>
<text x="378.5" y="163.7" font-size="4.6" text-anchor="middle" fill="#333">10<tspan dy="-1.7" font-size="3">0</tspan></text>
<text x="374.8" y="145.64" font-size="4.6" text-anchor="end" fill="#333">10<tspan dy="-1.7" font-size="3">1</tspan></text>
<text x="388.3" y="163.7" font-size="4.6" text-anchor="middle" fill="#333">10<tspan dy="-1.7" font-size="3">1</tspan></text>
<text x="374.8" y="134.98" font-size="4.6" text-anchor="end" fill="#333">10<tspan dy="-1.7" font-size="3">2</tspan></text>
<text x="398.1" y="163.7" font-size="4.6" text-anchor="middle" fill="#333">10<tspan dy="-1.7" font-size="3">2</tspan></text>
<text x="374.8" y="124.32" font-size="4.6" text-anchor="end" fill="#333">10<tspan dy="-1.7" font-size="3">3</tspan></text>
<text x="407.9" y="163.7" font-size="4.6" text-anchor="middle" fill="#333">10<tspan dy="-1.7" font-size="3">3</tspan></text>
<text x="374.8" y="113.66" font-size="4.6" text-anchor="end" fill="#333">10<tspan dy="-1.7" font-size="3">4</tspan></text>
<text x="417.7" y="163.7" font-size="4.6" text-anchor="middle" fill="#333">10<tspan dy="-1.7" font-size="3">4</tspan></text>
<text x="374.8" y="103" font-size="4.6" text-anchor="end" fill="#333">10<tspan dy="-1.7" font-size="3">5</tspan></text>
<text x="427.5" y="163.7" font-size="4.6" text-anchor="middle" fill="#333">10<tspan dy="-1.7" font-size="3">5</tspan></text>
<text x="402.4" y="173.5" font-size="6.4" text-anchor="middle" textLength="44.5" lengthAdjust="spacingAndGlyphs" fill="#333" stroke="#333" stroke-width="0.06">PD-L1 (YEL-B-HLog)</text>
<rect x="378" y="100.6" width="49" height="53.3" fill="none" stroke="#c8c8c8" stroke-width="0.7"/>
<line x1="378" y1="100.6" x2="378" y2="153.9" stroke="#777" stroke-width="0.7" />
<line x1="378" y1="153.9" x2="427" y2="153.9" stroke="#777" stroke-width="0.7" />
<path d="M379.23 153.9v-.9M380.45 153.9v-.9M381.68 153.9v-.9M382.9 153.9v-.9M384.12 153.9v-.9M385.35 153.9v-.9M386.57 153.9v-.9M387.8 153.9v-.9M389.02 153.9v-.9M390.25 153.9v-.9M391.48 153.9v-.9M392.7 153.9v-.9M393.93 153.9v-.9M395.15 153.9v-.9M396.38 153.9v-.9M397.6 153.9v-.9M398.82 153.9v-.9M400.05 153.9v-.9M401.27 153.9v-.9M402.5 153.9v-.9M403.73 153.9v-.9M404.95 153.9v-.9M406.18 153.9v-.9M407.4 153.9v-.9M408.62 153.9v-.9M409.85 153.9v-.9M411.07 153.9v-.9M412.3 153.9v-.9M413.52 153.9v-.9M414.75 153.9v-.9M415.98 153.9v-.9M417.2 153.9v-.9M418.43 153.9v-.9M419.65 153.9v-.9M420.88 153.9v-.9M422.1 153.9v-.9M423.32 153.9v-.9M424.55 153.9v-.9M425.77 153.9v-.9M378 101.93h.9M378 103.27h.9M378 104.6h.9M378 105.93h.9M378 107.26h.9M378 108.59h.9M378 109.93h.9M378 111.26h.9M378 112.59h.9M378 113.92h.9M378 115.26h.9M378 116.59h.9M378 117.92h.9M378 119.25h.9M378 120.59h.9M378 121.92h.9M378 123.25h.9M378 124.58h.9M378 125.92h.9M378 127.25h.9M378 128.58h.9M378 129.91h.9M378 131.25h.9M378 132.58h.9M378 133.91h.9M378 135.25h.9M378 136.58h.9M378 137.91h.9M378 139.24h.9M378 140.57h.9M378 141.91h.9M378 143.24h.9M378 144.57h.9M378 145.9h.9M378 147.24h.9M378 148.57h.9M378 149.9h.9M378 151.23h.9M378 152.57h.9" stroke="#666" stroke-width="0.4"/>
<ellipse cx="395.5" cy="131" rx="3.8" ry="6.4" transform="rotate(-12 395.5 131)" fill="#000" opacity="0.77" filter="url(#bl)"/>
<ellipse cx="384.5" cy="145.5" rx="4.2" ry="2.3" transform="rotate(-20 384.5 145.5)" fill="#000" opacity="0.59" filter="url(#bl)"/>
<ellipse cx="386" cy="131" rx="3" ry="4" transform="rotate(0 386 131)" fill="#000" opacity="0.1" filter="url(#bl)"/>
<path d="M400.2 130.4h.01M393.3 130.2h.01M384.3 146.3h.01M394.1 127.4h.01M394.2 133.8h.01M387.1 127.7h.01M398.9 129.5h.01M394.6 139.2h.01M383.3 146.6h.01M384.5 144.1h.01M393.0 131.2h.01M381.1 144.4h.01M393.8 127.8h.01M395.0 129.2h.01M396.1 132.6h.01M397.4 124.2h.01M400.0 128.4h.01M400.8 131.3h.01M394.8 136.1h.01M399.8 138.9h.01M396.4 135.8h.01M394.7 132.4h.01M385.5 145.2h.01M382.6 148.0h.01M392.7 125.4h.01M386.2 147.1h.01M397.1 130.8h.01M399.1 130.9h.01M396.8 137.8h.01M395.0 125.2h.01M394.3 130.3h.01M394.5 130.2h.01M379.6 146.4h.01M385.5 146.4h.01M394.5 138.3h.01M397.0 130.5h.01M400.0 133.6h.01M393.1 126.7h.01M384.1 147.2h.01M396.9 125.8h.01M395.5 125.5h.01M396.3 129.2h.01M395.3 132.0h.01M395.3 131.0h.01M403.5 133.9h.01M384.0 146.6h.01M401.3 135.8h.01M396.7 131.2h.01M399.6 134.9h.01M396.3 130.1h.01M384.0 145.7h.01M388.6 132.8h.01M397.5 130.7h.01M396.0 130.6h.01M391.6 130.6h.01M383.0 126.2h.01M387.3 131.0h.01M400.4 128.5h.01M384.0 145.6h.01M393.4 129.5h.01M395.1 131.6h.01M398.4 133.7h.01M396.2 132.9h.01M396.5 130.5h.01M398.2 126.5h.01M387.0 144.9h.01M393.4 133.5h.01M396.3 130.4h.01M383.7 146.9h.01M398.3 124.9h.01M387.5 142.9h.01M385.3 145.1h.01M397.6 141.0h.01M398.6 137.2h.01M393.0 127.3h.01M384.5 145.6h.01M383.9 146.9h.01M391.3 128.1h.01M396.0 129.6h.01M396.9 129.7h.01M393.9 139.8h.01M393.7 128.7h.01M392.1 133.4h.01M393.7 125.2h.01M382.2 143.5h.01M389.2 131.1h.01M393.8 133.1h.01M395.8 134.4h.01M392.8 133.0h.01M386.0 146.4h.01M397.7 127.9h.01M397.3 130.7h.01M384.6 144.8h.01M393.9 132.0h.01M394.1 127.1h.01M398.4 132.2h.01M385.4 145.2h.01M397.0 132.2h.01M385.2 145.6h.01M392.0 142.2h.01M397.8 124.1h.01M399.7 136.0h.01M392.6 120.8h.01M384.1 128.7h.01M395.5 127.9h.01M394.6 123.1h.01M394.0 132.9h.01M399.0 129.7h.01M395.3 129.1h.01M397.8 126.0h.01M388.0 139.3h.01M385.5 131.6h.01M402.3 136.9h.01M385.1 147.9h.01M393.6 130.8h.01M395.9 129.2h.01M396.5 128.0h.01M385.9 128.3h.01M390.2 128.0h.01M383.8 143.8h.01M393.1 125.0h.01M385.5 146.9h.01M382.0 145.2h.01M394.1 127.0h.01M395.8 126.4h.01M393.8 137.3h.01M385.2 142.9h.01M386.6 128.3h.01M394.8 136.3h.01M394.4 131.8h.01M383.5 143.9h.01M381.4 144.9h.01M384.7 144.8h.01M385.6 143.3h.01M395.5 136.8h.01M385.4 145.0h.01M389.3 131.4h.01M384.0 130.4h.01M397.1 133.7h.01M394.2 128.1h.01M397.1 126.6h.01M400.8 132.2h.01M400.9 135.6h.01M387.4 144.8h.01M382.9 145.2h.01M395.9 133.7h.01M393.5 129.9h.01" stroke="#000" stroke-width="0.8" stroke-linecap="round" opacity="0.42"/>
<path d="M396.1 130.2h.01M387.8 145.8h.01M388.2 144.8h.01M386.9 135.1h.01M392.4 134.2h.01M386.6 144.2h.01M386.3 145.8h.01M395.1 133.1h.01M393.1 129.7h.01M391.9 133.0h.01M396.9 128.1h.01M396.7 132.4h.01M395.6 136.8h.01M391.7 128.1h.01M394.1 123.2h.01M384.9 147.3h.01M394.0 127.7h.01M384.6 145.6h.01M384.4 145.6h.01M392.6 127.1h.01M379.6 129.7h.01M383.9 145.7h.01M382.3 145.3h.01M384.9 132.4h.01M393.0 130.0h.01M395.3 133.7h.01M395.4 132.8h.01M387.1 132.4h.01M398.4 132.6h.01M386.8 144.7h.01M394.3 135.0h.01M398.9 136.5h.01M396.3 132.0h.01M387.6 129.5h.01M394.8 126.5h.01M395.7 132.2h.01M394.8 129.5h.01M396.3 125.6h.01M396.5 133.5h.01M391.8 134.9h.01M395.3 128.9h.01M388.5 127.2h.01M396.0 124.8h.01M391.9 132.0h.01M393.8 127.6h.01M395.7 131.8h.01M399.7 133.0h.01M397.8 130.6h.01M396.7 129.3h.01M395.8 133.9h.01M398.5 128.7h.01M389.8 130.1h.01M393.2 129.4h.01M395.1 130.7h.01M386.2 144.9h.01M394.6 125.4h.01M396.9 133.2h.01M396.7 131.3h.01M394.8 124.9h.01M396.4 138.6h.01M398.1 136.0h.01M391.9 135.6h.01M383.7 144.0h.01M393.5 130.4h.01M392.0 136.5h.01M387.7 133.7h.01M394.4 130.1h.01M383.7 148.4h.01M398.6 119.0h.01M384.3 142.4h.01M388.5 142.5h.01M393.2 133.7h.01M402.0 135.3h.01M393.0 131.7h.01M392.9 131.2h.01M397.8 138.1h.01M383.5 143.7h.01M392.0 141.7h.01M391.8 132.4h.01M397.7 133.4h.01M395.2 123.5h.01M397.4 127.2h.01M380.3 138.0h.01M392.9 143.1h.01M397.3 131.9h.01M384.9 128.2h.01M386.9 148.5h.01M395.2 138.6h.01M396.8 130.0h.01M394.4 130.8h.01M384.1 147.5h.01M397.7 126.9h.01M396.2 137.4h.01M397.3 139.3h.01M384.3 144.3h.01M385.6 143.9h.01M394.6 135.3h.01M382.1 146.2h.01M385.0 145.6h.01M394.2 127.5h.01M393.3 125.6h.01M395.2 132.1h.01M383.8 131.0h.01M392.6 121.0h.01M393.9 128.5h.01M399.0 136.1h.01M385.2 147.4h.01M397.1 124.7h.01M385.7 136.7h.01M396.5 128.7h.01M380.6 145.6h.01M395.4 135.8h.01M397.0 132.0h.01M397.1 130.3h.01M395.2 126.3h.01M393.5 127.7h.01M394.0 125.5h.01M391.6 135.3h.01M384.1 147.3h.01M384.3 128.7h.01M394.2 131.4h.01M385.0 148.5h.01M387.2 144.5h.01M392.5 127.6h.01M386.9 144.7h.01M398.1 131.5h.01M385.3 145.2h.01M391.4 129.2h.01M400.5 134.5h.01M396.6 132.9h.01M396.0 133.2h.01M382.8 146.0h.01M388.0 146.5h.01M396.8 129.7h.01M386.7 130.3h.01M391.8 131.3h.01M395.0 125.5h.01M392.0 133.4h.01M390.7 128.6h.01M396.6 124.6h.01M383.3 148.6h.01M393.3 130.1h.01M395.1 134.4h.01M387.3 143.6h.01M397.1 132.6h.01M395.6 126.7h.01M396.3 133.1h.01" stroke="#000" stroke-width="0.8" stroke-linecap="round" opacity="0.42"/>
<path d="M394.6 129.7h.01M391.8 129.8h.01M397.4 133.0h.01M394.7 138.9h.01M393.6 129.6h.01M385.0 147.8h.01M393.8 125.0h.01M395.2 134.5h.01M395.8 138.1h.01M396.3 135.5h.01M392.4 125.6h.01M394.5 130.0h.01M394.1 134.5h.01M396.9 132.6h.01M386.0 128.0h.01M396.4 130.4h.01M394.1 129.7h.01M383.6 122.9h.01M382.3 147.3h.01M396.5 140.3h.01M395.5 129.1h.01M393.5 134.2h.01M397.0 136.6h.01M395.2 136.3h.01M394.1 131.1h.01M396.5 134.2h.01M395.7 131.8h.01M385.4 143.4h.01M393.5 136.0h.01M399.3 130.1h.01M395.4 126.6h.01M395.8 127.7h.01M398.6 131.7h.01M388.6 123.5h.01M397.9 137.4h.01M385.0 144.7h.01M386.8 132.9h.01M393.7 128.5h.01M393.3 127.1h.01M397.1 129.6h.01M393.0 125.1h.01M396.0 130.4h.01M395.8 129.4h.01M381.3 145.7h.01M399.2 132.5h.01M389.8 130.5h.01M394.8 131.6h.01M399.8 131.9h.01M386.5 144.4h.01M394.3 135.8h.01M394.2 128.0h.01M393.1 134.9h.01M392.5 124.2h.01M383.7 145.8h.01M395.6 129.6h.01M394.7 129.8h.01M391.4 127.9h.01M383.3 148.4h.01M396.3 137.0h.01M397.3 128.5h.01M395.1 124.6h.01M397.3 137.4h.01M393.2 125.4h.01M394.3 130.4h.01M395.1 133.9h.01M387.7 137.4h.01M392.2 126.4h.01M397.1 125.0h.01M393.5 132.1h.01M392.6 130.0h.01M383.2 145.3h.01M391.0 127.8h.01M395.2 133.9h.01M387.4 144.4h.01M397.5 131.0h.01M395.6 135.5h.01M395.8 135.1h.01M395.7 131.6h.01M379.6 147.6h.01M395.4 133.0h.01M400.8 137.0h.01M390.1 129.6h.01M393.2 132.6h.01M386.8 144.5h.01M395.5 121.1h.01M399.0 130.1h.01M396.2 133.8h.01M386.1 142.7h.01M393.5 132.0h.01M397.2 135.3h.01M396.2 134.0h.01M385.7 146.1h.01M392.6 131.1h.01M394.3 132.5h.01M394.7 133.2h.01M394.1 130.4h.01M396.5 128.4h.01M394.1 133.9h.01M399.0 131.8h.01M399.2 127.7h.01M394.8 132.3h.01M397.2 128.8h.01M397.9 143.5h.01M394.7 134.1h.01M396.7 132.0h.01M397.1 128.0h.01M399.6 135.1h.01M384.2 144.6h.01M400.0 134.5h.01M394.6 133.7h.01M381.2 147.1h.01M396.4 130.5h.01M393.2 130.3h.01M390.8 144.8h.01M398.6 130.1h.01M383.5 146.2h.01M383.1 144.4h.01M396.7 133.2h.01M381.7 147.7h.01M396.5 130.6h.01M396.7 131.3h.01M396.8 125.2h.01M396.9 131.3h.01M384.2 143.1h.01M397.8 134.4h.01M397.8 134.1h.01M394.8 127.3h.01M392.1 130.8h.01M400.8 143.4h.01M395.5 135.9h.01M395.6 131.9h.01M397.8 131.0h.01M398.8 129.7h.01M393.7 130.8h.01M393.7 134.0h.01M395.5 129.5h.01M395.8 131.6h.01M380.1 144.7h.01M385.5 145.4h.01M398.6 126.7h.01M398.1 131.1h.01M393.7 121.7h.01M397.5 130.9h.01M398.1 134.5h.01M399.4 129.5h.01M395.4 132.2h.01" stroke="#000" stroke-width="0.8" stroke-linecap="round" opacity="0.42"/>
<line x1="392.2" y1="100.6" x2="392.2" y2="153.9" stroke="#f58888" stroke-width="0.85" />
<line x1="378" y1="139.8" x2="427" y2="139.8" stroke="#f58888" stroke-width="0.85" />
<circle cx="392.2" cy="113.5" r="1.15" fill="#f26d6d"/>
<circle cx="392.2" cy="139.8" r="1.15" fill="#f26d6d"/>
<circle cx="415.3" cy="139.8" r="1.15" fill="#f26d6d"/>
<text x="440.8" y="127.6" font-size="6.2" text-anchor="middle" textLength="41.5" lengthAdjust="spacingAndGlyphs" transform="rotate(-90 440.8 127.6)" fill="#333" stroke="#333" stroke-width="0.06">GFP (GRN-B-HLog)</text>
<text x="452.2" y="156.3" font-size="4.6" text-anchor="end" fill="#333">10<tspan dy="-1.7" font-size="3">0</tspan></text>
<text x="455.9" y="163.7" font-size="4.6" text-anchor="middle" fill="#333">10<tspan dy="-1.7" font-size="3">0</tspan></text>
<text x="452.2" y="145.64" font-size="4.6" text-anchor="end" fill="#333">10<tspan dy="-1.7" font-size="3">1</tspan></text>
<text x="465.7" y="163.7" font-size="4.6" text-anchor="middle" fill="#333">10<tspan dy="-1.7" font-size="3">1</tspan></text>
<text x="452.2" y="134.98" font-size="4.6" text-anchor="end" fill="#333">10<tspan dy="-1.7" font-size="3">2</tspan></text>
<text x="475.5" y="163.7" font-size="4.6" text-anchor="middle" fill="#333">10<tspan dy="-1.7" font-size="3">2</tspan></text>
<text x="452.2" y="124.32" font-size="4.6" text-anchor="end" fill="#333">10<tspan dy="-1.7" font-size="3">3</tspan></text>
<text x="485.3" y="163.7" font-size="4.6" text-anchor="middle" fill="#333">10<tspan dy="-1.7" font-size="3">3</tspan></text>
<text x="452.2" y="113.66" font-size="4.6" text-anchor="end" fill="#333">10<tspan dy="-1.7" font-size="3">4</tspan></text>
<text x="495.1" y="163.7" font-size="4.6" text-anchor="middle" fill="#333">10<tspan dy="-1.7" font-size="3">4</tspan></text>
<text x="452.2" y="103" font-size="4.6" text-anchor="end" fill="#333">10<tspan dy="-1.7" font-size="3">5</tspan></text>
<text x="504.9" y="163.7" font-size="4.6" text-anchor="middle" fill="#333">10<tspan dy="-1.7" font-size="3">5</tspan></text>
<text x="479.8" y="173.5" font-size="6.4" text-anchor="middle" textLength="44.5" lengthAdjust="spacingAndGlyphs" fill="#333" stroke="#333" stroke-width="0.06">PD-L1 (YEL-B-HLog)</text>
<rect x="455.4" y="100.6" width="49" height="53.3" fill="none" stroke="#c8c8c8" stroke-width="0.7"/>
<line x1="455.4" y1="100.6" x2="455.4" y2="153.9" stroke="#777" stroke-width="0.7" />
<line x1="455.4" y1="153.9" x2="504.4" y2="153.9" stroke="#777" stroke-width="0.7" />
<path d="M456.62 153.9v-.9M457.85 153.9v-.9M459.07 153.9v-.9M460.3 153.9v-.9M461.52 153.9v-.9M462.75 153.9v-.9M463.97 153.9v-.9M465.2 153.9v-.9M466.42 153.9v-.9M467.65 153.9v-.9M468.88 153.9v-.9M470.1 153.9v-.9M471.32 153.9v-.9M472.55 153.9v-.9M473.77 153.9v-.9M475 153.9v-.9M476.22 153.9v-.9M477.45 153.9v-.9M478.67 153.9v-.9M479.9 153.9v-.9M481.12 153.9v-.9M482.35 153.9v-.9M483.57 153.9v-.9M484.8 153.9v-.9M486.02 153.9v-.9M487.25 153.9v-.9M488.47 153.9v-.9M489.7 153.9v-.9M490.92 153.9v-.9M492.15 153.9v-.9M493.38 153.9v-.9M494.6 153.9v-.9M495.82 153.9v-.9M497.05 153.9v-.9M498.27 153.9v-.9M499.5 153.9v-.9M500.72 153.9v-.9M501.95 153.9v-.9M503.17 153.9v-.9M455.4 101.93h.9M455.4 103.27h.9M455.4 104.6h.9M455.4 105.93h.9M455.4 107.26h.9M455.4 108.59h.9M455.4 109.93h.9M455.4 111.26h.9M455.4 112.59h.9M455.4 113.92h.9M455.4 115.26h.9M455.4 116.59h.9M455.4 117.92h.9M455.4 119.25h.9M455.4 120.59h.9M455.4 121.92h.9M455.4 123.25h.9M455.4 124.58h.9M455.4 125.92h.9M455.4 127.25h.9M455.4 128.58h.9M455.4 129.91h.9M455.4 131.25h.9M455.4 132.58h.9M455.4 133.91h.9M455.4 135.25h.9M455.4 136.58h.9M455.4 137.91h.9M455.4 139.24h.9M455.4 140.57h.9M455.4 141.91h.9M455.4 143.24h.9M455.4 144.57h.9M455.4 145.9h.9M455.4 147.24h.9M455.4 148.57h.9M455.4 149.9h.9M455.4 151.23h.9M455.4 152.57h.9" stroke="#666" stroke-width="0.4"/>
<ellipse cx="474.3" cy="124.2" rx="3.8" ry="2.9" transform="rotate(-40 474.3 124.2)" fill="#000" opacity="0.51" filter="url(#bl)"/>
<ellipse cx="469" cy="132" rx="2.5" ry="5" transform="rotate(30 469 132)" fill="#000" opacity="0.13" filter="url(#bl)"/>
<ellipse cx="462" cy="145.6" rx="4.4" ry="2.2" transform="rotate(-20 462 145.6)" fill="#000" opacity="0.55" filter="url(#bl)"/>
<path d="M472.8 127.1h.01M470.9 127.9h.01M459.3 146.2h.01M463.0 143.4h.01M471.9 127.5h.01M472.1 131.3h.01M475.1 117.9h.01M462.3 144.6h.01M473.2 124.1h.01M463.0 145.6h.01M463.2 146.2h.01M459.7 146.1h.01M465.4 136.7h.01M474.3 127.3h.01M462.0 146.3h.01M459.7 145.0h.01M469.9 131.8h.01M472.8 125.5h.01M460.4 144.9h.01M473.6 122.9h.01M471.4 124.8h.01M478.1 118.9h.01M476.6 121.3h.01M465.0 146.0h.01M476.2 123.5h.01M475.6 122.1h.01M468.1 143.7h.01M467.0 127.3h.01M461.7 146.2h.01M469.3 127.2h.01M471.5 123.6h.01M471.1 125.9h.01M464.1 146.3h.01M466.7 134.5h.01M467.1 135.7h.01M475.6 121.8h.01M467.4 145.3h.01M474.3 125.2h.01M467.4 134.6h.01M469.6 131.7h.01M460.4 145.7h.01M471.7 120.6h.01M473.5 126.0h.01M472.9 126.7h.01M466.7 141.9h.01M477.9 121.0h.01M478.0 133.9h.01M460.8 146.0h.01M474.9 123.7h.01M463.1 144.6h.01M470.6 126.6h.01M459.9 145.8h.01M462.5 144.6h.01M461.1 146.1h.01M459.1 146.8h.01M465.2 145.8h.01M466.9 130.5h.01M467.2 132.6h.01M459.2 145.6h.01M474.7 121.8h.01M461.0 146.1h.01M478.5 124.0h.01M474.1 123.5h.01M457.0 146.7h.01M460.1 145.8h.01M474.7 123.6h.01M470.1 132.0h.01M461.5 145.5h.01M471.8 127.2h.01M473.7 118.2h.01M474.7 121.5h.01M465.3 143.4h.01M458.9 145.5h.01M470.6 129.3h.01M476.6 121.1h.01M473.2 125.6h.01M460.1 147.6h.01M474.4 125.6h.01M466.7 143.5h.01M474.9 120.9h.01M460.4 146.3h.01" stroke="#000" stroke-width="0.8" stroke-linecap="round" opacity="0.42"/>
<path d="M466.7 139.2h.01M460.4 147.4h.01M473.1 124.8h.01M471.5 126.3h.01M476.9 123.8h.01M474.0 123.6h.01M474.5 121.8h.01M462.7 146.2h.01M477.3 121.9h.01M459.1 145.4h.01M464.3 146.4h.01M476.7 123.4h.01M463.3 145.2h.01M471.0 128.1h.01M473.7 124.3h.01M462.4 144.6h.01M475.9 123.6h.01M459.2 146.5h.01M474.9 122.5h.01M461.1 139.1h.01M467.0 144.5h.01M476.4 124.4h.01M464.0 140.7h.01M471.8 128.0h.01M469.9 127.0h.01M459.8 147.2h.01M472.2 123.7h.01M463.2 144.4h.01M462.4 143.6h.01M465.9 134.5h.01M462.3 146.4h.01M478.4 122.9h.01M460.0 147.4h.01M458.1 146.8h.01M479.3 125.6h.01M468.7 135.0h.01M474.4 122.7h.01M475.8 124.7h.01M475.1 123.9h.01M463.9 144.5h.01M466.6 144.6h.01M465.2 146.1h.01M463.2 143.1h.01M456.6 148.1h.01M474.2 124.3h.01M470.2 126.5h.01M471.0 124.7h.01M474.3 128.6h.01M476.6 125.2h.01M472.4 124.0h.01M476.9 125.1h.01M479.2 122.4h.01M475.1 124.8h.01M473.6 121.7h.01M463.2 146.6h.01M464.6 135.2h.01M471.6 123.9h.01M466.5 135.5h.01M470.3 128.5h.01M461.3 145.1h.01M472.1 123.7h.01M461.9 146.5h.01M476.0 124.2h.01M459.2 147.7h.01M462.5 145.4h.01M472.8 125.2h.01M475.5 122.9h.01M460.4 145.9h.01M468.1 131.2h.01M457.1 146.7h.01M473.0 125.3h.01M474.2 125.5h.01M463.5 134.1h.01M476.3 125.7h.01M465.5 143.8h.01M462.4 145.5h.01M474.8 121.2h.01M465.7 144.8h.01M460.3 145.6h.01M459.9 146.9h.01M471.0 125.6h.01" stroke="#000" stroke-width="0.8" stroke-linecap="round" opacity="0.42"/>
<path d="M474.4 120.5h.01M469.4 126.4h.01M464.5 144.2h.01M472.0 124.4h.01M467.1 134.3h.01M470.3 126.8h.01M458.3 147.2h.01M466.5 143.3h.01M475.6 123.6h.01M462.8 144.7h.01M468.8 133.4h.01M462.4 145.0h.01M476.6 123.6h.01M476.3 121.6h.01M474.3 122.8h.01M458.6 149.7h.01M473.8 124.6h.01M469.2 130.6h.01M465.9 145.4h.01M470.3 134.0h.01M476.3 119.2h.01M463.2 144.2h.01M466.0 144.6h.01M470.3 124.6h.01M466.0 143.3h.01M461.6 147.7h.01M468.4 132.1h.01M467.5 127.6h.01M463.6 142.9h.01M465.6 145.3h.01M463.7 143.7h.01M459.9 145.6h.01M461.3 146.2h.01M472.3 123.4h.01M460.0 147.7h.01M464.5 142.2h.01M470.2 123.8h.01M476.0 126.9h.01M475.2 126.0h.01M459.8 146.8h.01M473.2 119.7h.01M468.1 134.7h.01M465.9 143.1h.01M470.3 126.3h.01M476.2 123.9h.01M460.3 151.5h.01M475.0 122.4h.01M459.0 149.2h.01M473.6 123.5h.01M472.0 124.3h.01M474.3 124.7h.01M473.9 124.4h.01M469.3 133.8h.01M457.4 147.6h.01M460.2 144.5h.01M477.1 122.8h.01M457.3 147.5h.01M460.7 146.6h.01M472.7 125.7h.01M475.4 122.1h.01M458.5 148.6h.01M473.9 123.6h.01M477.4 123.3h.01M476.8 123.1h.01M460.0 144.9h.01M472.0 126.5h.01M463.2 146.3h.01M460.5 144.9h.01M472.4 123.5h.01M464.3 146.1h.01M461.2 143.4h.01M460.2 146.6h.01M459.6 143.3h.01M477.2 122.4h.01M470.9 122.2h.01M459.1 147.3h.01M477.3 122.7h.01M468.5 134.9h.01M461.3 145.9h.01M463.3 144.1h.01M474.1 125.7h.01" stroke="#000" stroke-width="0.8" stroke-linecap="round" opacity="0.42"/>
<line x1="469.6" y1="100.6" x2="469.6" y2="153.9" stroke="#f58888" stroke-width="0.85" />
<line x1="455.4" y1="139.8" x2="504.4" y2="139.8" stroke="#f58888" stroke-width="0.85" />
<circle cx="469.6" cy="113.5" r="1.15" fill="#f26d6d"/>
<circle cx="469.6" cy="139.8" r="1.15" fill="#f26d6d"/>
<circle cx="492.7" cy="139.8" r="1.15" fill="#f26d6d"/>
<text x="208.4" y="210.5" font-size="6.2" text-anchor="middle" textLength="41.5" lengthAdjust="spacingAndGlyphs" transform="rotate(-90 208.4 210.5)" fill="#333" stroke="#333" stroke-width="0.06">GFP (GRN-B-HLog)</text>
<text x="219.8" y="239.2" font-size="4.6" text-anchor="end" fill="#333">10<tspan dy="-1.7" font-size="3">0</tspan></text>
<text x="223.5" y="246.6" font-size="4.6" text-anchor="middle" fill="#333">10<tspan dy="-1.7" font-size="3">0</tspan></text>
<text x="219.8" y="228.54" font-size="4.6" text-anchor="end" fill="#333">10<tspan dy="-1.7" font-size="3">1</tspan></text>
<text x="233.3" y="246.6" font-size="4.6" text-anchor="middle" fill="#333">10<tspan dy="-1.7" font-size="3">1</tspan></text>
<text x="219.8" y="217.88" font-size="4.6" text-anchor="end" fill="#333">10<tspan dy="-1.7" font-size="3">2</tspan></text>
<text x="243.1" y="246.6" font-size="4.6" text-anchor="middle" fill="#333">10<tspan dy="-1.7" font-size="3">2</tspan></text>
<text x="219.8" y="207.22" font-size="4.6" text-anchor="end" fill="#333">10<tspan dy="-1.7" font-size="3">3</tspan></text>
<text x="252.9" y="246.6" font-size="4.6" text-anchor="middle" fill="#333">10<tspan dy="-1.7" font-size="3">3</tspan></text>
<text x="219.8" y="196.56" font-size="4.6" text-anchor="end" fill="#333">10<tspan dy="-1.7" font-size="3">4</tspan></text>
<text x="262.7" y="246.6" font-size="4.6" text-anchor="middle" fill="#333">10<tspan dy="-1.7" font-size="3">4</tspan></text>
<text x="219.8" y="185.9" font-size="4.6" text-anchor="end" fill="#333">10<tspan dy="-1.7" font-size="3">5</tspan></text>
<text x="272.5" y="246.6" font-size="4.6" text-anchor="middle" fill="#333">10<tspan dy="-1.7" font-size="3">5</tspan></text>
<text x="247.4" y="256.4" font-size="6.4" text-anchor="middle" textLength="44.5" lengthAdjust="spacingAndGlyphs" fill="#333" stroke="#333" stroke-width="0.06">PD-L2 (YEL-B-HLog)</text>
<rect x="223" y="183.5" width="49" height="53.3" fill="none" stroke="#c8c8c8" stroke-width="0.7"/>
<line x1="223" y1="183.5" x2="223" y2="236.8" stroke="#777" stroke-width="0.7" />
<line x1="223" y1="236.8" x2="272" y2="236.8" stroke="#777" stroke-width="0.7" />
<path d="M224.22 236.8v-.9M225.45 236.8v-.9M226.68 236.8v-.9M227.9 236.8v-.9M229.12 236.8v-.9M230.35 236.8v-.9M231.57 236.8v-.9M232.8 236.8v-.9M234.03 236.8v-.9M235.25 236.8v-.9M236.47 236.8v-.9M237.7 236.8v-.9M238.93 236.8v-.9M240.15 236.8v-.9M241.38 236.8v-.9M242.6 236.8v-.9M243.82 236.8v-.9M245.05 236.8v-.9M246.28 236.8v-.9M247.5 236.8v-.9M248.72 236.8v-.9M249.95 236.8v-.9M251.18 236.8v-.9M252.4 236.8v-.9M253.62 236.8v-.9M254.85 236.8v-.9M256.07 236.8v-.9M257.3 236.8v-.9M258.52 236.8v-.9M259.75 236.8v-.9M260.98 236.8v-.9M262.2 236.8v-.9M263.43 236.8v-.9M264.65 236.8v-.9M265.88 236.8v-.9M267.1 236.8v-.9M268.32 236.8v-.9M269.55 236.8v-.9M270.77 236.8v-.9M223 184.83h.9M223 186.16h.9M223 187.5h.9M223 188.83h.9M223 190.16h.9M223 191.5h.9M223 192.83h.9M223 194.16h.9M223 195.49h.9M223 196.82h.9M223 198.16h.9M223 199.49h.9M223 200.82h.9M223 202.16h.9M223 203.49h.9M223 204.82h.9M223 206.15h.9M223 207.49h.9M223 208.82h.9M223 210.15h.9M223 211.48h.9M223 212.81h.9M223 214.15h.9M223 215.48h.9M223 216.81h.9M223 218.14h.9M223 219.48h.9M223 220.81h.9M223 222.14h.9M223 223.47h.9M223 224.81h.9M223 226.14h.9M223 227.47h.9M223 228.81h.9M223 230.14h.9M223 231.47h.9M223 232.8h.9M223 234.13h.9M223 235.47h.9" stroke="#666" stroke-width="0.4"/>
<ellipse cx="228.2" cy="215.6" rx="4.6" ry="3" transform="rotate(0 228.2 215.6)" fill="#000" opacity="0.81" filter="url(#bl)"/>
<ellipse cx="229.2" cy="227.8" rx="5.2" ry="2.6" transform="rotate(-30 229.2 227.8)" fill="#000" opacity="0.27" filter="url(#bl)"/>
<path d="M229.4 224.9h.01M228.2 213.3h.01M226.3 218.3h.01M228.6 215.4h.01M227.6 215.5h.01M231.2 228.0h.01M226.8 229.0h.01M225.3 213.4h.01M224.9 228.6h.01M227.2 213.4h.01M225.4 213.2h.01M232.4 213.5h.01M230.1 213.7h.01M230.1 217.3h.01M229.8 215.5h.01M229.6 229.2h.01M226.9 215.2h.01M224.2 213.5h.01M230.7 215.3h.01M227.9 213.2h.01M236.6 213.9h.01M234.7 224.8h.01M229.4 218.9h.01M233.4 215.9h.01M229.0 212.7h.01M228.6 216.7h.01M227.5 216.4h.01M226.0 218.1h.01M227.8 216.8h.01M224.6 214.1h.01M239.4 228.1h.01M228.9 224.7h.01M228.9 214.8h.01M227.7 224.4h.01M226.9 215.5h.01M228.2 228.2h.01M229.4 228.7h.01M224.0 215.9h.01M226.2 215.2h.01M228.8 218.5h.01M232.5 217.8h.01M230.0 216.7h.01M232.2 218.0h.01M230.4 225.2h.01M227.0 213.0h.01M231.5 228.0h.01M228.9 219.0h.01M225.8 219.1h.01M224.9 215.9h.01M228.8 216.7h.01M224.3 219.1h.01M229.1 218.2h.01M226.0 219.3h.01M228.5 215.6h.01M233.5 224.2h.01M228.1 217.6h.01M228.2 214.0h.01M227.1 229.5h.01M230.3 217.4h.01M233.6 217.0h.01M231.6 213.7h.01M237.9 219.7h.01M225.4 217.9h.01M228.4 213.8h.01M229.0 229.7h.01M228.1 215.7h.01M228.0 215.8h.01M227.5 217.6h.01M231.7 214.8h.01M230.1 216.9h.01M229.2 213.8h.01M232.5 217.4h.01M230.1 230.7h.01M226.2 225.3h.01M232.9 217.8h.01M227.8 214.8h.01M228.2 216.0h.01M226.2 215.7h.01M232.3 223.7h.01M229.3 227.4h.01M227.3 213.6h.01M227.2 215.1h.01M228.3 216.3h.01M225.3 217.6h.01M228.4 228.4h.01M226.4 212.7h.01M230.7 213.0h.01M227.1 213.7h.01M227.6 230.7h.01M228.6 217.1h.01M231.6 216.1h.01M224.6 229.5h.01M229.8 214.8h.01M231.6 216.2h.01M229.9 215.8h.01M232.1 217.6h.01" stroke="#000" stroke-width="0.8" stroke-linecap="round" opacity="0.42"/>
<path d="M228.3 214.7h.01M229.0 224.5h.01M229.1 215.2h.01M225.1 215.0h.01M226.2 216.1h.01M231.9 228.0h.01M225.8 216.9h.01M224.3 220.0h.01M229.2 214.9h.01M227.3 213.1h.01M231.3 228.7h.01M228.6 212.4h.01M229.0 226.4h.01M232.6 215.2h.01M228.0 229.0h.01M228.4 218.3h.01M225.1 215.2h.01M226.3 215.0h.01M232.8 231.6h.01M227.2 217.7h.01M228.8 214.6h.01M231.8 216.7h.01M226.7 215.4h.01M232.8 218.3h.01M230.6 212.2h.01M229.5 229.2h.01M225.9 216.2h.01M229.8 216.2h.01M227.7 227.1h.01M228.7 216.3h.01M229.9 213.3h.01M226.5 218.8h.01M226.9 218.8h.01M230.3 229.9h.01M228.8 214.7h.01M228.9 214.6h.01M231.2 213.2h.01M228.3 226.1h.01M225.3 212.8h.01M229.7 228.0h.01M228.2 216.3h.01M230.9 216.1h.01M230.0 217.4h.01M230.5 215.6h.01M230.8 226.2h.01M231.3 214.1h.01M230.6 227.5h.01M225.9 215.3h.01M224.9 229.6h.01M234.9 219.0h.01M232.7 227.4h.01M225.5 215.3h.01M223.9 220.4h.01M228.7 215.4h.01M232.5 228.7h.01M228.0 227.7h.01M229.4 211.7h.01M238.8 229.8h.01M228.2 214.1h.01M230.7 213.3h.01M231.6 217.9h.01M225.5 222.0h.01M227.9 218.4h.01M226.7 216.4h.01M228.8 216.1h.01M224.1 216.1h.01M228.4 215.2h.01M236.2 216.9h.01M229.9 215.3h.01M224.0 217.0h.01M227.6 215.5h.01M231.3 227.1h.01M228.8 218.6h.01M231.4 218.4h.01M230.7 215.4h.01M229.7 213.2h.01M224.6 216.0h.01M230.1 215.0h.01M227.3 212.7h.01M230.6 213.4h.01M231.0 215.1h.01M227.9 215.8h.01M226.8 214.3h.01M223.8 231.5h.01M226.9 228.2h.01M231.4 220.6h.01M230.5 215.2h.01M226.6 213.9h.01M226.4 215.6h.01M234.3 223.2h.01M227.8 212.6h.01M231.0 226.0h.01M231.0 212.2h.01M225.5 215.3h.01M229.5 214.5h.01M229.2 214.6h.01" stroke="#000" stroke-width="0.8" stroke-linecap="round" opacity="0.42"/>
<path d="M230.3 227.1h.01M233.4 213.1h.01M229.2 218.7h.01M229.3 217.1h.01M231.8 215.4h.01M228.9 226.7h.01M227.6 227.3h.01M232.9 229.5h.01M225.6 216.1h.01M225.8 211.9h.01M224.1 220.8h.01M236.6 223.0h.01M231.3 216.3h.01M233.4 226.4h.01M231.7 226.9h.01M230.7 213.8h.01M230.5 227.1h.01M229.2 215.5h.01M228.3 217.1h.01M228.5 217.8h.01M228.5 225.6h.01M231.4 225.8h.01M230.1 228.3h.01M230.3 215.7h.01M231.9 226.9h.01M226.3 217.1h.01M228.1 213.8h.01M231.1 213.1h.01M231.9 221.9h.01M232.7 227.3h.01M232.2 216.6h.01M230.8 215.2h.01M227.2 226.5h.01M230.0 215.4h.01M231.3 216.7h.01M226.2 225.3h.01M231.5 216.1h.01M227.1 212.6h.01M235.5 213.4h.01M229.2 213.3h.01M231.3 217.6h.01M225.1 214.4h.01M224.6 214.0h.01M233.9 215.7h.01M230.3 214.1h.01M224.6 218.5h.01M224.8 225.8h.01M228.4 217.7h.01M224.6 215.4h.01M225.2 214.3h.01M225.8 216.7h.01M231.4 217.7h.01M230.9 215.7h.01M226.9 229.7h.01M225.7 228.3h.01M227.0 215.3h.01M227.9 216.2h.01M228.4 227.1h.01M229.5 216.1h.01M230.9 217.6h.01M225.1 214.3h.01M229.0 215.9h.01M228.7 217.7h.01M230.4 215.6h.01M230.2 228.8h.01M225.7 212.8h.01M231.5 211.1h.01M229.5 214.4h.01M229.3 229.6h.01M229.9 215.8h.01M229.6 227.9h.01M227.2 214.4h.01M231.4 216.9h.01M230.0 214.8h.01M228.3 216.9h.01M229.4 215.5h.01M229.7 218.9h.01M227.2 228.8h.01M223.9 219.5h.01M232.1 213.0h.01M225.5 215.8h.01M227.8 228.6h.01M231.1 215.1h.01M229.1 214.6h.01M226.1 214.9h.01M232.1 215.4h.01M233.7 215.0h.01M226.3 217.7h.01M229.1 226.1h.01M224.3 217.2h.01M228.0 214.9h.01M232.8 225.4h.01M227.9 212.2h.01M230.7 216.2h.01M230.3 229.8h.01M230.7 218.3h.01" stroke="#000" stroke-width="0.8" stroke-linecap="round" opacity="0.42"/>
<line x1="237.2" y1="183.5" x2="237.2" y2="236.8" stroke="#f58888" stroke-width="0.85" />
<line x1="223" y1="222.7" x2="272" y2="222.7" stroke="#f58888" stroke-width="0.85" />
<circle cx="237.2" cy="196.4" r="1.15" fill="#f26d6d"/>
<circle cx="237.2" cy="222.7" r="1.15" fill="#f26d6d"/>
<circle cx="260.3" cy="222.7" r="1.15" fill="#f26d6d"/>
<text x="285.9" y="210.5" font-size="6.2" text-anchor="middle" textLength="41.5" lengthAdjust="spacingAndGlyphs" transform="rotate(-90 285.9 210.5)" fill="#333" stroke="#333" stroke-width="0.06">GFP (GRN-B-HLog)</text>
<text x="297.3" y="239.2" font-size="4.6" text-anchor="end" fill="#333">10<tspan dy="-1.7" font-size="3">0</tspan></text>
<text x="301" y="246.6" font-size="4.6" text-anchor="middle" fill="#333">10<tspan dy="-1.7" font-size="3">0</tspan></text>
<text x="297.3" y="228.54" font-size="4.6" text-anchor="end" fill="#333">10<tspan dy="-1.7" font-size="3">1</tspan></text>
<text x="310.8" y="246.6" font-size="4.6" text-anchor="middle" fill="#333">10<tspan dy="-1.7" font-size="3">1</tspan></text>
<text x="297.3" y="217.88" font-size="4.6" text-anchor="end" fill="#333">10<tspan dy="-1.7" font-size="3">2</tspan></text>
<text x="320.6" y="246.6" font-size="4.6" text-anchor="middle" fill="#333">10<tspan dy="-1.7" font-size="3">2</tspan></text>
<text x="297.3" y="207.22" font-size="4.6" text-anchor="end" fill="#333">10<tspan dy="-1.7" font-size="3">3</tspan></text>
<text x="330.4" y="246.6" font-size="4.6" text-anchor="middle" fill="#333">10<tspan dy="-1.7" font-size="3">3</tspan></text>
<text x="297.3" y="196.56" font-size="4.6" text-anchor="end" fill="#333">10<tspan dy="-1.7" font-size="3">4</tspan></text>
<text x="340.2" y="246.6" font-size="4.6" text-anchor="middle" fill="#333">10<tspan dy="-1.7" font-size="3">4</tspan></text>
<text x="297.3" y="185.9" font-size="4.6" text-anchor="end" fill="#333">10<tspan dy="-1.7" font-size="3">5</tspan></text>
<text x="350" y="246.6" font-size="4.6" text-anchor="middle" fill="#333">10<tspan dy="-1.7" font-size="3">5</tspan></text>
<text x="324.9" y="256.4" font-size="6.4" text-anchor="middle" textLength="44.5" lengthAdjust="spacingAndGlyphs" fill="#333" stroke="#333" stroke-width="0.06">PD-L2 (YEL-B-HLog)</text>
<rect x="300.5" y="183.5" width="49" height="53.3" fill="none" stroke="#c8c8c8" stroke-width="0.7"/>
<line x1="300.5" y1="183.5" x2="300.5" y2="236.8" stroke="#777" stroke-width="0.7" />
<line x1="300.5" y1="236.8" x2="349.5" y2="236.8" stroke="#777" stroke-width="0.7" />
<path d="M301.73 236.8v-.9M302.95 236.8v-.9M304.18 236.8v-.9M305.4 236.8v-.9M306.62 236.8v-.9M307.85 236.8v-.9M309.07 236.8v-.9M310.3 236.8v-.9M311.52 236.8v-.9M312.75 236.8v-.9M313.98 236.8v-.9M315.2 236.8v-.9M316.43 236.8v-.9M317.65 236.8v-.9M318.88 236.8v-.9M320.1 236.8v-.9M321.32 236.8v-.9M322.55 236.8v-.9M323.77 236.8v-.9M325 236.8v-.9M326.23 236.8v-.9M327.45 236.8v-.9M328.68 236.8v-.9M329.9 236.8v-.9M331.12 236.8v-.9M332.35 236.8v-.9M333.57 236.8v-.9M334.8 236.8v-.9M336.02 236.8v-.9M337.25 236.8v-.9M338.48 236.8v-.9M339.7 236.8v-.9M340.93 236.8v-.9M342.15 236.8v-.9M343.38 236.8v-.9M344.6 236.8v-.9M345.82 236.8v-.9M347.05 236.8v-.9M348.27 236.8v-.9M300.5 184.83h.9M300.5 186.16h.9M300.5 187.5h.9M300.5 188.83h.9M300.5 190.16h.9M300.5 191.5h.9M300.5 192.83h.9M300.5 194.16h.9M300.5 195.49h.9M300.5 196.82h.9M300.5 198.16h.9M300.5 199.49h.9M300.5 200.82h.9M300.5 202.16h.9M300.5 203.49h.9M300.5 204.82h.9M300.5 206.15h.9M300.5 207.49h.9M300.5 208.82h.9M300.5 210.15h.9M300.5 211.48h.9M300.5 212.81h.9M300.5 214.15h.9M300.5 215.48h.9M300.5 216.81h.9M300.5 218.14h.9M300.5 219.48h.9M300.5 220.81h.9M300.5 222.14h.9M300.5 223.47h.9M300.5 224.81h.9M300.5 226.14h.9M300.5 227.47h.9M300.5 228.81h.9M300.5 230.14h.9M300.5 231.47h.9M300.5 232.8h.9M300.5 234.13h.9M300.5 235.47h.9" stroke="#666" stroke-width="0.4"/>
<ellipse cx="306.5" cy="215.5" rx="6.6" ry="3.8" transform="rotate(-5 306.5 215.5)" fill="#000" opacity="0.75" filter="url(#bl)"/>
<ellipse cx="307.5" cy="227.5" rx="4.2" ry="2.6" transform="rotate(-30 307.5 227.5)" fill="#000" opacity="0.19" filter="url(#bl)"/>
<ellipse cx="315" cy="215" rx="4" ry="4" transform="rotate(0 315 215)" fill="#000" opacity="0.13" filter="url(#bl)"/>
<path d="M310.0 211.1h.01M309.4 217.2h.01M306.2 213.1h.01M302.5 211.9h.01M313.1 212.3h.01M306.6 219.0h.01M304.2 214.2h.01M307.4 214.4h.01M307.0 214.1h.01M309.0 213.7h.01M302.0 216.1h.01M311.7 225.3h.01M312.0 224.9h.01M310.4 213.3h.01M304.9 216.1h.01M303.8 211.8h.01M308.4 215.7h.01M306.8 219.8h.01M303.4 216.0h.01M310.9 219.8h.01M305.6 217.9h.01M308.1 213.5h.01M308.8 217.2h.01M309.1 220.0h.01M313.3 214.5h.01M307.9 214.5h.01M305.9 215.4h.01M303.8 217.5h.01M303.2 215.3h.01M304.8 214.5h.01M302.7 215.9h.01M306.3 213.4h.01M301.6 217.9h.01M315.7 220.8h.01M311.4 211.5h.01M308.0 216.4h.01M322.1 212.8h.01M311.4 215.8h.01M308.3 212.5h.01M308.0 215.2h.01M307.6 215.0h.01M310.4 218.0h.01M302.4 216.0h.01M304.5 217.5h.01M311.0 213.7h.01M311.0 212.3h.01M306.7 212.1h.01M303.7 215.7h.01M314.2 212.7h.01M303.5 217.0h.01M304.7 216.4h.01M314.4 211.5h.01M309.5 216.2h.01M306.2 213.8h.01M312.1 229.6h.01M304.5 217.6h.01M307.3 213.2h.01M303.8 213.1h.01M304.5 222.5h.01M308.9 217.7h.01M302.4 217.4h.01M307.5 226.2h.01M309.3 212.0h.01M311.8 215.2h.01M308.9 218.2h.01M305.1 228.9h.01M306.2 216.0h.01M310.0 219.3h.01M304.6 216.6h.01M308.1 215.1h.01M303.3 217.3h.01M305.8 214.9h.01M309.5 216.1h.01M316.3 212.6h.01M304.4 213.1h.01M302.7 219.9h.01M305.2 215.6h.01M308.0 213.8h.01M301.9 217.8h.01M307.6 213.9h.01M312.1 215.0h.01M305.3 224.8h.01M304.7 216.3h.01M308.6 222.7h.01M310.5 215.3h.01M302.1 212.7h.01M309.9 216.9h.01M305.5 212.4h.01M303.8 214.9h.01M301.4 230.9h.01M305.0 229.4h.01M307.7 217.2h.01M305.9 216.3h.01M305.2 215.5h.01M303.8 215.9h.01M303.3 218.4h.01M303.5 218.6h.01M303.1 215.0h.01M301.5 217.7h.01M304.7 218.1h.01M311.6 225.4h.01M321.4 211.7h.01M316.5 212.2h.01M306.3 219.1h.01M309.8 216.3h.01M311.1 219.3h.01M306.0 216.9h.01M301.7 215.8h.01M309.3 219.1h.01M306.0 216.3h.01M309.0 220.3h.01M307.7 218.0h.01M301.3 218.4h.01M304.4 216.3h.01M306.0 217.6h.01M304.9 214.6h.01M305.0 214.4h.01M301.9 217.2h.01M303.3 214.6h.01" stroke="#000" stroke-width="0.8" stroke-linecap="round" opacity="0.42"/>
<path d="M302.9 219.7h.01M308.6 215.5h.01M307.3 214.4h.01M302.7 215.2h.01M302.1 219.5h.01M311.2 215.3h.01M318.6 216.9h.01M314.2 214.3h.01M306.5 216.5h.01M302.0 218.2h.01M312.9 214.7h.01M315.8 218.5h.01M304.5 217.0h.01M305.5 216.7h.01M309.9 213.8h.01M309.6 224.2h.01M306.5 216.1h.01M307.5 227.2h.01M306.6 214.0h.01M315.0 226.7h.01M308.1 212.0h.01M312.3 215.5h.01M315.6 210.0h.01M317.9 215.9h.01M307.5 215.0h.01M315.7 217.6h.01M309.9 215.2h.01M307.7 215.9h.01M309.4 211.4h.01M309.0 216.4h.01M310.9 212.6h.01M306.3 212.1h.01M318.2 227.1h.01M313.9 224.3h.01M308.4 214.7h.01M303.7 229.0h.01M309.5 226.8h.01M305.2 213.9h.01M304.8 217.5h.01M303.7 214.6h.01M306.9 215.3h.01M325.2 207.2h.01M311.1 212.9h.01M313.2 214.7h.01M306.2 213.1h.01M313.3 216.7h.01M312.2 214.5h.01M302.7 218.6h.01M309.5 214.5h.01M310.2 214.7h.01M313.0 216.5h.01M303.6 213.1h.01M314.5 213.9h.01M304.6 230.6h.01M305.4 228.4h.01M305.5 227.6h.01M307.3 215.9h.01M306.5 228.8h.01M303.0 216.7h.01M309.8 213.4h.01M310.7 216.9h.01M307.1 217.3h.01M307.8 218.5h.01M304.8 227.3h.01M308.3 217.2h.01M308.6 213.4h.01M308.1 215.7h.01M303.4 216.8h.01M309.3 227.3h.01M302.8 214.6h.01M311.8 213.7h.01M309.9 214.7h.01M317.9 219.0h.01M308.5 227.1h.01M309.1 215.6h.01M304.5 213.0h.01M312.4 217.5h.01M303.3 212.9h.01M305.4 215.4h.01M311.9 228.8h.01M308.5 216.1h.01M307.2 214.8h.01M303.2 220.9h.01M307.8 216.1h.01M303.5 217.4h.01M312.3 215.5h.01M307.1 217.6h.01M309.8 214.0h.01M305.7 211.7h.01M314.3 216.7h.01M304.3 216.6h.01M307.8 227.7h.01M310.9 217.1h.01M311.8 229.6h.01M304.6 213.2h.01M303.8 215.7h.01M314.0 211.7h.01M301.3 214.8h.01M305.6 214.3h.01M302.5 212.8h.01M303.0 227.8h.01M308.3 215.4h.01M315.2 216.3h.01M318.2 216.8h.01M305.2 214.2h.01M306.7 218.5h.01M306.1 217.5h.01M302.5 218.2h.01M303.2 228.2h.01M312.5 217.8h.01M311.4 215.0h.01M302.9 218.1h.01M309.8 212.6h.01M302.3 213.6h.01M309.6 215.4h.01M305.4 215.2h.01M307.3 214.6h.01M309.3 219.6h.01" stroke="#000" stroke-width="0.8" stroke-linecap="round" opacity="0.42"/>
<path d="M306.8 228.4h.01M305.3 215.7h.01M306.0 225.2h.01M308.7 212.2h.01M308.0 215.7h.01M301.6 214.6h.01M311.6 214.5h.01M311.6 213.5h.01M303.0 222.5h.01M303.0 213.6h.01M310.1 215.2h.01M309.2 215.6h.01M314.6 213.0h.01M311.7 217.1h.01M305.4 229.1h.01M303.8 218.1h.01M305.9 212.5h.01M313.9 217.1h.01M312.6 216.7h.01M304.6 214.5h.01M308.1 217.0h.01M304.3 215.7h.01M313.5 214.1h.01M310.7 217.3h.01M301.1 213.8h.01M311.7 213.1h.01M305.4 211.1h.01M308.6 215.8h.01M307.8 217.0h.01M308.2 213.8h.01M313.6 215.6h.01M306.8 214.4h.01M304.3 215.1h.01M309.3 227.3h.01M305.2 212.2h.01M308.4 213.3h.01M306.1 220.3h.01M309.1 229.0h.01M305.5 213.1h.01M308.5 215.6h.01M301.7 215.0h.01M305.5 217.7h.01M311.3 214.8h.01M305.5 214.6h.01M314.4 211.3h.01M307.6 217.4h.01M305.6 216.3h.01M306.3 216.2h.01M308.8 217.4h.01M315.6 215.3h.01M310.4 215.2h.01M311.5 211.1h.01M304.5 216.8h.01M312.4 218.9h.01M309.5 214.9h.01M308.7 215.5h.01M303.8 214.7h.01M317.4 214.2h.01M316.4 211.9h.01M305.1 227.8h.01M310.9 218.8h.01M302.5 215.7h.01M315.7 215.9h.01M305.3 213.6h.01M307.0 226.1h.01M307.5 227.1h.01M311.0 212.6h.01M307.2 216.0h.01M303.6 212.0h.01M304.6 214.7h.01M310.2 214.4h.01M312.6 216.0h.01M306.4 212.0h.01M301.9 226.9h.01M302.5 216.5h.01M308.0 217.7h.01M305.4 217.5h.01M302.0 216.5h.01M302.5 211.9h.01M304.0 217.0h.01M308.2 213.8h.01M304.8 219.2h.01M304.3 214.2h.01M304.6 213.4h.01M310.7 216.0h.01M312.7 214.9h.01M305.1 214.7h.01M302.6 217.4h.01M303.7 213.9h.01M314.4 216.2h.01M302.0 219.5h.01M307.6 214.4h.01M307.6 214.7h.01M313.8 215.7h.01M318.9 214.0h.01M308.7 213.4h.01M310.6 216.7h.01M304.3 214.6h.01M312.6 219.2h.01M311.3 212.5h.01M309.2 214.7h.01M313.3 217.6h.01M308.6 213.3h.01M308.7 216.3h.01M305.9 217.6h.01M306.5 217.7h.01M311.4 212.4h.01M309.3 214.6h.01M303.1 219.9h.01M304.3 216.0h.01M310.8 210.1h.01M304.7 215.4h.01M311.7 214.0h.01M301.2 208.6h.01M314.8 215.8h.01M307.9 213.1h.01M303.0 213.8h.01M304.9 215.0h.01" stroke="#000" stroke-width="0.8" stroke-linecap="round" opacity="0.42"/>
<line x1="314.7" y1="183.5" x2="314.7" y2="236.8" stroke="#f58888" stroke-width="0.85" />
<line x1="300.5" y1="222.7" x2="349.5" y2="222.7" stroke="#f58888" stroke-width="0.85" />
<circle cx="314.7" cy="196.4" r="1.15" fill="#f26d6d"/>
<circle cx="314.7" cy="222.7" r="1.15" fill="#f26d6d"/>
<circle cx="337.8" cy="222.7" r="1.15" fill="#f26d6d"/>
<text x="363.4" y="210.5" font-size="6.2" text-anchor="middle" textLength="41.5" lengthAdjust="spacingAndGlyphs" transform="rotate(-90 363.4 210.5)" fill="#333" stroke="#333" stroke-width="0.06">GFP (GRN-B-HLog)</text>
<text x="374.8" y="239.2" font-size="4.6" text-anchor="end" fill="#333">10<tspan dy="-1.7" font-size="3">0</tspan></text>
<text x="378.5" y="246.6" font-size="4.6" text-anchor="middle" fill="#333">10<tspan dy="-1.7" font-size="3">0</tspan></text>
<text x="374.8" y="228.54" font-size="4.6" text-anchor="end" fill="#333">10<tspan dy="-1.7" font-size="3">1</tspan></text>
<text x="388.3" y="246.6" font-size="4.6" text-anchor="middle" fill="#333">10<tspan dy="-1.7" font-size="3">1</tspan></text>
<text x="374.8" y="217.88" font-size="4.6" text-anchor="end" fill="#333">10<tspan dy="-1.7" font-size="3">2</tspan></text>
<text x="398.1" y="246.6" font-size="4.6" text-anchor="middle" fill="#333">10<tspan dy="-1.7" font-size="3">2</tspan></text>
<text x="374.8" y="207.22" font-size="4.6" text-anchor="end" fill="#333">10<tspan dy="-1.7" font-size="3">3</tspan></text>
<text x="407.9" y="246.6" font-size="4.6" text-anchor="middle" fill="#333">10<tspan dy="-1.7" font-size="3">3</tspan></text>
<text x="374.8" y="196.56" font-size="4.6" text-anchor="end" fill="#333">10<tspan dy="-1.7" font-size="3">4</tspan></text>
<text x="417.7" y="246.6" font-size="4.6" text-anchor="middle" fill="#333">10<tspan dy="-1.7" font-size="3">4</tspan></text>
<text x="374.8" y="185.9" font-size="4.6" text-anchor="end" fill="#333">10<tspan dy="-1.7" font-size="3">5</tspan></text>
<text x="427.5" y="246.6" font-size="4.6" text-anchor="middle" fill="#333">10<tspan dy="-1.7" font-size="3">5</tspan></text>
<text x="402.4" y="256.4" font-size="6.4" text-anchor="middle" textLength="44.5" lengthAdjust="spacingAndGlyphs" fill="#333" stroke="#333" stroke-width="0.06">PD-L2 (YEL-B-HLog)</text>
<rect x="378" y="183.5" width="49" height="53.3" fill="none" stroke="#c8c8c8" stroke-width="0.7"/>
<line x1="378" y1="183.5" x2="378" y2="236.8" stroke="#777" stroke-width="0.7" />
<line x1="378" y1="236.8" x2="427" y2="236.8" stroke="#777" stroke-width="0.7" />
<path d="M379.23 236.8v-.9M380.45 236.8v-.9M381.68 236.8v-.9M382.9 236.8v-.9M384.12 236.8v-.9M385.35 236.8v-.9M386.57 236.8v-.9M387.8 236.8v-.9M389.02 236.8v-.9M390.25 236.8v-.9M391.48 236.8v-.9M392.7 236.8v-.9M393.93 236.8v-.9M395.15 236.8v-.9M396.38 236.8v-.9M397.6 236.8v-.9M398.82 236.8v-.9M400.05 236.8v-.9M401.27 236.8v-.9M402.5 236.8v-.9M403.73 236.8v-.9M404.95 236.8v-.9M406.18 236.8v-.9M407.4 236.8v-.9M408.62 236.8v-.9M409.85 236.8v-.9M411.07 236.8v-.9M412.3 236.8v-.9M413.52 236.8v-.9M414.75 236.8v-.9M415.98 236.8v-.9M417.2 236.8v-.9M418.43 236.8v-.9M419.65 236.8v-.9M420.88 236.8v-.9M422.1 236.8v-.9M423.32 236.8v-.9M424.55 236.8v-.9M425.77 236.8v-.9M378 184.83h.9M378 186.16h.9M378 187.5h.9M378 188.83h.9M378 190.16h.9M378 191.5h.9M378 192.83h.9M378 194.16h.9M378 195.49h.9M378 196.82h.9M378 198.16h.9M378 199.49h.9M378 200.82h.9M378 202.16h.9M378 203.49h.9M378 204.82h.9M378 206.15h.9M378 207.49h.9M378 208.82h.9M378 210.15h.9M378 211.48h.9M378 212.81h.9M378 214.15h.9M378 215.48h.9M378 216.81h.9M378 218.14h.9M378 219.48h.9M378 220.81h.9M378 222.14h.9M378 223.47h.9M378 224.81h.9M378 226.14h.9M378 227.47h.9M378 228.81h.9M378 230.14h.9M378 231.47h.9M378 232.8h.9M378 234.13h.9M378 235.47h.9" stroke="#666" stroke-width="0.4"/>
<ellipse cx="396.2" cy="215.5" rx="4.6" ry="7.2" transform="rotate(0 396.2 215.5)" fill="#000" opacity="0.78" filter="url(#bl)"/>
<ellipse cx="385.5" cy="216" rx="4.5" ry="5.5" transform="rotate(25 385.5 216)" fill="#000" opacity="0.19" filter="url(#bl)"/>
<ellipse cx="385" cy="228" rx="5.2" ry="2.6" transform="rotate(-28 385 228)" fill="#000" opacity="0.55" filter="url(#bl)"/>
<path d="M393.9 218.1h.01M394.4 213.0h.01M386.7 229.9h.01M406.0 219.6h.01M391.7 214.6h.01M382.1 229.4h.01M387.4 212.0h.01M395.2 221.0h.01M392.8 217.5h.01M394.9 212.7h.01M384.5 215.6h.01M397.2 218.2h.01M398.7 212.4h.01M394.3 214.9h.01M395.1 217.2h.01M395.0 217.4h.01M386.5 227.3h.01M398.6 215.3h.01M386.3 225.6h.01M387.2 217.0h.01M398.0 217.9h.01M393.8 209.9h.01M399.3 214.9h.01M395.0 210.5h.01M393.6 203.6h.01M380.5 215.1h.01M387.5 228.9h.01M396.6 217.0h.01M393.1 211.7h.01M384.1 232.3h.01M383.1 228.0h.01M395.9 218.9h.01M395.0 222.3h.01M396.8 220.4h.01M393.7 214.9h.01M393.4 225.6h.01M383.3 215.6h.01M396.8 221.5h.01M384.8 227.5h.01M396.9 216.7h.01M383.2 226.3h.01M388.0 216.7h.01M391.3 222.1h.01M398.5 217.5h.01M381.8 215.5h.01M396.8 222.1h.01M396.3 216.6h.01M388.1 209.3h.01M392.4 213.8h.01M387.3 214.1h.01M383.1 229.9h.01M392.5 207.9h.01M393.9 217.4h.01M397.7 216.2h.01M384.6 227.8h.01M399.9 221.6h.01M398.4 213.9h.01M395.2 210.2h.01M385.2 218.2h.01M384.7 228.9h.01M396.5 212.5h.01M398.0 220.7h.01M387.7 225.7h.01M395.8 215.7h.01M396.3 211.4h.01M395.8 220.6h.01M393.3 218.3h.01M384.6 228.7h.01M396.9 214.1h.01M383.1 220.8h.01M392.1 225.4h.01M390.1 227.4h.01M394.4 212.8h.01M390.7 218.7h.01M396.9 216.5h.01M396.3 212.9h.01M398.9 223.4h.01M394.3 215.8h.01M398.8 209.7h.01M394.7 211.6h.01M398.3 214.3h.01M395.5 217.1h.01M388.5 226.7h.01M397.3 218.2h.01M394.0 212.8h.01M386.3 225.4h.01M399.9 221.8h.01M396.2 212.5h.01M396.9 219.7h.01M398.6 214.8h.01M397.9 214.1h.01M399.6 219.1h.01M380.1 231.7h.01M398.5 217.0h.01M392.0 204.7h.01M383.5 229.3h.01M385.3 214.9h.01M395.1 212.6h.01M381.4 229.4h.01M395.1 220.4h.01M379.6 211.9h.01M391.0 218.6h.01M399.2 215.9h.01M386.2 227.9h.01M385.2 214.2h.01M381.5 229.1h.01M394.6 207.6h.01M395.6 218.2h.01M394.4 218.9h.01M391.3 208.7h.01M385.6 227.5h.01M393.1 215.3h.01M382.4 229.6h.01M398.9 214.6h.01M386.9 225.2h.01M397.3 208.6h.01M384.9 227.1h.01M398.5 223.9h.01M390.5 217.3h.01M399.7 218.5h.01M399.5 212.4h.01M383.0 232.3h.01M395.8 216.5h.01M382.4 231.1h.01M398.7 221.0h.01M397.5 218.7h.01M385.0 227.4h.01M394.7 220.0h.01M398.2 218.5h.01M394.0 212.5h.01M379.9 228.9h.01M383.0 228.3h.01M393.8 212.8h.01M383.8 228.7h.01M400.9 214.1h.01M381.1 212.0h.01M400.3 220.3h.01M398.5 216.4h.01M391.9 219.0h.01M395.6 220.0h.01M397.5 215.4h.01M385.3 232.1h.01M393.3 213.2h.01M388.3 213.5h.01M396.6 214.1h.01M399.3 221.3h.01M395.0 214.2h.01M391.6 213.5h.01M393.6 221.9h.01M385.6 228.4h.01M391.0 217.1h.01M392.3 216.2h.01M394.2 211.0h.01M398.4 214.4h.01M397.9 217.2h.01M402.0 219.9h.01M398.1 213.1h.01M388.3 226.1h.01M395.0 218.7h.01M387.3 228.5h.01M385.2 227.7h.01M394.1 214.5h.01M393.5 218.8h.01M387.6 233.6h.01M392.2 214.7h.01M385.3 231.6h.01M395.3 223.4h.01M383.5 230.8h.01M396.3 214.1h.01M395.8 209.8h.01M395.8 215.3h.01M394.1 213.4h.01M383.7 231.1h.01M395.7 211.7h.01M395.3 214.7h.01M397.9 211.4h.01M394.6 217.7h.01M401.5 214.8h.01M399.2 215.2h.01M395.4 220.5h.01M385.5 227.5h.01M388.3 202.6h.01M397.1 210.3h.01M386.9 227.3h.01" stroke="#000" stroke-width="0.8" stroke-linecap="round" opacity="0.42"/>
<path d="M399.6 213.2h.01M393.4 208.5h.01M398.2 215.6h.01M394.0 219.8h.01M391.7 214.0h.01M389.9 220.4h.01M392.5 212.7h.01M402.1 215.9h.01M387.1 226.8h.01M397.2 229.3h.01M395.2 215.3h.01M383.4 228.7h.01M386.5 208.1h.01M401.4 220.4h.01M391.7 213.5h.01M388.8 217.5h.01M390.4 206.9h.01M392.8 215.2h.01M398.4 215.5h.01M397.6 220.1h.01M395.1 219.2h.01M387.3 227.9h.01M394.1 216.3h.01M399.4 214.3h.01M396.2 220.3h.01M393.8 211.4h.01M394.4 213.6h.01M396.0 217.0h.01M396.8 221.5h.01M397.6 210.4h.01M399.0 221.3h.01M384.4 227.3h.01M387.4 227.1h.01M387.7 228.6h.01M391.1 224.3h.01M397.3 213.3h.01M390.7 222.4h.01M392.2 218.3h.01M394.4 217.7h.01M393.6 217.2h.01M387.7 229.3h.01M396.2 221.1h.01M393.1 205.3h.01M395.5 215.7h.01M395.9 215.5h.01M398.3 214.0h.01M389.6 214.4h.01M380.7 229.0h.01M396.6 216.5h.01M397.4 215.7h.01M386.6 216.1h.01M392.0 217.7h.01M391.8 221.4h.01M395.2 216.9h.01M394.3 219.1h.01M383.1 219.1h.01M398.7 220.4h.01M389.4 210.7h.01M396.1 217.3h.01M395.1 215.3h.01M399.8 220.9h.01M379.0 229.7h.01M387.9 228.1h.01M397.4 210.9h.01M395.5 210.7h.01M397.3 223.6h.01M400.0 216.1h.01M385.5 227.8h.01M401.1 216.0h.01M397.3 219.5h.01M399.7 216.4h.01M396.7 224.1h.01M388.0 214.4h.01M397.7 214.3h.01M387.8 226.4h.01M392.5 216.3h.01M400.6 211.2h.01M383.3 227.2h.01M394.8 215.3h.01M379.7 229.1h.01M396.6 216.5h.01M398.5 222.7h.01M397.5 212.6h.01M391.2 221.1h.01M383.3 227.5h.01M386.5 218.4h.01M399.1 220.7h.01M392.2 217.6h.01M386.8 220.6h.01M398.4 213.8h.01M402.6 221.0h.01M394.5 213.3h.01M394.5 219.8h.01M385.2 228.6h.01M387.8 215.6h.01M397.0 212.8h.01M379.4 230.9h.01M398.4 211.4h.01M398.4 221.3h.01M388.4 213.5h.01M390.9 221.2h.01M385.2 203.9h.01M396.1 213.5h.01M398.2 222.1h.01M402.0 218.2h.01M383.9 232.6h.01M401.9 224.4h.01M395.1 218.7h.01M394.8 220.2h.01M396.2 219.7h.01M397.9 213.0h.01M394.1 212.8h.01M394.2 212.0h.01M383.7 226.0h.01M395.2 212.2h.01M394.5 218.4h.01M392.2 219.9h.01M397.6 214.8h.01M398.2 212.6h.01M393.8 218.0h.01M395.0 218.3h.01M392.0 215.3h.01M391.0 218.9h.01M397.6 213.5h.01M397.7 215.9h.01M385.0 217.1h.01M380.9 228.3h.01M392.3 209.0h.01M398.8 217.5h.01M396.6 222.0h.01M395.4 224.3h.01M382.2 225.9h.01M397.3 210.5h.01M392.7 211.7h.01M395.6 215.5h.01M396.0 208.1h.01M396.7 224.0h.01M391.4 211.3h.01M398.5 215.1h.01M383.5 228.5h.01M399.1 209.5h.01M386.0 229.1h.01M385.2 226.8h.01M399.4 210.5h.01M397.6 222.8h.01M394.4 216.1h.01M397.8 217.0h.01M399.5 215.8h.01M391.8 225.1h.01M397.0 214.9h.01M383.9 227.8h.01M391.1 226.1h.01M390.7 227.0h.01M397.8 212.7h.01M390.6 225.3h.01M399.5 217.2h.01M384.8 225.8h.01M397.7 224.9h.01M401.5 207.7h.01M385.4 216.3h.01M393.1 214.4h.01M383.1 227.1h.01M394.8 208.7h.01M395.5 213.1h.01M398.1 215.4h.01M398.3 212.6h.01M396.7 219.8h.01M378.7 231.0h.01M398.5 222.3h.01M382.2 228.5h.01M396.2 217.0h.01M393.7 205.3h.01M393.7 215.2h.01M383.1 229.5h.01M400.9 221.6h.01M394.0 211.5h.01M393.0 211.6h.01M394.7 213.1h.01M385.5 227.4h.01M383.6 228.4h.01M400.9 218.9h.01M384.8 227.4h.01M397.0 218.2h.01M384.8 226.9h.01" stroke="#000" stroke-width="0.8" stroke-linecap="round" opacity="0.42"/>
<path d="M391.1 208.8h.01M385.6 222.7h.01M385.0 228.2h.01M382.6 231.8h.01M397.1 216.7h.01M397.1 210.6h.01M393.9 216.1h.01M395.1 206.8h.01M388.6 229.4h.01M397.0 224.1h.01M393.3 217.6h.01M387.0 226.4h.01M384.5 226.7h.01M390.3 226.2h.01M382.4 218.5h.01M387.9 225.8h.01M390.8 210.2h.01M383.5 228.9h.01M397.0 219.0h.01M380.4 231.5h.01M394.8 211.4h.01M393.9 214.0h.01M387.8 229.7h.01M392.9 217.9h.01M394.9 211.4h.01M394.6 211.5h.01M399.4 213.3h.01M381.4 225.0h.01M397.3 213.8h.01M389.3 223.5h.01M392.7 211.8h.01M396.5 211.5h.01M396.1 214.1h.01M397.5 210.3h.01M398.9 213.0h.01M385.5 229.3h.01M399.2 215.2h.01M399.9 211.7h.01M399.2 213.6h.01M398.4 214.3h.01M384.1 208.9h.01M383.7 227.0h.01M400.5 214.3h.01M380.2 229.1h.01M381.5 229.9h.01M382.6 217.1h.01M383.0 233.3h.01M395.8 211.2h.01M396.1 218.0h.01M393.6 220.1h.01M397.9 207.6h.01M393.7 221.5h.01M396.1 216.4h.01M383.5 225.5h.01M399.0 217.5h.01M393.9 215.2h.01M399.4 227.2h.01M387.6 222.0h.01M396.4 220.4h.01M393.3 214.9h.01M387.6 213.0h.01M397.3 217.0h.01M394.9 210.3h.01M394.9 211.9h.01M386.8 212.2h.01M390.0 214.9h.01M395.7 217.1h.01M394.1 223.3h.01M397.9 217.8h.01M386.0 211.8h.01M391.6 219.6h.01M396.2 213.8h.01M395.0 221.8h.01M396.9 212.0h.01M382.4 226.6h.01M393.6 211.7h.01M388.7 215.6h.01M385.7 201.4h.01M384.5 231.2h.01M397.5 204.7h.01M398.9 218.3h.01M397.6 215.6h.01M386.6 224.7h.01M387.7 225.9h.01M395.9 219.5h.01M396.4 221.6h.01M388.7 226.1h.01M395.4 208.4h.01M382.0 229.8h.01M396.1 216.3h.01M383.9 217.4h.01M390.1 213.7h.01M381.4 228.9h.01M382.9 217.2h.01M383.4 215.3h.01M383.0 216.6h.01M393.8 220.2h.01M384.1 230.1h.01M385.2 227.8h.01M393.1 218.8h.01M385.6 227.3h.01M387.0 228.4h.01M395.2 211.9h.01M395.1 221.2h.01M381.1 231.8h.01M389.6 226.4h.01M395.1 218.4h.01M395.1 217.1h.01M382.7 217.6h.01M400.0 215.5h.01M398.3 213.6h.01M396.8 211.8h.01M398.2 216.7h.01M400.0 215.7h.01M386.1 226.6h.01M385.6 225.4h.01M396.4 213.9h.01M399.3 221.3h.01M385.8 227.2h.01M398.2 213.6h.01M392.7 218.3h.01M393.3 215.7h.01M397.6 215.1h.01M395.2 218.2h.01M383.6 216.6h.01M399.5 216.6h.01M398.8 214.1h.01M384.6 227.2h.01M396.5 213.4h.01M381.7 228.4h.01M387.0 214.2h.01M390.5 210.2h.01M391.0 217.6h.01M381.9 226.1h.01M378.6 230.2h.01M386.6 213.6h.01M385.1 227.2h.01M392.4 219.8h.01M386.0 212.5h.01M395.0 213.0h.01M394.2 212.6h.01M397.2 212.1h.01M393.1 218.2h.01M379.0 231.3h.01M394.1 210.9h.01M394.0 217.0h.01M394.5 221.4h.01M394.4 220.3h.01M396.3 221.2h.01M397.1 209.6h.01M392.5 214.7h.01M394.2 217.2h.01M384.2 228.0h.01M393.2 213.9h.01M386.5 228.3h.01M383.0 229.3h.01M397.0 216.7h.01M391.0 229.1h.01M395.1 213.9h.01M393.5 221.7h.01M382.8 228.6h.01M392.2 209.5h.01M395.8 212.5h.01M394.3 205.6h.01M388.7 225.9h.01M403.6 222.7h.01M394.4 217.0h.01M380.9 228.6h.01M383.8 215.6h.01M383.1 231.2h.01M395.0 215.4h.01M392.0 209.8h.01M403.8 227.4h.01M399.1 214.2h.01M396.4 213.2h.01M396.9 217.4h.01M397.6 225.0h.01M398.7 219.3h.01M401.2 209.7h.01M382.4 230.5h.01M395.3 213.2h.01M382.6 227.8h.01M397.7 219.3h.01M382.4 215.6h.01" stroke="#000" stroke-width="0.8" stroke-linecap="round" opacity="0.42"/>
<line x1="392.2" y1="183.5" x2="392.2" y2="236.8" stroke="#f58888" stroke-width="0.85" />
<line x1="378" y1="222.7" x2="427" y2="222.7" stroke="#f58888" stroke-width="0.85" />
<circle cx="392.2" cy="196.4" r="1.15" fill="#f26d6d"/>
<circle cx="392.2" cy="222.7" r="1.15" fill="#f26d6d"/>
<circle cx="415.3" cy="222.7" r="1.15" fill="#f26d6d"/>
<text x="440.8" y="210.5" font-size="6.2" text-anchor="middle" textLength="41.5" lengthAdjust="spacingAndGlyphs" transform="rotate(-90 440.8 210.5)" fill="#333" stroke="#333" stroke-width="0.06">GFP (GRN-B-HLog)</text>
<text x="452.2" y="239.2" font-size="4.6" text-anchor="end" fill="#333">10<tspan dy="-1.7" font-size="3">0</tspan></text>
<text x="455.9" y="246.6" font-size="4.6" text-anchor="middle" fill="#333">10<tspan dy="-1.7" font-size="3">0</tspan></text>
<text x="452.2" y="228.54" font-size="4.6" text-anchor="end" fill="#333">10<tspan dy="-1.7" font-size="3">1</tspan></text>
<text x="465.7" y="246.6" font-size="4.6" text-anchor="middle" fill="#333">10<tspan dy="-1.7" font-size="3">1</tspan></text>
<text x="452.2" y="217.88" font-size="4.6" text-anchor="end" fill="#333">10<tspan dy="-1.7" font-size="3">2</tspan></text>
<text x="475.5" y="246.6" font-size="4.6" text-anchor="middle" fill="#333">10<tspan dy="-1.7" font-size="3">2</tspan></text>
<text x="452.2" y="207.22" font-size="4.6" text-anchor="end" fill="#333">10<tspan dy="-1.7" font-size="3">3</tspan></text>
<text x="485.3" y="246.6" font-size="4.6" text-anchor="middle" fill="#333">10<tspan dy="-1.7" font-size="3">3</tspan></text>
<text x="452.2" y="196.56" font-size="4.6" text-anchor="end" fill="#333">10<tspan dy="-1.7" font-size="3">4</tspan></text>
<text x="495.1" y="246.6" font-size="4.6" text-anchor="middle" fill="#333">10<tspan dy="-1.7" font-size="3">4</tspan></text>
<text x="452.2" y="185.9" font-size="4.6" text-anchor="end" fill="#333">10<tspan dy="-1.7" font-size="3">5</tspan></text>
<text x="504.9" y="246.6" font-size="4.6" text-anchor="middle" fill="#333">10<tspan dy="-1.7" font-size="3">5</tspan></text>
<text x="479.8" y="256.4" font-size="6.4" text-anchor="middle" textLength="44.5" lengthAdjust="spacingAndGlyphs" fill="#333" stroke="#333" stroke-width="0.06">PD-L2 (YEL-B-HLog)</text>
<rect x="455.4" y="183.5" width="49" height="53.3" fill="none" stroke="#c8c8c8" stroke-width="0.7"/>
<line x1="455.4" y1="183.5" x2="455.4" y2="236.8" stroke="#777" stroke-width="0.7" />
<line x1="455.4" y1="236.8" x2="504.4" y2="236.8" stroke="#777" stroke-width="0.7" />
<path d="M456.62 236.8v-.9M457.85 236.8v-.9M459.07 236.8v-.9M460.3 236.8v-.9M461.52 236.8v-.9M462.75 236.8v-.9M463.97 236.8v-.9M465.2 236.8v-.9M466.42 236.8v-.9M467.65 236.8v-.9M468.88 236.8v-.9M470.1 236.8v-.9M471.32 236.8v-.9M472.55 236.8v-.9M473.77 236.8v-.9M475 236.8v-.9M476.22 236.8v-.9M477.45 236.8v-.9M478.67 236.8v-.9M479.9 236.8v-.9M481.12 236.8v-.9M482.35 236.8v-.9M483.57 236.8v-.9M484.8 236.8v-.9M486.02 236.8v-.9M487.25 236.8v-.9M488.47 236.8v-.9M489.7 236.8v-.9M490.92 236.8v-.9M492.15 236.8v-.9M493.38 236.8v-.9M494.6 236.8v-.9M495.82 236.8v-.9M497.05 236.8v-.9M498.27 236.8v-.9M499.5 236.8v-.9M500.72 236.8v-.9M501.95 236.8v-.9M503.17 236.8v-.9M455.4 184.83h.9M455.4 186.16h.9M455.4 187.5h.9M455.4 188.83h.9M455.4 190.16h.9M455.4 191.5h.9M455.4 192.83h.9M455.4 194.16h.9M455.4 195.49h.9M455.4 196.82h.9M455.4 198.16h.9M455.4 199.49h.9M455.4 200.82h.9M455.4 202.16h.9M455.4 203.49h.9M455.4 204.82h.9M455.4 206.15h.9M455.4 207.49h.9M455.4 208.82h.9M455.4 210.15h.9M455.4 211.48h.9M455.4 212.81h.9M455.4 214.15h.9M455.4 215.48h.9M455.4 216.81h.9M455.4 218.14h.9M455.4 219.48h.9M455.4 220.81h.9M455.4 222.14h.9M455.4 223.47h.9M455.4 224.81h.9M455.4 226.14h.9M455.4 227.47h.9M455.4 228.81h.9M455.4 230.14h.9M455.4 231.47h.9M455.4 232.8h.9M455.4 234.13h.9M455.4 235.47h.9" stroke="#666" stroke-width="0.4"/>
<ellipse cx="476" cy="211.5" rx="4.8" ry="2.7" transform="rotate(-15 476 211.5)" fill="#000" opacity="0.59" filter="url(#bl)"/>
<ellipse cx="464" cy="226.5" rx="10.5" ry="3" transform="rotate(-30 464 226.5)" fill="#000" opacity="0.68" filter="url(#bl)"/>
<ellipse cx="470" cy="218" rx="3" ry="3" transform="rotate(0 470 218)" fill="#000" opacity="0.13" filter="url(#bl)"/>
<path d="M475.8 213.3h.01M460.8 230.8h.01M468.0 223.8h.01M463.2 228.8h.01M465.9 224.2h.01M477.2 211.2h.01M472.6 217.0h.01M471.5 208.9h.01M466.8 223.7h.01M459.1 235.1h.01M462.7 228.0h.01M478.6 210.2h.01M461.8 226.9h.01M470.4 223.1h.01M456.5 231.7h.01M471.3 212.4h.01M465.2 220.2h.01M464.4 227.3h.01M477.4 212.0h.01M472.2 211.5h.01M465.6 226.1h.01M467.5 224.2h.01M472.6 213.8h.01M465.7 227.6h.01M470.0 224.8h.01M472.4 219.7h.01M461.5 230.5h.01M467.3 223.5h.01M477.5 210.3h.01M475.6 209.7h.01M467.2 225.1h.01M462.1 226.6h.01M479.0 219.7h.01M473.7 212.6h.01M492.9 205.8h.01M478.5 210.2h.01M464.7 230.9h.01M468.3 225.4h.01M477.6 211.4h.01M471.2 214.3h.01M463.4 223.6h.01M461.7 227.1h.01M474.5 209.0h.01M479.8 224.7h.01M462.4 229.8h.01M460.3 225.3h.01M459.4 229.4h.01M475.6 211.6h.01M462.1 223.1h.01M474.2 207.6h.01M459.1 230.1h.01M468.1 220.9h.01M467.5 226.8h.01M466.8 222.1h.01M461.8 227.2h.01M470.1 221.5h.01M476.7 212.2h.01M474.5 215.6h.01M460.5 230.9h.01M467.9 218.0h.01M476.1 211.4h.01M462.1 224.9h.01M461.5 231.4h.01M472.3 221.2h.01M471.6 215.0h.01M465.2 224.6h.01M472.2 223.0h.01M457.9 229.3h.01M473.2 210.3h.01M463.2 227.9h.01M466.5 226.2h.01M466.4 224.6h.01M459.7 229.0h.01M469.2 229.8h.01M458.4 230.9h.01M477.6 209.0h.01M472.9 213.5h.01M460.5 227.0h.01M469.9 217.5h.01M470.4 221.5h.01M474.8 212.0h.01M473.5 211.3h.01M475.9 220.6h.01M476.7 211.3h.01M483.2 210.6h.01M481.1 208.8h.01M461.1 228.8h.01M459.5 230.5h.01M469.5 224.1h.01M467.9 222.7h.01M463.5 227.7h.01M480.7 210.0h.01M478.9 211.0h.01M460.5 227.7h.01M457.6 230.3h.01M460.3 228.1h.01M471.3 210.5h.01M466.9 224.7h.01M473.0 214.3h.01M478.8 209.1h.01M456.6 231.6h.01M475.1 224.4h.01M473.5 215.9h.01M473.8 221.2h.01M461.3 229.9h.01M476.1 210.9h.01M472.4 214.5h.01M467.5 222.2h.01M463.0 223.9h.01M469.6 222.7h.01M462.2 226.3h.01M475.2 213.0h.01M460.3 229.5h.01M479.8 212.3h.01M476.8 211.9h.01M469.7 230.3h.01M461.9 230.1h.01M466.6 229.2h.01M467.7 224.4h.01M464.6 224.3h.01M464.0 223.5h.01M465.3 226.6h.01M468.0 228.3h.01M469.6 221.1h.01M456.7 229.2h.01M472.5 216.5h.01M471.9 212.3h.01M473.3 219.6h.01M466.9 225.1h.01M475.8 212.1h.01M472.9 214.1h.01M457.3 229.0h.01M477.6 211.2h.01M480.2 211.2h.01M461.4 224.1h.01M472.7 212.6h.01M462.4 228.2h.01M479.0 212.2h.01M461.9 225.5h.01M477.1 210.2h.01M472.3 222.1h.01M474.2 215.4h.01" stroke="#000" stroke-width="0.8" stroke-linecap="round" opacity="0.42"/>
<path d="M470.0 218.5h.01M459.5 228.8h.01M474.5 222.8h.01M470.9 218.5h.01M473.2 212.7h.01M472.8 211.9h.01M461.2 227.1h.01M465.0 226.7h.01M460.7 227.3h.01M473.0 212.3h.01M465.2 225.1h.01M474.2 212.3h.01M468.7 222.9h.01M476.5 212.8h.01M470.7 215.8h.01M462.9 227.3h.01M474.1 212.3h.01M472.4 211.5h.01M461.7 225.7h.01M457.5 229.6h.01M480.8 211.9h.01M478.7 210.0h.01M477.1 213.2h.01M474.9 206.3h.01M474.0 222.9h.01M472.3 214.3h.01M472.4 211.7h.01M461.3 228.6h.01M471.1 223.5h.01M462.4 228.7h.01M466.3 228.5h.01M466.3 224.3h.01M476.2 210.5h.01M476.7 211.1h.01M477.7 210.2h.01M471.8 219.0h.01M487.0 209.8h.01M472.2 208.6h.01M470.7 222.8h.01M462.0 230.4h.01M472.7 212.8h.01M464.9 223.5h.01M467.6 228.5h.01M466.0 227.0h.01M459.6 227.0h.01M469.1 223.7h.01M473.5 208.9h.01M475.9 212.1h.01M467.1 226.5h.01M480.9 212.5h.01M461.1 228.0h.01M464.2 224.7h.01M471.5 219.2h.01M456.8 232.9h.01M472.6 211.5h.01M470.0 216.0h.01M475.6 211.6h.01M463.8 227.7h.01M465.4 226.4h.01M477.9 216.7h.01M468.3 224.8h.01M470.3 223.0h.01M472.0 210.7h.01M467.2 221.8h.01M457.1 226.7h.01M477.3 213.2h.01M464.3 226.8h.01M462.0 228.7h.01M468.3 225.1h.01M477.9 213.8h.01M468.5 217.8h.01M477.6 211.2h.01M471.1 213.7h.01M469.1 223.2h.01M461.1 223.2h.01M460.5 227.1h.01M472.8 222.5h.01M477.4 212.6h.01M469.0 212.7h.01M461.1 224.7h.01M471.7 221.5h.01M465.2 226.8h.01M475.6 213.2h.01M460.9 228.2h.01M469.7 220.0h.01M466.1 227.6h.01M459.4 229.6h.01M477.1 212.1h.01M467.6 225.5h.01M465.8 225.9h.01M471.1 210.8h.01M461.7 226.3h.01M463.1 229.4h.01M457.8 230.1h.01M461.0 231.5h.01M456.8 228.8h.01M459.3 228.0h.01M460.6 231.6h.01M466.0 216.5h.01M465.1 225.3h.01M468.0 225.2h.01M471.5 221.9h.01M477.8 210.3h.01M464.3 225.3h.01M457.7 230.6h.01M462.3 227.5h.01M459.1 231.4h.01M469.9 225.7h.01M462.0 225.2h.01M476.1 212.4h.01M475.7 210.5h.01M470.1 224.8h.01M472.0 216.0h.01M465.4 225.4h.01M476.9 210.3h.01M460.5 226.8h.01M474.3 210.9h.01M468.9 217.3h.01M474.4 211.6h.01M458.4 231.9h.01M478.1 212.0h.01M463.6 227.5h.01M465.4 224.7h.01M465.8 226.7h.01M471.0 217.9h.01M464.3 225.5h.01M478.0 212.6h.01M460.9 228.1h.01M458.8 230.0h.01M470.7 226.4h.01M461.6 226.5h.01M469.9 211.0h.01M459.3 224.7h.01M460.2 229.0h.01M475.5 212.1h.01M478.2 219.9h.01M472.1 211.2h.01M461.2 225.5h.01M466.9 231.7h.01M478.3 210.6h.01M472.6 211.9h.01M477.4 212.9h.01" stroke="#000" stroke-width="0.8" stroke-linecap="round" opacity="0.42"/>
<path d="M466.3 223.6h.01M467.7 227.3h.01M468.0 226.4h.01M475.1 210.9h.01M463.3 225.7h.01M477.5 210.7h.01M470.9 218.7h.01M472.0 220.5h.01M463.7 224.1h.01M463.1 229.4h.01M470.1 228.8h.01M465.5 223.1h.01M472.2 212.6h.01M471.4 215.4h.01M475.0 210.9h.01M470.0 220.9h.01M477.5 214.0h.01M465.5 225.6h.01M473.8 223.1h.01M462.7 226.4h.01M478.0 215.2h.01M456.4 230.3h.01M462.2 229.6h.01M471.5 222.1h.01M467.3 225.2h.01M460.5 227.4h.01M461.9 227.1h.01M459.2 228.4h.01M459.5 228.7h.01M472.1 221.7h.01M483.1 211.7h.01M461.3 229.2h.01M470.5 217.6h.01M474.4 211.3h.01M469.4 222.1h.01M469.9 222.3h.01M463.0 227.9h.01M463.7 227.3h.01M462.9 225.9h.01M473.9 218.9h.01M472.4 209.8h.01M467.8 213.5h.01M463.3 223.5h.01M474.5 210.3h.01M463.4 227.7h.01M464.4 225.8h.01M469.3 226.0h.01M471.2 212.0h.01M466.8 225.5h.01M473.0 207.6h.01M477.9 210.2h.01M468.7 215.7h.01M480.0 210.4h.01M488.0 207.7h.01M464.5 229.3h.01M474.9 212.2h.01M467.5 226.9h.01M457.4 228.4h.01M468.8 226.7h.01M465.8 227.7h.01M475.4 212.3h.01M463.0 228.2h.01M470.3 222.4h.01M477.3 210.9h.01M477.7 210.7h.01M470.1 212.9h.01M470.6 219.5h.01M478.1 213.1h.01M481.1 212.8h.01M460.6 233.3h.01M475.2 212.6h.01M458.7 229.1h.01M478.0 219.0h.01M474.7 219.7h.01M469.0 221.3h.01M458.9 230.1h.01M468.9 221.9h.01M478.1 212.0h.01M463.7 225.9h.01M460.1 230.6h.01M471.6 223.3h.01M468.5 216.5h.01M469.1 219.4h.01M462.9 226.5h.01M474.0 211.4h.01M465.4 226.4h.01M472.3 222.1h.01M477.6 210.2h.01M466.6 224.6h.01M473.4 210.7h.01M469.7 223.3h.01M471.7 219.7h.01M463.6 226.4h.01M464.8 229.3h.01M474.6 212.7h.01M470.5 225.4h.01M467.3 225.4h.01M475.5 212.6h.01M471.0 222.6h.01M462.6 227.8h.01M462.0 225.3h.01M468.1 221.1h.01M475.8 211.9h.01M459.4 230.2h.01M458.3 230.8h.01M465.3 224.6h.01M461.5 226.1h.01M472.7 219.2h.01M464.3 227.8h.01M474.9 211.7h.01M477.2 211.8h.01M471.1 220.6h.01M472.3 222.4h.01M469.7 217.9h.01M466.1 218.9h.01M456.5 230.5h.01M456.5 229.8h.01M471.4 217.4h.01M477.8 212.6h.01M477.7 219.6h.01M465.3 227.3h.01M461.0 227.4h.01M478.9 209.2h.01M471.3 215.0h.01M467.8 227.1h.01M464.0 225.6h.01M479.5 213.8h.01M470.9 215.1h.01M474.2 212.0h.01M475.6 211.4h.01M473.6 209.1h.01M474.7 212.4h.01M477.8 212.6h.01M468.2 221.9h.01M470.5 219.6h.01M479.4 212.9h.01M479.2 212.0h.01M473.4 211.4h.01M460.9 229.7h.01M475.8 211.3h.01M478.1 211.0h.01M467.4 224.4h.01" stroke="#000" stroke-width="0.8" stroke-linecap="round" opacity="0.42"/>
<line x1="469.6" y1="183.5" x2="469.6" y2="236.8" stroke="#f58888" stroke-width="0.85" />
<line x1="455.4" y1="222.7" x2="504.4" y2="222.7" stroke="#f58888" stroke-width="0.85" />
<circle cx="469.6" cy="196.4" r="1.15" fill="#f26d6d"/>
<circle cx="469.6" cy="222.7" r="1.15" fill="#f26d6d"/>
<circle cx="492.7" cy="222.7" r="1.15" fill="#f26d6d"/>
<text x="7.5" y="282.8" font-size="10.8" textLength="7.8" lengthAdjust="spacingAndGlyphs" font-weight="bold" fill="#000">C</text>
<text x="205.8" y="282.9" font-size="10.8" textLength="8.2" lengthAdjust="spacingAndGlyphs" font-weight="bold" fill="#000">D</text>
<text x="404.8" y="282.9" font-size="10.8" textLength="6.6" lengthAdjust="spacingAndGlyphs" font-weight="bold" fill="#000">E</text>
<text x="8.2" y="478.4" font-size="10.8" textLength="6.4" lengthAdjust="spacingAndGlyphs" font-weight="bold" fill="#000">F</text>
<text x="208.8" y="478.6" font-size="10.8" textLength="9.2" lengthAdjust="spacingAndGlyphs" font-weight="bold" fill="#000">G</text>
<line x1="39.2" y1="292" x2="39.2" y2="395.4" stroke="#111" stroke-width="1.3" />
<line x1="36.4" y1="395.4" x2="39.2" y2="395.4" stroke="#111" stroke-width="1.1" />
<text x="34.5" y="398.3" font-size="8.6" text-anchor="end">0</text>
<line x1="36.4" y1="375.2" x2="39.2" y2="375.2" stroke="#111" stroke-width="1.1" />
<text x="34.5" y="378.1" font-size="8.6" text-anchor="end">20</text>
<line x1="36.4" y1="355" x2="39.2" y2="355" stroke="#111" stroke-width="1.1" />
<text x="34.5" y="357.9" font-size="8.6" text-anchor="end">40</text>
<line x1="36.4" y1="334.8" x2="39.2" y2="334.8" stroke="#111" stroke-width="1.1" />
<text x="34.5" y="337.7" font-size="8.6" text-anchor="end">60</text>
<line x1="36.4" y1="314.6" x2="39.2" y2="314.6" stroke="#111" stroke-width="1.1" />
<text x="34.5" y="317.5" font-size="8.6" text-anchor="end">80</text>
<line x1="36.4" y1="294.4" x2="39.2" y2="294.4" stroke="#111" stroke-width="1.1" />
<text x="34.5" y="297.3" font-size="8.6" text-anchor="end">100</text>
<line x1="39.2" y1="395.4" x2="90.4" y2="395.4" stroke="#111" stroke-width="1.3" />
<line x1="44.4" y1="395.4" x2="44.4" y2="398.4" stroke="#111" stroke-width="1.1" />
<line x1="52.5" y1="395.4" x2="52.5" y2="398.4" stroke="#111" stroke-width="1.1" />
<line x1="60.9" y1="395.4" x2="60.9" y2="398.4" stroke="#111" stroke-width="1.1" />
<line x1="69.2" y1="395.4" x2="69.2" y2="398.4" stroke="#111" stroke-width="1.1" />
<line x1="77.3" y1="395.4" x2="77.3" y2="398.4" stroke="#111" stroke-width="1.1" />
<line x1="85.6" y1="395.4" x2="85.6" y2="398.4" stroke="#111" stroke-width="1.1" />
<path d="M50.4 306.5V300.2H83.7V306.5" fill="none" stroke="#111" stroke-width="0.9"/>
<circle cx="67.3" cy="297" r="1.1" fill="#111"/>
<path d="M50.4 314.6V309.4H70.2V314.6" fill="none" stroke="#111" stroke-width="0.9"/>
<circle cx="60.6" cy="305.6" r="1.1" fill="#111"/>
<ellipse cx="44.4" cy="388.33" rx="2.9" ry="1.5" fill="#cccccc"/>
<line x1="52.5" y1="388.33" x2="52.5" y2="383.28" stroke="#1e3f82" stroke-width="1.2" />
<line x1="50.9" y1="388.33" x2="54.1" y2="388.33" stroke="#1e3f82" stroke-width="1.1" />
<line x1="50.9" y1="383.28" x2="54.1" y2="383.28" stroke="#1e3f82" stroke-width="1.1" />
<circle cx="52.5" cy="380.25" r="1.45" fill="#1e3f82"/>
<circle cx="52.5" cy="385.3" r="1.45" fill="#1e3f82"/>
<circle cx="52.5" cy="386.81" r="1.45" fill="#1e3f82"/>
<circle cx="52.5" cy="388.33" r="1.45" fill="#1e3f82"/>
<circle cx="52.5" cy="387.32" r="1.45" fill="#1e3f82"/>
<line x1="49.6" y1="385.8" x2="55.4" y2="385.8" stroke="#111" stroke-width="1.3" />
<ellipse cx="60.9" cy="387.82" rx="2.9" ry="1.5" fill="#cccccc"/>
<line x1="69.2" y1="380.75" x2="69.2" y2="347.42" stroke="#b01038" stroke-width="1.2" />
<line x1="67.6" y1="380.75" x2="70.8" y2="380.75" stroke="#b01038" stroke-width="1.1" />
<line x1="67.6" y1="347.42" x2="70.8" y2="347.42" stroke="#b01038" stroke-width="1.1" />
<circle cx="69.2" cy="341.87" r="1.45" fill="#b01038"/>
<circle cx="66.9" cy="353.48" r="1.45" fill="#b01038"/>
<circle cx="70.6" cy="355" r="1.45" fill="#b01038"/>
<circle cx="69.2" cy="372.17" r="1.45" fill="#b01038"/>
<circle cx="69.2" cy="376.21" r="1.45" fill="#b01038"/>
<circle cx="69.2" cy="380.75" r="1.45" fill="#b01038"/>
<line x1="66.3" y1="363.08" x2="72.1" y2="363.08" stroke="#111" stroke-width="1.3" />
<ellipse cx="77.3" cy="387.82" rx="2.9" ry="1.5" fill="#cccccc"/>
<line x1="85.6" y1="379.75" x2="85.6" y2="346.92" stroke="#8282d4" stroke-width="0.9" />
<line x1="84" y1="379.75" x2="87.2" y2="379.75" stroke="#8282d4" stroke-width="1.1" />
<line x1="84" y1="346.92" x2="87.2" y2="346.92" stroke="#8282d4" stroke-width="1.1" />
<circle cx="85.6" cy="331.26" r="1.45" fill="#8282d4"/>
<circle cx="85.6" cy="366.61" r="1.45" fill="#8282d4"/>
<circle cx="83.7" cy="370.65" r="1.45" fill="#8282d4"/>
<circle cx="87.1" cy="372.17" r="1.45" fill="#8282d4"/>
<circle cx="85.6" cy="377.22" r="1.45" fill="#8282d4"/>
<line x1="82.7" y1="363.08" x2="88.5" y2="363.08" stroke="#111" stroke-width="1.3" />
<text x="14.3" y="344" font-size="8.8" text-anchor="middle" textLength="88" lengthAdjust="spacingAndGlyphs" transform="rotate(-90 14.3 344)">PD-L1 (M.F.I) of GFP+ cells</text>
<text x="46.5" y="404.2" font-size="8.7" text-anchor="end" textLength="22" lengthAdjust="spacingAndGlyphs" transform="rotate(-45 46.5 404.2)">vector</text>
<text x="64.5" y="404.2" font-size="8.7" text-anchor="end" textLength="52" lengthAdjust="spacingAndGlyphs" transform="rotate(-45 64.5 404.2)">MyD88-L265P</text>
<text x="81" y="404.2" font-size="8.7" text-anchor="end" textLength="55" lengthAdjust="spacingAndGlyphs" transform="rotate(-45 81 404.2)">CARD11-L244P</text>
<text x="65.4" y="289.6" font-size="9.2" text-anchor="middle" textLength="16.2" lengthAdjust="spacingAndGlyphs">ctrl.</text>
<line x1="138.6" y1="292" x2="138.6" y2="395.4" stroke="#111" stroke-width="1.3" />
<line x1="135.8" y1="395.4" x2="138.6" y2="395.4" stroke="#111" stroke-width="1.1" />
<text x="134.4" y="398.3" font-size="8.6" text-anchor="end">0</text>
<line x1="135.8" y1="375.2" x2="138.6" y2="375.2" stroke="#111" stroke-width="1.1" />
<text x="134.4" y="378.1" font-size="8.6" text-anchor="end">20</text>
<line x1="135.8" y1="355" x2="138.6" y2="355" stroke="#111" stroke-width="1.1" />
<text x="134.4" y="357.9" font-size="8.6" text-anchor="end">40</text>
<line x1="135.8" y1="334.8" x2="138.6" y2="334.8" stroke="#111" stroke-width="1.1" />
<text x="134.4" y="337.7" font-size="8.6" text-anchor="end">60</text>
<line x1="135.8" y1="314.6" x2="138.6" y2="314.6" stroke="#111" stroke-width="1.1" />
<text x="134.4" y="317.5" font-size="8.6" text-anchor="end">80</text>
<line x1="135.8" y1="294.4" x2="138.6" y2="294.4" stroke="#111" stroke-width="1.1" />
<text x="134.4" y="297.3" font-size="8.6" text-anchor="end">100</text>
<line x1="138.6" y1="395.4" x2="190" y2="395.4" stroke="#111" stroke-width="1.3" />
<line x1="143.3" y1="395.4" x2="143.3" y2="398.4" stroke="#111" stroke-width="1.1" />
<line x1="151.5" y1="395.4" x2="151.5" y2="398.4" stroke="#111" stroke-width="1.1" />
<line x1="160" y1="395.4" x2="160" y2="398.4" stroke="#111" stroke-width="1.1" />
<line x1="168.3" y1="395.4" x2="168.3" y2="398.4" stroke="#111" stroke-width="1.1" />
<line x1="176.5" y1="395.4" x2="176.5" y2="398.4" stroke="#111" stroke-width="1.1" />
<line x1="185" y1="395.4" x2="185" y2="398.4" stroke="#111" stroke-width="1.1" />
<path d="M150 306V300.2H182.3V306" fill="none" stroke="#111" stroke-width="0.9"/>
<circle cx="166.3" cy="297" r="1.1" fill="#111"/>
<path d="M150 314.6V309.4H169.6V314.6" fill="none" stroke="#111" stroke-width="0.9"/>
<circle cx="159.6" cy="305.2" r="1.1" fill="#111"/>
<ellipse cx="143.3" cy="391.36" rx="2.9" ry="1.5" fill="#cccccc"/>
<line x1="151.5" y1="391.86" x2="151.5" y2="385.3" stroke="#1e3f82" stroke-width="1.2" />
<line x1="149.9" y1="391.86" x2="153.1" y2="391.86" stroke="#1e3f82" stroke-width="1.1" />
<line x1="149.9" y1="385.3" x2="153.1" y2="385.3" stroke="#1e3f82" stroke-width="1.1" />
<circle cx="151.5" cy="384.79" r="1.45" fill="#1e3f82"/>
<circle cx="151.5" cy="387.32" r="1.45" fill="#1e3f82"/>
<circle cx="151.5" cy="389.34" r="1.45" fill="#1e3f82"/>
<circle cx="151.5" cy="390.85" r="1.45" fill="#1e3f82"/>
<line x1="148.6" y1="388.83" x2="154.4" y2="388.83" stroke="#111" stroke-width="1.3" />
<ellipse cx="160" cy="391.36" rx="2.9" ry="1.5" fill="#cccccc"/>
<line x1="168.3" y1="383.28" x2="168.3" y2="377.22" stroke="#b01038" stroke-width="1.2" />
<line x1="166.7" y1="383.28" x2="169.9" y2="383.28" stroke="#b01038" stroke-width="1.1" />
<line x1="166.7" y1="377.22" x2="169.9" y2="377.22" stroke="#b01038" stroke-width="1.1" />
<circle cx="168.3" cy="377.22" r="1.45" fill="#b01038"/>
<circle cx="168.3" cy="379.24" r="1.45" fill="#b01038"/>
<circle cx="168.3" cy="381.26" r="1.45" fill="#b01038"/>
<circle cx="168.3" cy="383.28" r="1.45" fill="#b01038"/>
<line x1="165.4" y1="380.25" x2="171.2" y2="380.25" stroke="#111" stroke-width="1.3" />
<ellipse cx="176.5" cy="390.35" rx="2.9" ry="1.5" fill="#cccccc"/>
<line x1="185" y1="389.34" x2="185" y2="376.21" stroke="#8282d4" stroke-width="0.9" />
<line x1="183.4" y1="389.34" x2="186.6" y2="389.34" stroke="#8282d4" stroke-width="1.1" />
<line x1="183.4" y1="376.21" x2="186.6" y2="376.21" stroke="#8282d4" stroke-width="1.1" />
<circle cx="185" cy="370.65" r="1.45" fill="#8282d4"/>
<circle cx="185" cy="382.27" r="1.45" fill="#8282d4"/>
<circle cx="185" cy="385.3" r="1.45" fill="#8282d4"/>
<circle cx="185" cy="388.33" r="1.45" fill="#8282d4"/>
<line x1="182.1" y1="382.77" x2="187.9" y2="382.77" stroke="#111" stroke-width="1.3" />
<text x="113.7" y="344" font-size="8.8" text-anchor="middle" textLength="88" lengthAdjust="spacingAndGlyphs" transform="rotate(-90 113.7 344)">PD-L2 (M.F.I) of GFP+ cells</text>
<text x="146.7" y="404.5" font-size="8.7" text-anchor="end" textLength="22" lengthAdjust="spacingAndGlyphs" transform="rotate(-45 146.7 404.5)">vector</text>
<text x="164.7" y="404.5" font-size="8.7" text-anchor="end" textLength="52" lengthAdjust="spacingAndGlyphs" transform="rotate(-45 164.7 404.5)">MyD88-L265P</text>
<text x="181.2" y="404.5" font-size="8.7" text-anchor="end" textLength="55" lengthAdjust="spacingAndGlyphs" transform="rotate(-45 181.2 404.5)">CARD11-L244P</text>
<text x="164.45" y="289.6" font-size="9.2" text-anchor="middle" textLength="16.5" lengthAdjust="spacingAndGlyphs">ctrl.</text>
<line x1="238.1" y1="291.2" x2="238.1" y2="394.8" stroke="#111" stroke-width="1.3" />
<line x1="235.3" y1="394.8" x2="238.1" y2="394.8" stroke="#111" stroke-width="1.1" />
<text x="232.8" y="397.7" font-size="8.6" text-anchor="end">5</text>
<line x1="235.3" y1="377.9" x2="238.1" y2="377.9" stroke="#111" stroke-width="1.1" />
<text x="232.8" y="380.8" font-size="8.6" text-anchor="end">10</text>
<line x1="235.3" y1="361" x2="238.1" y2="361" stroke="#111" stroke-width="1.1" />
<text x="232.8" y="363.9" font-size="8.6" text-anchor="end">15</text>
<line x1="235.3" y1="344.1" x2="238.1" y2="344.1" stroke="#111" stroke-width="1.1" />
<text x="232.8" y="347" font-size="8.6" text-anchor="end">20</text>
<line x1="235.3" y1="327.2" x2="238.1" y2="327.2" stroke="#111" stroke-width="1.1" />
<text x="232.8" y="330.1" font-size="8.6" text-anchor="end">25</text>
<line x1="235.3" y1="310.3" x2="238.1" y2="310.3" stroke="#111" stroke-width="1.1" />
<text x="232.8" y="313.2" font-size="8.6" text-anchor="end">30</text>
<line x1="235.3" y1="293.4" x2="238.1" y2="293.4" stroke="#111" stroke-width="1.1" />
<text x="232.8" y="296.3" font-size="8.6" text-anchor="end">35</text>
<line x1="238.1" y1="394.8" x2="288.8" y2="394.8" stroke="#111" stroke-width="1.3" />
<line x1="241.7" y1="394.8" x2="241.7" y2="397.8" stroke="#111" stroke-width="1.1" />
<line x1="247.9" y1="394.8" x2="247.9" y2="397.8" stroke="#111" stroke-width="1.1" />
<line x1="254" y1="394.8" x2="254" y2="397.8" stroke="#111" stroke-width="1.1" />
<line x1="260.2" y1="394.8" x2="260.2" y2="397.8" stroke="#111" stroke-width="1.1" />
<line x1="266.5" y1="394.8" x2="266.5" y2="397.8" stroke="#111" stroke-width="1.1" />
<line x1="273" y1="394.8" x2="273" y2="397.8" stroke="#111" stroke-width="1.1" />
<line x1="279.1" y1="394.8" x2="279.1" y2="397.8" stroke="#111" stroke-width="1.1" />
<line x1="285.6" y1="394.8" x2="285.6" y2="397.8" stroke="#111" stroke-width="1.1" />
<line x1="263" y1="296.5" x2="263" y2="394.8" stroke="#000" stroke-width="1.3" stroke-dasharray="1.9 2.3"/>
<path d="M244 304.9V299.6H261V304.9" fill="none" stroke="#111" stroke-width="0.9"/>
<circle cx="252.5" cy="296.4" r="1.1" fill="#111"/>
<path d="M270.4 304.9V299.6H286.7V304.9" fill="none" stroke="#111" stroke-width="0.9"/>
<circle cx="278.7" cy="296.4" r="1.1" fill="#111"/>
<line x1="241.7" y1="377.9" x2="241.7" y2="371.14" stroke="#aaa" stroke-width="1.2" />
<line x1="240.1" y1="377.9" x2="243.3" y2="377.9" stroke="#aaa" stroke-width="1.1" />
<line x1="240.1" y1="371.14" x2="243.3" y2="371.14" stroke="#aaa" stroke-width="1.1" />
<path d="M241.7 373.16l1.7 1.7l-1.7 1.7l-1.7 -1.7z" fill="none" stroke="#aaa" stroke-width="0.8"/>
<circle cx="246.1" cy="349.51" r="1.45" fill="#1e3f82"/>
<circle cx="247.9" cy="351.54" r="1.45" fill="#1e3f82"/>
<circle cx="249.3" cy="354.24" r="1.45" fill="#1e3f82"/>
<circle cx="248.5" cy="355.59" r="1.45" fill="#1e3f82"/>
<circle cx="246.7" cy="356.94" r="1.45" fill="#1e3f82"/>
<line x1="245" y1="353.23" x2="250.8" y2="353.23" stroke="#111" stroke-width="1.3" />
<line x1="254" y1="377.9" x2="254" y2="371.14" stroke="#aaa" stroke-width="1.2" />
<line x1="252.4" y1="377.9" x2="255.6" y2="377.9" stroke="#aaa" stroke-width="1.1" />
<line x1="252.4" y1="371.14" x2="255.6" y2="371.14" stroke="#aaa" stroke-width="1.1" />
<path d="M254 373.16l1.7 1.7l-1.7 1.7l-1.7 -1.7z" fill="none" stroke="#aaa" stroke-width="0.8"/>
<line x1="260.2" y1="338.35" x2="260.2" y2="308.95" stroke="#b01038" stroke-width="1.2" />
<line x1="258.6" y1="338.35" x2="261.8" y2="338.35" stroke="#b01038" stroke-width="1.1" />
<line x1="258.6" y1="308.95" x2="261.8" y2="308.95" stroke="#b01038" stroke-width="1.1" />
<circle cx="260.2" cy="308.95" r="1.45" fill="#b01038"/>
<circle cx="260.2" cy="316.38" r="1.45" fill="#b01038"/>
<circle cx="260.2" cy="323.82" r="1.45" fill="#b01038"/>
<circle cx="260.2" cy="344.78" r="1.45" fill="#b01038"/>
<line x1="257.3" y1="323.82" x2="263.1" y2="323.82" stroke="#111" stroke-width="1.3" />
<path d="M266.5 368.76l1.7 1.7l-1.7 1.7l-1.7 -1.7z" fill="none" stroke="#aaa" stroke-width="0.8"/>
<path d="M266.5 371.13l1.7 1.7l-1.7 1.7l-1.7 -1.7z" fill="none" stroke="#aaa" stroke-width="0.8"/>
<path d="M266.5 372.82l1.7 1.7l-1.7 1.7l-1.7 -1.7z" fill="none" stroke="#aaa" stroke-width="0.8"/>
<line x1="263.6" y1="371.14" x2="269.4" y2="371.14" stroke="#111" stroke-width="1.3" />
<circle cx="273" cy="350.52" r="1.45" fill="#1e3f82"/>
<circle cx="273" cy="352.89" r="1.45" fill="#1e3f82"/>
<line x1="270.1" y1="352.21" x2="275.9" y2="352.21" stroke="#111" stroke-width="1.3" />
<path d="M279.1 372.48l1.7 1.7l-1.7 1.7l-1.7 -1.7z" fill="none" stroke="#aaa" stroke-width="0.8"/>
<line x1="285.6" y1="345.79" x2="285.6" y2="323.82" stroke="#8282d4" stroke-width="0.9" />
<line x1="284" y1="345.79" x2="287.2" y2="345.79" stroke="#8282d4" stroke-width="1.1" />
<line x1="284" y1="323.82" x2="287.2" y2="323.82" stroke="#8282d4" stroke-width="1.1" />
<circle cx="285.6" cy="323.82" r="1.45" fill="#8282d4"/>
<circle cx="285.6" cy="334.3" r="1.45" fill="#8282d4"/>
<circle cx="285.6" cy="345.79" r="1.45" fill="#8282d4"/>
<line x1="282.7" y1="334.3" x2="288.5" y2="334.3" stroke="#111" stroke-width="1.3" />
<text x="212.8" y="344" font-size="8.8" text-anchor="middle" textLength="99" lengthAdjust="spacingAndGlyphs" transform="rotate(-90 212.8 344)">PD-L1 (M.F.I) on macrophages</text>
<text x="245.4" y="404.7" font-size="8.7" text-anchor="end" textLength="22" lengthAdjust="spacingAndGlyphs" transform="rotate(-45 245.4 404.7)">vector</text>
<text x="257.7" y="404.7" font-size="8.7" text-anchor="end" textLength="52" lengthAdjust="spacingAndGlyphs" transform="rotate(-45 257.7 404.7)">MyD88-L265P</text>
<text x="269.1" y="404.7" font-size="8.7" text-anchor="end" textLength="43" lengthAdjust="spacingAndGlyphs" transform="rotate(-45 269.1 404.7)">vector;suv-/-</text>
<text x="282.4" y="404.7" font-size="8.7" text-anchor="end" textLength="79" lengthAdjust="spacingAndGlyphs" transform="rotate(-45 282.4 404.7)">CARD11-L244P;suv-/-</text>
<line x1="337.2" y1="291.2" x2="337.2" y2="394.8" stroke="#111" stroke-width="1.3" />
<line x1="334.4" y1="394.8" x2="337.2" y2="394.8" stroke="#111" stroke-width="1.1" />
<text x="331.7" y="397.7" font-size="8.6" text-anchor="end">5</text>
<line x1="334.4" y1="377.9" x2="337.2" y2="377.9" stroke="#111" stroke-width="1.1" />
<text x="331.7" y="380.8" font-size="8.6" text-anchor="end">10</text>
<line x1="334.4" y1="361" x2="337.2" y2="361" stroke="#111" stroke-width="1.1" />
<text x="331.7" y="363.9" font-size="8.6" text-anchor="end">15</text>
<line x1="334.4" y1="344.1" x2="337.2" y2="344.1" stroke="#111" stroke-width="1.1" />
<text x="331.7" y="347" font-size="8.6" text-anchor="end">20</text>
<line x1="334.4" y1="327.2" x2="337.2" y2="327.2" stroke="#111" stroke-width="1.1" />
<text x="331.7" y="330.1" font-size="8.6" text-anchor="end">25</text>
<line x1="334.4" y1="310.3" x2="337.2" y2="310.3" stroke="#111" stroke-width="1.1" />
<text x="331.7" y="313.2" font-size="8.6" text-anchor="end">30</text>
<line x1="334.4" y1="293.4" x2="337.2" y2="293.4" stroke="#111" stroke-width="1.1" />
<text x="331.7" y="296.3" font-size="8.6" text-anchor="end">35</text>
<line x1="337.2" y1="394.8" x2="387.8" y2="394.8" stroke="#111" stroke-width="1.3" />
<line x1="340.2" y1="394.8" x2="340.2" y2="397.8" stroke="#111" stroke-width="1.1" />
<line x1="346.5" y1="394.8" x2="346.5" y2="397.8" stroke="#111" stroke-width="1.1" />
<line x1="352.9" y1="394.8" x2="352.9" y2="397.8" stroke="#111" stroke-width="1.1" />
<line x1="359.2" y1="394.8" x2="359.2" y2="397.8" stroke="#111" stroke-width="1.1" />
<line x1="365.6" y1="394.8" x2="365.6" y2="397.8" stroke="#111" stroke-width="1.1" />
<line x1="372" y1="394.8" x2="372" y2="397.8" stroke="#111" stroke-width="1.1" />
<line x1="378.3" y1="394.8" x2="378.3" y2="397.8" stroke="#111" stroke-width="1.1" />
<line x1="384.6" y1="394.8" x2="384.6" y2="397.8" stroke="#111" stroke-width="1.1" />
<line x1="362.4" y1="296.5" x2="362.4" y2="394.8" stroke="#000" stroke-width="1.3" stroke-dasharray="1.9 2.3"/>
<path d="M344 308.5V302.8H360.3V308.5" fill="none" stroke="#111" stroke-width="0.9"/>
<text x="351.8" y="300.9" font-size="8" text-anchor="middle" textLength="7.6" lengthAdjust="spacingAndGlyphs">ns</text>
<path d="M369.8 308.5V302.8H385.7V308.5" fill="none" stroke="#111" stroke-width="0.9"/>
<text x="377.8" y="300.9" font-size="8" text-anchor="middle" textLength="7.6" lengthAdjust="spacingAndGlyphs">ns</text>
<line x1="340.2" y1="377.9" x2="340.2" y2="371.14" stroke="#aaa" stroke-width="1.2" />
<line x1="338.6" y1="377.9" x2="341.8" y2="377.9" stroke="#aaa" stroke-width="1.1" />
<line x1="338.6" y1="371.14" x2="341.8" y2="371.14" stroke="#aaa" stroke-width="1.1" />
<path d="M340.2 373.5l1.7 1.7l-1.7 1.7l-1.7 -1.7z" fill="none" stroke="#aaa" stroke-width="0.8"/>
<line x1="346.5" y1="371.82" x2="346.5" y2="361" stroke="#1e3f82" stroke-width="1.2" />
<line x1="344.9" y1="371.82" x2="348.1" y2="371.82" stroke="#1e3f82" stroke-width="1.1" />
<line x1="344.9" y1="361" x2="348.1" y2="361" stroke="#1e3f82" stroke-width="1.1" />
<circle cx="346.5" cy="360.32" r="1.45" fill="#1e3f82"/>
<circle cx="346.5" cy="367.76" r="1.45" fill="#1e3f82"/>
<circle cx="346.5" cy="371.14" r="1.45" fill="#1e3f82"/>
<circle cx="346.5" cy="371.82" r="1.45" fill="#1e3f82"/>
<line x1="343.6" y1="368.44" x2="349.4" y2="368.44" stroke="#111" stroke-width="1.3" />
<line x1="352.9" y1="377.9" x2="352.9" y2="371.14" stroke="#aaa" stroke-width="1.2" />
<line x1="351.3" y1="377.9" x2="354.5" y2="377.9" stroke="#aaa" stroke-width="1.1" />
<line x1="351.3" y1="371.14" x2="354.5" y2="371.14" stroke="#aaa" stroke-width="1.1" />
<path d="M352.9 372.82l1.7 1.7l-1.7 1.7l-1.7 -1.7z" fill="none" stroke="#aaa" stroke-width="0.8"/>
<circle cx="359.2" cy="364.38" r="1.45" fill="#b01038"/>
<circle cx="359.2" cy="367.08" r="1.45" fill="#b01038"/>
<circle cx="359.2" cy="368.44" r="1.45" fill="#b01038"/>
<circle cx="359.2" cy="369.45" r="1.45" fill="#b01038"/>
<line x1="356.3" y1="367.76" x2="362.1" y2="367.76" stroke="#111" stroke-width="1.3" />
<path d="M365.6 370.12l1.7 1.7l-1.7 1.7l-1.7 -1.7z" fill="none" stroke="#aaa" stroke-width="0.8"/>
<path d="M365.6 371.13l1.7 1.7l-1.7 1.7l-1.7 -1.7z" fill="none" stroke="#aaa" stroke-width="0.8"/>
<path d="M365.6 372.82l1.7 1.7l-1.7 1.7l-1.7 -1.7z" fill="none" stroke="#aaa" stroke-width="0.8"/>
<line x1="362.7" y1="371.82" x2="368.5" y2="371.82" stroke="#111" stroke-width="1.3" />
<circle cx="372" cy="364.38" r="1.45" fill="#1e3f82"/>
<circle cx="372" cy="365.73" r="1.45" fill="#1e3f82"/>
<line x1="369.1" y1="365.06" x2="374.9" y2="365.06" stroke="#111" stroke-width="1.3" />
<path d="M378.3 372.82l1.7 1.7l-1.7 1.7l-1.7 -1.7z" fill="none" stroke="#aaa" stroke-width="0.8"/>
<circle cx="384.6" cy="364.38" r="1.45" fill="#8282d4"/>
<circle cx="384.6" cy="366.07" r="1.45" fill="#8282d4"/>
<circle cx="384.6" cy="367.76" r="1.45" fill="#8282d4"/>
<line x1="381.7" y1="366.75" x2="387.5" y2="366.75" stroke="#111" stroke-width="1.3" />
<text x="312.5" y="344" font-size="8.8" text-anchor="middle" textLength="99" lengthAdjust="spacingAndGlyphs" transform="rotate(-90 312.5 344)">PD-L2 (M.F.I) on macrophages</text>
<text x="343.7" y="404.7" font-size="8.7" text-anchor="end" textLength="22" lengthAdjust="spacingAndGlyphs" transform="rotate(-45 343.7 404.7)">vector</text>
<text x="356.2" y="404.7" font-size="8.7" text-anchor="end" textLength="52" lengthAdjust="spacingAndGlyphs" transform="rotate(-45 356.2 404.7)">MyD88-L265P</text>
<text x="367.7" y="404.7" font-size="8.7" text-anchor="end" textLength="43" lengthAdjust="spacingAndGlyphs" transform="rotate(-45 367.7 404.7)">vector;suv-/-</text>
<text x="380.7" y="404.7" font-size="8.7" text-anchor="end" textLength="79" lengthAdjust="spacingAndGlyphs" transform="rotate(-45 380.7 404.7)">CARD11-L244P;suv-/-</text>
<line x1="431.2" y1="292" x2="431.2" y2="395.3" stroke="#111" stroke-width="1.3" />
<line x1="428.4" y1="395.3" x2="431.2" y2="395.3" stroke="#111" stroke-width="1.1" />
<text x="426.5" y="398.2" font-size="8.5" text-anchor="end">0</text>
<line x1="428.4" y1="375" x2="431.2" y2="375" stroke="#111" stroke-width="1.1" />
<text x="426.5" y="377.9" font-size="8.5" text-anchor="end">5</text>
<line x1="428.4" y1="354.7" x2="431.2" y2="354.7" stroke="#111" stroke-width="1.1" />
<text x="426.5" y="357.6" font-size="8.5" text-anchor="end">10</text>
<line x1="428.4" y1="334.4" x2="431.2" y2="334.4" stroke="#111" stroke-width="1.1" />
<text x="426.5" y="337.3" font-size="8.5" text-anchor="end">15</text>
<line x1="428.4" y1="314.1" x2="431.2" y2="314.1" stroke="#111" stroke-width="1.1" />
<text x="426.5" y="317" font-size="8.5" text-anchor="end">20</text>
<line x1="428.4" y1="293.8" x2="431.2" y2="293.8" stroke="#111" stroke-width="1.1" />
<text x="426.5" y="296.7" font-size="8.5" text-anchor="end">25</text>
<line x1="431.2" y1="395.3" x2="482.6" y2="395.3" stroke="#111" stroke-width="1.3" />
<line x1="438.8" y1="395.3" x2="438.8" y2="398.3" stroke="#111" stroke-width="1.1" />
<line x1="451.2" y1="395.3" x2="451.2" y2="398.3" stroke="#111" stroke-width="1.1" />
<line x1="463.5" y1="395.3" x2="463.5" y2="398.3" stroke="#111" stroke-width="1.1" />
<line x1="475.7" y1="395.3" x2="475.7" y2="398.3" stroke="#111" stroke-width="1.1" />
<line x1="457.2" y1="295.4" x2="457.2" y2="395.3" stroke="#000" stroke-width="1.3" stroke-dasharray="1.9 2.3"/>
<path d="M436.5 308V302.3H452V308" fill="none" stroke="#111" stroke-width="0.9"/>
<circle cx="444.3" cy="298.8" r="1.1" fill="#111"/>
<path d="M461.8 308V302.3H476.8V308" fill="none" stroke="#111" stroke-width="0.9"/>
<circle cx="469.2" cy="298.8" r="1.1" fill="#111"/>
<line x1="438.8" y1="387.18" x2="438.8" y2="379.06" stroke="#1e3f82" stroke-width="1.2" />
<line x1="437.2" y1="387.18" x2="440.4" y2="387.18" stroke="#1e3f82" stroke-width="1.1" />
<line x1="437.2" y1="379.06" x2="440.4" y2="379.06" stroke="#1e3f82" stroke-width="1.1" />
<circle cx="438.8" cy="379.87" r="1.45" fill="#1e3f82"/>
<circle cx="437.2" cy="381.9" r="1.45" fill="#1e3f82"/>
<circle cx="440.4" cy="383.93" r="1.45" fill="#1e3f82"/>
<circle cx="438.3" cy="385.15" r="1.45" fill="#1e3f82"/>
<circle cx="438.8" cy="389.21" r="1.45" fill="#1e3f82"/>
<line x1="435.9" y1="383.12" x2="441.7" y2="383.12" stroke="#111" stroke-width="1.3" />
<line x1="451.2" y1="370.94" x2="451.2" y2="324.25" stroke="#b01038" stroke-width="1.2" />
<line x1="449.6" y1="370.94" x2="452.8" y2="370.94" stroke="#b01038" stroke-width="1.1" />
<line x1="449.6" y1="324.25" x2="452.8" y2="324.25" stroke="#b01038" stroke-width="1.1" />
<circle cx="451.2" cy="311.26" r="1.45" fill="#b01038"/>
<circle cx="451.2" cy="336.43" r="1.45" fill="#b01038"/>
<circle cx="451.2" cy="358.76" r="1.45" fill="#b01038"/>
<circle cx="451.2" cy="362.82" r="1.45" fill="#b01038"/>
<circle cx="451.2" cy="370.94" r="1.45" fill="#b01038"/>
<line x1="448.3" y1="347.39" x2="454.1" y2="347.39" stroke="#111" stroke-width="1.3" />
<line x1="463.5" y1="392.86" x2="463.5" y2="383.93" stroke="#1e3f82" stroke-width="1.2" />
<line x1="461.9" y1="392.86" x2="465.1" y2="392.86" stroke="#1e3f82" stroke-width="1.1" />
<line x1="461.9" y1="383.93" x2="465.1" y2="383.93" stroke="#1e3f82" stroke-width="1.1" />
<circle cx="463.5" cy="383.93" r="1.45" fill="#1e3f82"/>
<circle cx="465" cy="389.21" r="1.45" fill="#1e3f82"/>
<circle cx="462.3" cy="390.43" r="1.45" fill="#1e3f82"/>
<line x1="460.6" y1="387.99" x2="466.4" y2="387.99" stroke="#111" stroke-width="1.3" />
<line x1="475.7" y1="375" x2="475.7" y2="359.98" stroke="#8282d4" stroke-width="0.9" />
<line x1="474.1" y1="375" x2="477.3" y2="375" stroke="#8282d4" stroke-width="1.1" />
<line x1="474.1" y1="359.98" x2="477.3" y2="359.98" stroke="#8282d4" stroke-width="1.1" />
<circle cx="475.7" cy="359.98" r="1.45" fill="#8282d4"/>
<circle cx="475.7" cy="375" r="1.45" fill="#8282d4"/>
<line x1="472.8" y1="366.88" x2="478.6" y2="366.88" stroke="#111" stroke-width="1.3" />
<text x="412.5" y="349" font-size="8.8" text-anchor="middle" textLength="75" lengthAdjust="spacingAndGlyphs" transform="rotate(-90 412.5 349)">%PD1+ of CD3+ cells</text>
<text x="442.5" y="405.5" font-size="8.7" text-anchor="end" textLength="22" lengthAdjust="spacingAndGlyphs" transform="rotate(-45 442.5 405.5)">vector</text>
<text x="454.5" y="405.5" font-size="8.7" text-anchor="end" textLength="51" lengthAdjust="spacingAndGlyphs" transform="rotate(-45 454.5 405.5)">MyD88-L265P</text>
<text x="466.7" y="405.5" font-size="8.7" text-anchor="end" textLength="61" lengthAdjust="spacingAndGlyphs" transform="rotate(-45 466.7 405.5)">vector;suv39h1-/-</text>
<text x="479.5" y="405.5" font-size="8.7" text-anchor="end" textLength="96" lengthAdjust="spacingAndGlyphs" transform="rotate(-45 479.5 405.5)">CARD11-L244P;suv39h1-/-</text>
<line x1="35.2" y1="492.1" x2="35.2" y2="592.2" stroke="#111" stroke-width="1.3" />
<line x1="32.4" y1="592.2" x2="35.2" y2="592.2" stroke="#111" stroke-width="1.1" />
<text x="28.8" y="595.1" font-size="8" text-anchor="end">0</text>
<line x1="32.4" y1="569.8" x2="35.2" y2="569.8" stroke="#111" stroke-width="1.1" />
<text x="28.8" y="572.7" font-size="8" text-anchor="end">20</text>
<line x1="32.4" y1="547.4" x2="35.2" y2="547.4" stroke="#111" stroke-width="1.1" />
<text x="28.8" y="550.3" font-size="8" text-anchor="end">40</text>
<line x1="32.4" y1="525" x2="35.2" y2="525" stroke="#111" stroke-width="1.1" />
<text x="28.8" y="527.9" font-size="8" text-anchor="end">60</text>
<line x1="32.4" y1="502.6" x2="35.2" y2="502.6" stroke="#111" stroke-width="1.1" />
<text x="28.8" y="505.5" font-size="8" text-anchor="end">80</text>
<line x1="35.2" y1="592.2" x2="92.9" y2="592.2" stroke="#111" stroke-width="1.3" />
<line x1="43.3" y1="592.2" x2="43.3" y2="595.2" stroke="#111" stroke-width="1.1" />
<line x1="57.1" y1="592.2" x2="57.1" y2="595.2" stroke="#111" stroke-width="1.1" />
<line x1="71.2" y1="592.2" x2="71.2" y2="595.2" stroke="#111" stroke-width="1.1" />
<line x1="84.6" y1="592.2" x2="84.6" y2="595.2" stroke="#111" stroke-width="1.1" />
<line x1="64" y1="473" x2="64" y2="592.2" stroke="#000" stroke-width="1.3" stroke-dasharray="1.9 2.3"/>
<path d="M56.3 506.5V500.8H84V506.5" fill="none" stroke="#111" stroke-width="0.9"/>
<text x="70.2" y="498.3" font-size="8" text-anchor="middle" textLength="7.6" lengthAdjust="spacingAndGlyphs">ns</text>
<line x1="43.3" y1="576.52" x2="43.3" y2="567.56" stroke="#c8c8c8" stroke-width="1.2" />
<line x1="41.7" y1="576.52" x2="44.9" y2="576.52" stroke="#c8c8c8" stroke-width="1.1" />
<line x1="41.7" y1="567.56" x2="44.9" y2="567.56" stroke="#c8c8c8" stroke-width="1.1" />
<circle cx="43.3" cy="566.44" r="1.45" fill="#c8c8c8"/>
<circle cx="43.3" cy="569.8" r="1.45" fill="#c8c8c8"/>
<circle cx="43.3" cy="572.04" r="1.45" fill="#c8c8c8"/>
<circle cx="43.3" cy="575.4" r="1.45" fill="#c8c8c8"/>
<circle cx="43.3" cy="576.52" r="1.45" fill="#c8c8c8"/>
<line x1="40.4" y1="572.04" x2="46.2" y2="572.04" stroke="#111" stroke-width="1.3" />
<line x1="57.1" y1="553" x2="57.1" y2="530.6" stroke="#b01038" stroke-width="1.2" />
<line x1="55.5" y1="553" x2="58.7" y2="553" stroke="#b01038" stroke-width="1.1" />
<line x1="55.5" y1="530.6" x2="58.7" y2="530.6" stroke="#b01038" stroke-width="1.1" />
<circle cx="57.1" cy="530.6" r="1.45" fill="#b01038"/>
<circle cx="57.1" cy="536.2" r="1.45" fill="#b01038"/>
<circle cx="57.1" cy="544.04" r="1.45" fill="#b01038"/>
<circle cx="58.6" cy="551.88" r="1.45" fill="#b01038"/>
<circle cx="55.6" cy="553" r="1.45" fill="#b01038"/>
<line x1="54.2" y1="542.92" x2="60" y2="542.92" stroke="#111" stroke-width="1.3" />
<line x1="71.2" y1="576.52" x2="71.2" y2="567.56" stroke="#c8c8c8" stroke-width="1.2" />
<line x1="69.6" y1="576.52" x2="72.8" y2="576.52" stroke="#c8c8c8" stroke-width="1.1" />
<line x1="69.6" y1="567.56" x2="72.8" y2="567.56" stroke="#c8c8c8" stroke-width="1.1" />
<circle cx="71.2" cy="565.32" r="1.45" fill="#c8c8c8"/>
<circle cx="71.2" cy="569.8" r="1.45" fill="#c8c8c8"/>
<circle cx="71.2" cy="572.04" r="1.45" fill="#c8c8c8"/>
<circle cx="71.2" cy="575.4" r="1.45" fill="#c8c8c8"/>
<circle cx="71.2" cy="576.52" r="1.45" fill="#c8c8c8"/>
<line x1="68.3" y1="572.04" x2="74.1" y2="572.04" stroke="#111" stroke-width="1.3" />
<line x1="84.6" y1="549.64" x2="84.6" y2="529.48" stroke="#b01038" stroke-width="1.2" />
<line x1="83" y1="549.64" x2="86.2" y2="549.64" stroke="#b01038" stroke-width="1.1" />
<line x1="83" y1="529.48" x2="86.2" y2="529.48" stroke="#b01038" stroke-width="1.1" />
<circle cx="84.6" cy="528.36" r="1.45" fill="#b01038"/>
<circle cx="84.6" cy="533.96" r="1.45" fill="#b01038"/>
<circle cx="84.6" cy="541.8" r="1.45" fill="#b01038"/>
<circle cx="84.6" cy="553" r="1.45" fill="#b01038"/>
<line x1="81.7" y1="539.56" x2="87.5" y2="539.56" stroke="#111" stroke-width="1.3" />
<text x="14.6" y="541.6" font-size="8.8" text-anchor="middle" textLength="18.3" lengthAdjust="spacingAndGlyphs" transform="rotate(-90 14.6 541.6)">M.F.I.</text>
<text x="46.7" y="601.2" font-size="8.7" text-anchor="end" textLength="11" lengthAdjust="spacingAndGlyphs" transform="rotate(-45 46.7 601.2)">iso</text>
<text x="59.7" y="601.2" font-size="8.7" text-anchor="end" textLength="20" lengthAdjust="spacingAndGlyphs" transform="rotate(-45 59.7 601.2)">PDL1</text>
<text x="73.9" y="601.2" font-size="8.7" text-anchor="end" textLength="11" lengthAdjust="spacingAndGlyphs" transform="rotate(-45 73.9 601.2)">iso</text>
<text x="87.5" y="601.2" font-size="8.7" text-anchor="end" textLength="20" lengthAdjust="spacingAndGlyphs" transform="rotate(-45 87.5 601.2)">PDL1</text>
<text x="48.3" y="485.1" font-size="9.2" text-anchor="middle" textLength="24" lengthAdjust="spacingAndGlyphs">Ki67+</text>
<text x="79.35" y="485.1" font-size="9.2" text-anchor="middle" textLength="22.1" lengthAdjust="spacingAndGlyphs">Ki67-</text>
<line x1="116.2" y1="492" x2="116.2" y2="592.2" stroke="#111" stroke-width="1.3" />
<line x1="113.4" y1="592.2" x2="116.2" y2="592.2" stroke="#111" stroke-width="1.1" />
<text x="110.4" y="595.1" font-size="8" text-anchor="end">0</text>
<line x1="113.4" y1="568.6" x2="116.2" y2="568.6" stroke="#111" stroke-width="1.1" />
<text x="110.4" y="571.5" font-size="8" text-anchor="end">20</text>
<line x1="113.4" y1="545" x2="116.2" y2="545" stroke="#111" stroke-width="1.1" />
<text x="110.4" y="547.9" font-size="8" text-anchor="end">40</text>
<line x1="113.4" y1="521.4" x2="116.2" y2="521.4" stroke="#111" stroke-width="1.1" />
<text x="110.4" y="524.3" font-size="8" text-anchor="end">60</text>
<line x1="113.4" y1="497.8" x2="116.2" y2="497.8" stroke="#111" stroke-width="1.1" />
<text x="110.4" y="500.7" font-size="8" text-anchor="end">80</text>
<line x1="116.2" y1="592.2" x2="173.8" y2="592.2" stroke="#111" stroke-width="1.3" />
<line x1="124.4" y1="592.2" x2="124.4" y2="595.2" stroke="#111" stroke-width="1.1" />
<line x1="138.3" y1="592.2" x2="138.3" y2="595.2" stroke="#111" stroke-width="1.1" />
<line x1="152.1" y1="592.2" x2="152.1" y2="595.2" stroke="#111" stroke-width="1.1" />
<line x1="166.2" y1="592.2" x2="166.2" y2="595.2" stroke="#111" stroke-width="1.1" />
<line x1="145.6" y1="473" x2="145.6" y2="592.2" stroke="#000" stroke-width="1.3" stroke-dasharray="1.9 2.3"/>
<path d="M137.3 506.5V500.8H166.5V506.5" fill="none" stroke="#111" stroke-width="0.9"/>
<text x="151.2" y="498.3" font-size="8" text-anchor="middle" textLength="7.6" lengthAdjust="spacingAndGlyphs">ns</text>
<line x1="124.4" y1="575.68" x2="124.4" y2="566.24" stroke="#c8c8c8" stroke-width="1.2" />
<line x1="122.8" y1="575.68" x2="126" y2="575.68" stroke="#c8c8c8" stroke-width="1.1" />
<line x1="122.8" y1="566.24" x2="126" y2="566.24" stroke="#c8c8c8" stroke-width="1.1" />
<circle cx="124.4" cy="565.06" r="1.45" fill="#c8c8c8"/>
<circle cx="124.4" cy="570.96" r="1.45" fill="#c8c8c8"/>
<circle cx="124.4" cy="573.32" r="1.45" fill="#c8c8c8"/>
<circle cx="124.4" cy="575.68" r="1.45" fill="#c8c8c8"/>
<line x1="121.5" y1="571.55" x2="127.3" y2="571.55" stroke="#111" stroke-width="1.3" />
<line x1="138.3" y1="562.7" x2="138.3" y2="548.54" stroke="#b01038" stroke-width="1.2" />
<line x1="136.7" y1="562.7" x2="139.9" y2="562.7" stroke="#b01038" stroke-width="1.1" />
<line x1="136.7" y1="548.54" x2="139.9" y2="548.54" stroke="#b01038" stroke-width="1.1" />
<circle cx="137.3" cy="547.95" r="1.45" fill="#b01038"/>
<circle cx="139.3" cy="548.54" r="1.45" fill="#b01038"/>
<circle cx="137.3" cy="562.7" r="1.45" fill="#b01038"/>
<circle cx="139.3" cy="563.88" r="1.45" fill="#b01038"/>
<line x1="135.4" y1="555.62" x2="141.2" y2="555.62" stroke="#111" stroke-width="1.3" />
<line x1="152.1" y1="575.68" x2="152.1" y2="566.24" stroke="#c8c8c8" stroke-width="1.2" />
<line x1="150.5" y1="575.68" x2="153.7" y2="575.68" stroke="#c8c8c8" stroke-width="1.1" />
<line x1="150.5" y1="566.24" x2="153.7" y2="566.24" stroke="#c8c8c8" stroke-width="1.1" />
<circle cx="152.1" cy="563.88" r="1.45" fill="#c8c8c8"/>
<circle cx="152.1" cy="570.96" r="1.45" fill="#c8c8c8"/>
<circle cx="152.1" cy="574.5" r="1.45" fill="#c8c8c8"/>
<line x1="149.2" y1="571.55" x2="155" y2="571.55" stroke="#111" stroke-width="1.3" />
<line x1="166.2" y1="555.62" x2="166.2" y2="545" stroke="#b01038" stroke-width="1.2" />
<line x1="164.6" y1="555.62" x2="167.8" y2="555.62" stroke="#b01038" stroke-width="1.1" />
<line x1="164.6" y1="545" x2="167.8" y2="545" stroke="#b01038" stroke-width="1.1" />
<circle cx="166.2" cy="543.82" r="1.45" fill="#b01038"/>
<circle cx="166.2" cy="546.18" r="1.45" fill="#b01038"/>
<circle cx="166.2" cy="549.72" r="1.45" fill="#b01038"/>
<circle cx="166.2" cy="557.98" r="1.45" fill="#b01038"/>
<line x1="163.3" y1="549.13" x2="169.1" y2="549.13" stroke="#111" stroke-width="1.3" />
<text x="0" y="0" font-size="8.8" text-anchor="middle" transform="rotate(-90 0 0)"></text>
<text x="127.7" y="601.2" font-size="8.7" text-anchor="end" textLength="11" lengthAdjust="spacingAndGlyphs" transform="rotate(-45 127.7 601.2)">iso</text>
<text x="142.2" y="601.2" font-size="8.7" text-anchor="end" textLength="20" lengthAdjust="spacingAndGlyphs" transform="rotate(-45 142.2 601.2)">PDL2</text>
<text x="155.5" y="601.2" font-size="8.7" text-anchor="end" textLength="11" lengthAdjust="spacingAndGlyphs" transform="rotate(-45 155.5 601.2)">iso</text>
<text x="170" y="601.2" font-size="8.7" text-anchor="end" textLength="20" lengthAdjust="spacingAndGlyphs" transform="rotate(-45 170 601.2)">PDL2</text>
<text x="129.9" y="485.1" font-size="9.2" text-anchor="middle" textLength="24.4" lengthAdjust="spacingAndGlyphs">Ki67+</text>
<text x="160.65" y="485.1" font-size="9.2" text-anchor="middle" textLength="21.7" lengthAdjust="spacingAndGlyphs">Ki67-</text>
<line x1="241.9" y1="491.2" x2="241.9" y2="592.4" stroke="#111" stroke-width="1.3" />
<line x1="239.1" y1="592.4" x2="241.9" y2="592.4" stroke="#111" stroke-width="1.1" />
<text x="237" y="595.3" font-size="7.7" text-anchor="end">0</text>
<line x1="239.1" y1="574.1" x2="241.9" y2="574.1" stroke="#111" stroke-width="1.1" />
<text x="237" y="577" font-size="7.7" text-anchor="end">20</text>
<line x1="239.1" y1="555.8" x2="241.9" y2="555.8" stroke="#111" stroke-width="1.1" />
<text x="237" y="558.7" font-size="7.7" text-anchor="end">40</text>
<line x1="239.1" y1="537.5" x2="241.9" y2="537.5" stroke="#111" stroke-width="1.1" />
<text x="237" y="540.4" font-size="7.7" text-anchor="end">60</text>
<line x1="239.1" y1="519.2" x2="241.9" y2="519.2" stroke="#111" stroke-width="1.1" />
<text x="237" y="522.1" font-size="7.7" text-anchor="end">80</text>
<line x1="239.1" y1="500.9" x2="241.9" y2="500.9" stroke="#111" stroke-width="1.1" />
<text x="237" y="503.8" font-size="7.7" text-anchor="end">100</text>
<line x1="241.9" y1="592.4" x2="299" y2="592.4" stroke="#111" stroke-width="1.3" />
<line x1="247" y1="592.4" x2="247" y2="595.4" stroke="#111" stroke-width="1.1" />
<line x1="256.3" y1="592.4" x2="256.3" y2="595.4" stroke="#111" stroke-width="1.1" />
<line x1="265.6" y1="592.4" x2="265.6" y2="595.4" stroke="#111" stroke-width="1.1" />
<line x1="275.1" y1="592.4" x2="275.1" y2="595.4" stroke="#111" stroke-width="1.1" />
<line x1="284.6" y1="592.4" x2="284.6" y2="595.4" stroke="#111" stroke-width="1.1" />
<line x1="294.1" y1="592.4" x2="294.1" y2="595.4" stroke="#111" stroke-width="1.1" />
<path d="M255.4 503.8V497.9H293V503.8" fill="none" stroke="#111" stroke-width="0.9"/>
<circle cx="274" cy="495" r="1.1" fill="#111"/>
<path d="M255.4 511.7V506.4H275.1V511.7" fill="none" stroke="#111" stroke-width="0.9"/>
<circle cx="265.6" cy="501.7" r="1.1" fill="#111"/>
<ellipse cx="247" cy="586.45" rx="2.9" ry="1.5" fill="#cccccc"/>
<circle cx="256.8" cy="581.42" r="1.45" fill="#1e3f82"/>
<circle cx="255.4" cy="582.79" r="1.45" fill="#1e3f82"/>
<circle cx="257.2" cy="584.16" r="1.45" fill="#1e3f82"/>
<circle cx="255.4" cy="585.54" r="1.45" fill="#1e3f82"/>
<circle cx="256.9" cy="586.45" r="1.45" fill="#1e3f82"/>
<ellipse cx="265.6" cy="585.54" rx="2.9" ry="1.5" fill="#cccccc"/>
<line x1="275.1" y1="565.87" x2="275.1" y2="519.2" stroke="#b01038" stroke-width="1.2" />
<line x1="273.5" y1="565.87" x2="276.7" y2="565.87" stroke="#b01038" stroke-width="1.1" />
<line x1="273.5" y1="519.2" x2="276.7" y2="519.2" stroke="#b01038" stroke-width="1.1" />
<circle cx="275.1" cy="518.28" r="1.45" fill="#b01038"/>
<circle cx="275.1" cy="531.1" r="1.45" fill="#b01038"/>
<circle cx="275.1" cy="565.87" r="1.45" fill="#b01038"/>
<circle cx="275.1" cy="575.93" r="1.45" fill="#b01038"/>
<line x1="272.2" y1="541.62" x2="278" y2="541.62" stroke="#111" stroke-width="1.3" />
<ellipse cx="284.6" cy="585.54" rx="2.9" ry="1.5" fill="#cccccc"/>
<line x1="294.1" y1="580.5" x2="294.1" y2="549.39" stroke="#8282d4" stroke-width="0.9" />
<line x1="292.5" y1="580.5" x2="295.7" y2="580.5" stroke="#8282d4" stroke-width="1.1" />
<line x1="292.5" y1="549.39" x2="295.7" y2="549.39" stroke="#8282d4" stroke-width="1.1" />
<circle cx="294.1" cy="549.39" r="1.45" fill="#8282d4"/>
<circle cx="294.1" cy="557.63" r="1.45" fill="#8282d4"/>
<circle cx="294.1" cy="564.95" r="1.45" fill="#8282d4"/>
<circle cx="294.1" cy="567.69" r="1.45" fill="#8282d4"/>
<circle cx="294.1" cy="578.67" r="1.45" fill="#8282d4"/>
<line x1="291.2" y1="564.95" x2="297" y2="564.95" stroke="#111" stroke-width="1.3" />
<text x="217" y="541.5" font-size="8.8" text-anchor="middle" textLength="88" lengthAdjust="spacingAndGlyphs" transform="rotate(-90 217 541.5)">PD-L1 (M.F.I) of GFP+ cells</text>
<text x="250.7" y="601.7" font-size="7.9" text-anchor="end" textLength="21" lengthAdjust="spacingAndGlyphs" transform="rotate(-45 250.7 601.7)">vector</text>
<text x="269.8" y="601.7" font-size="7.9" text-anchor="end" textLength="50" lengthAdjust="spacingAndGlyphs" transform="rotate(-45 269.8 601.7)">MyD88-L265P</text>
<text x="287.7" y="601.7" font-size="7.9" text-anchor="end" textLength="53" lengthAdjust="spacingAndGlyphs" transform="rotate(-45 287.7 601.7)">CARD11-L244P</text>
<text x="270.8" y="484.3" font-size="9.2" text-anchor="middle" textLength="46.6" lengthAdjust="spacingAndGlyphs" font-style="italic">INK4a/ARF</text>
<line x1="347.7" y1="488.6" x2="347.7" y2="592.7" stroke="#111" stroke-width="1.3" />
<line x1="344.9" y1="592.7" x2="347.7" y2="592.7" stroke="#111" stroke-width="1.1" />
<text x="341.5" y="595.6" font-size="7.7" text-anchor="end">0</text>
<line x1="344.9" y1="572.35" x2="347.7" y2="572.35" stroke="#111" stroke-width="1.1" />
<text x="341.5" y="575.25" font-size="7.7" text-anchor="end">20</text>
<line x1="344.9" y1="552" x2="347.7" y2="552" stroke="#111" stroke-width="1.1" />
<text x="341.5" y="554.9" font-size="7.7" text-anchor="end">40</text>
<line x1="344.9" y1="531.65" x2="347.7" y2="531.65" stroke="#111" stroke-width="1.1" />
<text x="341.5" y="534.55" font-size="7.7" text-anchor="end">60</text>
<line x1="344.9" y1="511.3" x2="347.7" y2="511.3" stroke="#111" stroke-width="1.1" />
<text x="341.5" y="514.2" font-size="7.7" text-anchor="end">80</text>
<line x1="344.9" y1="490.95" x2="347.7" y2="490.95" stroke="#111" stroke-width="1.1" />
<text x="341.5" y="493.85" font-size="7.7" text-anchor="end">100</text>
<line x1="347.7" y1="592.7" x2="404.6" y2="592.7" stroke="#111" stroke-width="1.3" />
<line x1="352.3" y1="592.7" x2="352.3" y2="595.7" stroke="#111" stroke-width="1.1" />
<line x1="361.8" y1="592.7" x2="361.8" y2="595.7" stroke="#111" stroke-width="1.1" />
<line x1="371.3" y1="592.7" x2="371.3" y2="595.7" stroke="#111" stroke-width="1.1" />
<line x1="380.4" y1="592.7" x2="380.4" y2="595.7" stroke="#111" stroke-width="1.1" />
<line x1="390" y1="592.7" x2="390" y2="595.7" stroke="#111" stroke-width="1.1" />
<line x1="399.3" y1="592.7" x2="399.3" y2="595.7" stroke="#111" stroke-width="1.1" />
<path d="M361.4 504.3V498.6H398.4V504.3" fill="none" stroke="#111" stroke-width="0.9"/>
<circle cx="379.8" cy="495" r="1.1" fill="#111"/>
<path d="M361.4 513.4V507.7H381.5V513.4" fill="none" stroke="#111" stroke-width="0.9"/>
<circle cx="371.3" cy="503.4" r="1.1" fill="#111"/>
<ellipse cx="352.3" cy="588.63" rx="2.9" ry="1.5" fill="#cccccc"/>
<ellipse cx="361.8" cy="587.61" rx="2.9" ry="1.5" fill="#1e3f82"/>
<ellipse cx="371.3" cy="588.12" rx="2.9" ry="1.5" fill="#cccccc"/>
<line x1="380.4" y1="582.53" x2="380.4" y2="572.86" stroke="#b01038" stroke-width="1.2" />
<line x1="378.8" y1="582.53" x2="382" y2="582.53" stroke="#b01038" stroke-width="1.1" />
<line x1="378.8" y1="572.86" x2="382" y2="572.86" stroke="#b01038" stroke-width="1.1" />
<circle cx="380.4" cy="572.86" r="1.45" fill="#b01038"/>
<circle cx="380.4" cy="575.91" r="1.45" fill="#b01038"/>
<circle cx="380.4" cy="582.53" r="1.45" fill="#b01038"/>
<line x1="377.5" y1="577.44" x2="383.3" y2="577.44" stroke="#111" stroke-width="1.3" />
<ellipse cx="390" cy="586.6" rx="2.9" ry="1.5" fill="#cccccc"/>
<line x1="399.3" y1="582.53" x2="399.3" y2="577.44" stroke="#8282d4" stroke-width="0.9" />
<line x1="397.7" y1="582.53" x2="400.9" y2="582.53" stroke="#8282d4" stroke-width="1.1" />
<line x1="397.7" y1="577.44" x2="400.9" y2="577.44" stroke="#8282d4" stroke-width="1.1" />
<circle cx="399.3" cy="577.44" r="1.45" fill="#8282d4"/>
<circle cx="400.8" cy="579.47" r="1.45" fill="#8282d4"/>
<circle cx="398.5" cy="582.02" r="1.45" fill="#8282d4"/>
<line x1="396.4" y1="579.98" x2="402.2" y2="579.98" stroke="#111" stroke-width="1.3" />
<text x="321.7" y="541.5" font-size="8.8" text-anchor="middle" textLength="88" lengthAdjust="spacingAndGlyphs" transform="rotate(-90 321.7 541.5)">PD-L2 (M.F.I) of GFP+ cells</text>
<text x="355.7" y="602.7" font-size="7.9" text-anchor="end" textLength="21" lengthAdjust="spacingAndGlyphs" transform="rotate(-45 355.7 602.7)">vector</text>
<text x="374.5" y="602.7" font-size="7.9" text-anchor="end" textLength="50" lengthAdjust="spacingAndGlyphs" transform="rotate(-45 374.5 602.7)">MyD88-L265P</text>
<text x="393" y="602.7" font-size="7.9" text-anchor="end" textLength="53" lengthAdjust="spacingAndGlyphs" transform="rotate(-45 393 602.7)">CARD11-L244P</text>
<text x="376.65" y="484.3" font-size="9.2" text-anchor="middle" textLength="46.5" lengthAdjust="spacingAndGlyphs" font-style="italic">INK4a/ARF</text>
<path d="M0 0H520V649H0Z" fill="none" stroke="#000" stroke-width="2.3"/><rect x="518.3" y="0" width="1.7" height="649" fill="#000"/><rect x="0" y="647.7" width="520" height="1.3" fill="#000"/>
</svg></body></html>
